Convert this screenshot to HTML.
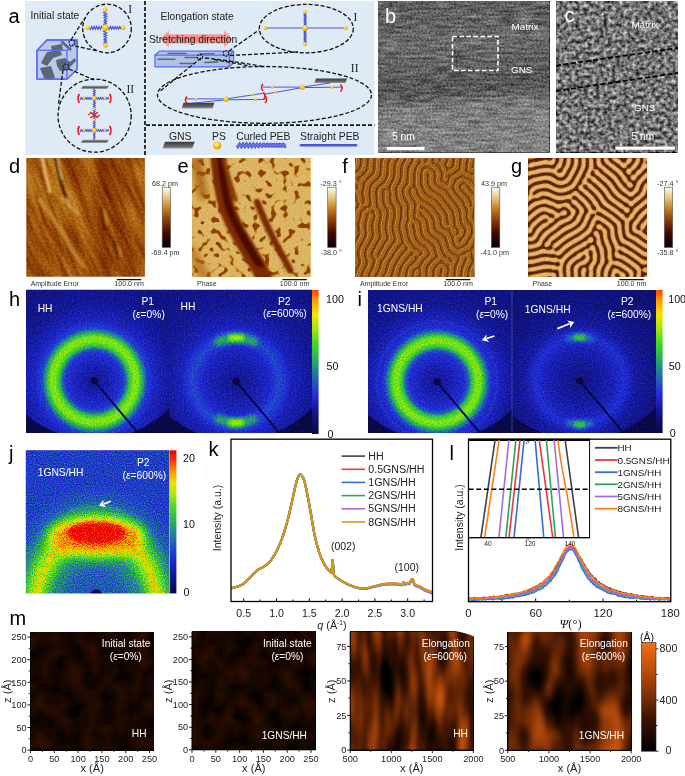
<!DOCTYPE html>
<html><head><meta charset="utf-8"><title>Figure</title>
<style>html,body{margin:0;padding:0;background:#fff;} svg{display:block;}</style></head>
<body><svg width="685" height="776" viewBox="0 0 685 776" font-family="'Liberation Sans', sans-serif">
<defs><radialGradient id="gball" cx="0.4" cy="0.35" r="0.7"><stop offset="0" stop-color="#fff3a0"/><stop offset="0.5" stop-color="#f7c520"/><stop offset="1" stop-color="#d99a00"/></radialGradient><linearGradient id="ggns" x1="0" y1="0" x2="0" y2="1"><stop offset="0" stop-color="#9a9a9a"/><stop offset="1" stop-color="#3a3a3a"/></linearGradient><linearGradient id="ggns2" x1="0" y1="0" x2="0" y2="1"><stop offset="0" stop-color="#3a3a3a"/><stop offset="0.6" stop-color="#606060"/><stop offset="1" stop-color="#9a9a9a"/></linearGradient><filter id="fb" filterUnits="userSpaceOnUse" x="378" y="1" width="172" height="152" color-interpolation-filters="sRGB"><feTurbulence type="fractalNoise" baseFrequency="0.55" numOctaves="1" seed="3" result="n1"/><feColorMatrix in="n1" type="matrix" values="1 0 0 0 0  1 0 0 0 0  1 0 0 0 0  0 0 0 0 1" result="g1"/><feTurbulence type="fractalNoise" baseFrequency="0.06 0.38" numOctaves="1" seed="8" result="n2"/><feColorMatrix in="n2" type="matrix" values="1 0 0 0 0  1 0 0 0 0  1 0 0 0 0  0 0 0 0 1" result="g2"/><feComposite in="SourceGraphic" in2="g1" operator="arithmetic" k1="0" k2="1" k3="0.5" k4="-0.25" result="m1"/><feComposite in="m1" in2="g2" operator="arithmetic" k1="0" k2="1" k3="0.45" k4="-0.225"/></filter><linearGradient id="gbbase" gradientUnits="userSpaceOnUse" x1="460" y1="1" x2="471" y2="153"><stop offset="0" stop-color="#606060"/><stop offset="0.18" stop-color="#646464"/><stop offset="0.27" stop-color="#6c6c6c"/><stop offset="0.34" stop-color="#656565"/><stop offset="0.48" stop-color="#5d5d5d"/><stop offset="0.56" stop-color="#565656"/><stop offset="0.61" stop-color="#5c5c5c"/><stop offset="0.655" stop-color="#707070"/><stop offset="0.7" stop-color="#7e7e7e"/><stop offset="1.0" stop-color="#838383"/></linearGradient><filter id="fc" filterUnits="userSpaceOnUse" x="556" y="1" width="122" height="152" color-interpolation-filters="sRGB"><feTurbulence type="fractalNoise" baseFrequency="0.25" numOctaves="2" seed="11" result="n"/><feColorMatrix in="n" type="matrix" values="1 0 0 0 0  1 0 0 0 0  1 0 0 0 0  0 0 0 0 1" result="ng"/><feComposite in="SourceGraphic" in2="ng" operator="arithmetic" k1="0" k2="1" k3="1.15" k4="-0.575" result="mix"/></filter><filter id="bl1" x="-20%" y="-20%" width="140%" height="140%"><feGaussianBlur stdDeviation="1.1"/></filter><filter id="bl05" x="-20%" y="-20%" width="140%" height="140%"><feGaussianBlur stdDeviation="0.6"/></filter><filter id="bl2" x="-100%" y="-50%" width="300%" height="200%"><feGaussianBlur stdDeviation="3"/></filter><clipPath id="cpd"><rect x="26.3" y="158" width="118.6" height="118.8"/></clipPath><filter id="fd2" filterUnits="userSpaceOnUse" x="-90" y="-90" width="180" height="180" color-interpolation-filters="sRGB"><feTurbulence type="fractalNoise" baseFrequency="0.012 0.05" numOctaves="2" seed="21" result="n0"/><feColorMatrix in="n0" type="matrix" values="1 0 0 0 0  1 0 0 0 0  1 0 0 0 0  0 0 0 0 1" result="g0"/><feComposite in="SourceGraphic" in2="g0" operator="arithmetic" k1="0" k2="1" k3="0.35" k4="-0.175" result="m0"/><feTurbulence type="fractalNoise" baseFrequency="0.03 0.25" numOctaves="1" seed="23" result="n1"/><feColorMatrix in="n1" type="matrix" values="1 0 0 0 0  1 0 0 0 0  1 0 0 0 0  0 0 0 0 1" result="g1"/><feComposite in="m0" in2="g1" operator="arithmetic" k1="0" k2="1" k3="0.3" k4="-0.15" result="m1"/><feTurbulence type="fractalNoise" baseFrequency="0.6" numOctaves="1" seed="22" result="n2"/><feColorMatrix in="n2" type="matrix" values="1 0 0 0 0  1 0 0 0 0  1 0 0 0 0  0 0 0 0 1" result="g2"/><feComposite in="m1" in2="g2" operator="arithmetic" k1="0" k2="1" k3="0.3" k4="-0.15" result="m2"/><feComponentTransfer in="m2"><feFuncR type="table" tableValues="0.000 0.055 0.110 0.165 0.220 0.275 0.343 0.412 0.480 0.549 0.601 0.653 0.705 0.752 0.795 0.839 0.882 0.912 0.941 0.971 1.000"/><feFuncG type="table" tableValues="0.000 0.008 0.016 0.024 0.031 0.039 0.088 0.137 0.186 0.235 0.304 0.374 0.443 0.516 0.593 0.669 0.745 0.806 0.867 0.927 0.988"/><feFuncB type="table" tableValues="0.000 0.000 0.000 0.000 0.000 0.000 0.005 0.010 0.015 0.020 0.043 0.066 0.089 0.154 0.246 0.339 0.431 0.559 0.686 0.814 0.941"/><feFuncA type="linear" slope="0" intercept="1"/></feComponentTransfer></filter><clipPath id="cpe"><rect x="192" y="158" width="118.8" height="119"/></clipPath><filter id="fe" filterUnits="userSpaceOnUse" x="192" y="158" width="118.8" height="119" color-interpolation-filters="sRGB"><feTurbulence type="fractalNoise" baseFrequency="0.17" numOctaves="1" seed="31" result="n"/><feColorMatrix in="n" type="matrix" values="9 0 0 0 -3.0100000000000002  9 0 0 0 -3.0100000000000002  9 0 0 0 -3.0100000000000002  0 0 0 0 1" result="g"/><feGaussianBlur in="g" stdDeviation="0.45" result="tb"/><feComponentTransfer in="tb" result="ts"><feFuncR type="linear" slope="0.32" intercept="0.46"/><feFuncG type="linear" slope="0.32" intercept="0.46"/><feFuncB type="linear" slope="0.32" intercept="0.46"/></feComponentTransfer><feTurbulence type="fractalNoise" baseFrequency="0.7" numOctaves="1" seed="81" result="fn"/><feColorMatrix in="fn" type="matrix" values="1 0 0 0 0  1 0 0 0 0  1 0 0 0 0  0 0 0 0 1" result="fg"/><feComposite in="ts" in2="fg" operator="arithmetic" k1="0" k2="1" k3="0.12" k4="-0.06" result="mx"/><feComponentTransfer in="mx"><feFuncR type="table" tableValues="0.000 0.055 0.110 0.165 0.220 0.275 0.343 0.412 0.480 0.549 0.601 0.653 0.705 0.752 0.795 0.839 0.882 0.912 0.941 0.971 1.000"/><feFuncG type="table" tableValues="0.000 0.008 0.016 0.024 0.031 0.039 0.088 0.137 0.186 0.235 0.304 0.374 0.443 0.516 0.593 0.669 0.745 0.806 0.867 0.927 0.988"/><feFuncB type="table" tableValues="0.000 0.000 0.000 0.000 0.000 0.000 0.005 0.010 0.015 0.020 0.043 0.066 0.089 0.154 0.246 0.339 0.431 0.559 0.686 0.814 0.941"/><feFuncA type="linear" slope="0" intercept="1"/></feComponentTransfer></filter><clipPath id="cpf"><rect x="355" y="158" width="119.6" height="119"/></clipPath><filter id="fnf" filterUnits="userSpaceOnUse" x="355" y="158" width="119.6" height="119" color-interpolation-filters="sRGB"><feTurbulence type="fractalNoise" baseFrequency="0.7" numOctaves="1" seed="44" result="n"/><feColorMatrix in="n" type="matrix" values="1 0 0 0 0  1 0 0 0 0  1 0 0 0 0  0 0 0 0 1" result="g"/><feComposite in="SourceGraphic" in2="g" operator="arithmetic" k1="0" k2="1" k3="0.22" k4="-0.11"/></filter><path id="pf" d="M355.2,171.4 355.2,167.8 355.9,166.2 356.9,160.2 357.0,158.2 360.4,158.2 359.8,164.8 359.3,166.8 356.8,170.5 355.2,171.4ZM355.2,239.7 355.2,221.2 355.2,220.2 355.8,219.8 356.1,218.8 355.8,214.2 356.5,211.8 357.6,209.8 360.0,206.8 360.8,204.2 359.1,201.8 358.9,198.2 358.4,196.2 356.8,192.2 356.2,191.5 355.2,191.2 355.2,186.5 356.6,189.8 357.2,190.4 358.2,190.2 358.9,189.8 359.5,188.8 359.6,187.8 359.5,186.2 358.8,184.9 356.2,182.9 355.2,181.8 355.2,175.6 356.2,174.8 357.8,172.7 360.8,171.1 361.9,169.2 362.9,166.8 363.3,164.8 363.7,158.2 367.1,158.2 366.4,167.2 365.5,170.2 362.5,173.2 361.1,175.2 360.2,175.9 358.2,176.6 357.2,177.8 357.1,179.2 358.2,180.8 359.8,181.3 361.1,180.8 362.6,177.2 365.8,175.1 368.5,171.8 369.3,170.2 369.9,167.8 370.1,162.2 370.6,158.2 374.1,158.2 373.6,161.2 373.0,170.2 372.3,172.2 370.8,174.5 367.2,177.6 365.5,180.2 362.9,182.2 362.4,183.2 362.9,187.8 361.4,191.2 361.1,193.8 361.5,195.8 362.5,198.2 362.5,200.8 362.1,203.2 363.0,204.2 364.2,204.6 364.8,204.4 365.4,203.8 365.9,202.8 366.1,201.2 366.0,199.2 365.1,196.2 364.9,193.2 365.1,191.2 366.6,183.8 367.6,182.2 374.2,175.7 375.8,173.2 376.4,170.8 377.1,160.8 377.7,158.2 381.4,158.2 380.6,160.8 380.2,163.2 379.9,170.2 379.4,173.8 378.9,175.2 377.5,177.2 371.2,183.2 370.2,184.8 369.1,187.8 368.6,190.8 368.5,194.2 369.4,201.2 369.4,203.8 368.2,205.9 367.2,206.4 365.2,206.3 364.2,206.9 360.5,211.2 359.6,213.2 359.3,217.2 359.0,218.8 357.6,221.8 357.2,224.2 357.9,230.8 357.8,233.8 356.9,236.8 355.2,239.7ZM366.8,277.8 363.8,277.8 364.1,275.8 365.1,272.8 369.0,264.8 369.4,263.2 369.3,260.8 367.5,255.8 367.6,252.2 368.5,249.8 374.5,238.8 375.5,235.8 375.4,233.2 374.6,229.2 374.5,224.2 375.1,221.8 376.4,218.2 376.6,216.2 375.3,210.8 374.2,209.6 373.2,209.3 372.2,209.6 370.8,212.2 370.2,212.5 368.8,212.5 367.8,212.8 366.8,213.8 366.1,215.2 364.2,224.8 364.2,226.8 364.9,231.8 364.9,234.2 364.0,237.2 360.1,244.8 357.1,251.2 356.9,253.8 358.4,258.8 358.5,262.8 357.9,264.8 355.2,269.5 355.2,247.1 360.9,235.8 361.4,233.8 361.4,231.8 360.7,224.8 361.1,222.2 362.4,217.8 363.1,213.8 363.5,212.8 364.2,211.7 366.2,210.4 368.2,208.5 369.2,208.1 371.2,208.1 371.8,207.8 372.4,206.8 372.7,204.2 372.0,196.2 372.0,191.8 372.1,189.8 372.6,187.8 373.6,185.8 374.8,184.3 380.3,179.2 382.3,176.2 382.9,173.8 383.3,170.2 383.6,163.2 384.2,160.8 385.1,158.2 388.8,158.2 389.0,158.2 387.6,161.2 387.1,163.2 386.5,173.8 384.9,178.8 382.2,182.3 377.2,186.5 376.1,188.2 375.6,189.8 375.3,192.8 376.0,201.8 376.1,206.8 376.7,208.2 379.0,210.8 379.4,211.8 379.8,214.2 379.4,219.2 378.1,223.8 378.0,225.2 378.1,229.8 378.9,233.8 379.0,236.8 378.4,238.8 376.2,242.2 371.1,252.2 370.8,254.2 371.0,256.2 372.9,260.2 373.0,263.2 371.3,267.8 368.6,273.2 367.2,277.8 366.8,277.8ZM374.2,277.8 370.7,277.8 372.1,273.8 375.3,267.2 376.7,261.8 376.6,259.2 374.5,256.8 374.1,255.8 374.1,254.2 375.1,251.2 379.7,242.8 382.0,239.2 382.5,238.2 382.7,236.2 381.6,230.8 381.4,226.2 381.6,224.2 382.9,218.2 383.4,213.8 382.9,211.2 380.5,207.8 379.5,205.2 378.6,194.2 378.7,191.8 379.2,189.8 380.2,187.9 381.8,186.7 384.2,185.3 385.8,183.8 386.9,182.2 389.4,176.8 389.9,174.2 390.2,165.8 390.6,163.2 392.1,159.8 393.0,158.2 396.8,158.2 396.9,158.2 394.7,162.2 393.6,165.8 393.4,174.2 392.4,178.8 387.8,187.6 386.8,188.3 384.8,188.3 383.9,188.8 382.7,190.2 382.1,191.8 382.0,194.8 382.7,203.2 383.7,206.2 386.4,210.8 386.8,213.2 386.4,217.8 385.1,223.8 384.9,226.8 385.1,230.8 386.4,236.2 386.4,237.8 385.8,239.8 383.6,242.8 378.0,252.8 377.5,255.2 377.6,256.8 377.9,257.2 379.2,257.6 379.8,257.5 380.5,256.8 382.2,251.8 383.9,249.2 386.6,244.2 389.4,240.8 390.0,239.2 390.0,236.8 389.1,233.8 388.2,227.2 388.6,223.2 389.9,217.2 390.1,212.2 389.5,209.2 387.1,205.2 386.1,202.8 385.4,194.8 385.6,192.2 386.7,190.2 387.2,189.8 388.2,190.0 389.3,191.2 389.4,192.8 388.8,196.8 389.6,202.2 390.2,203.8 392.4,207.2 393.4,210.2 393.4,216.8 392.0,223.2 391.6,227.2 392.6,233.8 393.9,238.2 393.9,239.8 393.3,241.2 390.6,244.2 386.0,251.8 383.9,256.8 381.0,259.8 380.2,261.8 379.4,265.8 378.4,268.8 375.2,275.2 374.2,277.8ZM381.2,277.8 377.9,277.8 381.9,269.2 383.1,264.2 384.1,261.8 387.5,256.8 389.6,252.2 392.4,248.2 394.1,245.2 396.8,242.7 397.5,241.2 397.5,238.8 396.6,235.8 395.1,227.8 395.1,225.2 396.4,219.8 396.9,216.2 396.9,209.8 396.3,207.2 393.6,202.8 392.5,199.8 392.3,197.8 392.5,193.2 391.6,188.8 392.2,186.2 395.5,180.2 396.4,177.8 397.0,166.8 397.6,164.2 400.8,158.2 404.2,158.2 404.5,158.2 404.0,159.8 401.6,163.8 400.6,166.2 400.1,169.8 399.9,178.2 398.8,181.2 395.7,186.8 395.1,189.8 396.1,199.8 397.0,201.8 399.8,206.2 400.3,208.8 400.0,218.8 398.6,224.8 398.5,227.8 399.1,231.2 401.4,240.8 401.4,242.2 400.8,243.7 398.8,244.9 397.5,246.2 395.9,249.2 393.2,252.8 391.5,256.2 387.7,262.2 386.6,264.8 384.9,271.2 381.9,277.2 381.2,277.8ZM396.8,277.8 393.3,277.8 394.8,274.2 396.1,268.2 397.1,265.8 402.0,257.8 406.2,252.2 408.7,250.8 409.4,249.2 409.0,247.2 406.2,244.6 405.1,241.8 404.6,240.2 403.8,235.8 402.1,229.2 402.0,224.8 403.5,218.8 403.5,212.2 403.9,207.8 403.0,204.8 400.7,201.2 399.5,198.8 399.1,196.2 398.5,190.2 399.1,187.2 401.9,182.8 403.0,180.2 403.5,177.8 403.6,169.2 404.6,165.2 407.3,160.8 408.1,158.2 411.2,158.2 411.6,158.2 411.5,159.2 411.0,161.2 408.2,165.8 407.2,168.8 406.4,181.2 405.4,183.8 402.6,187.8 402.0,189.8 402.1,193.8 403.1,198.2 404.1,200.2 406.5,203.8 407.3,207.2 406.6,213.8 407.0,217.2 407.0,219.2 405.6,224.2 405.3,226.8 405.6,229.2 406.9,233.8 408.1,239.8 409.1,242.2 413.4,248.2 414.2,250.0 414.8,250.5 418.2,251.1 419.0,251.8 419.4,252.8 419.5,254.8 418.8,255.5 415.2,255.7 414.3,252.2 413.8,251.5 411.8,251.6 410.8,252.1 409.4,254.8 406.6,257.2 401.1,265.2 399.1,269.8 398.0,275.8 397.4,277.2 397.1,277.8 396.8,277.8ZM425.2,277.8 421.5,277.8 422.5,275.8 422.6,274.8 422.0,270.2 422.1,267.2 423.2,264.8 427.2,259.4 428.3,258.2 430.8,256.2 431.5,254.8 431.5,252.8 428.5,247.2 421.8,242.0 420.0,240.2 419.0,238.8 417.6,235.2 416.5,230.2 415.9,225.2 414.8,223.3 413.8,222.9 412.8,223.2 412.2,223.9 412.0,224.8 412.0,226.2 413.3,230.2 413.6,233.2 414.2,235.8 415.6,239.8 417.2,242.2 419.8,244.9 423.8,247.6 426.9,250.8 427.8,252.2 427.9,253.2 427.5,254.8 426.8,255.8 424.2,257.7 420.7,262.2 418.2,266.7 417.2,267.6 414.8,268.1 413.1,269.8 412.1,273.2 411.6,277.8 408.2,277.8 408.6,273.2 409.1,271.2 411.0,267.2 412.0,266.2 413.8,265.4 415.2,264.1 418.9,259.2 420.2,256.4 423.2,255.2 423.9,253.8 423.9,252.8 423.1,251.2 420.2,249.5 415.1,245.2 412.6,241.2 411.1,237.8 408.6,225.8 409.1,223.8 410.0,222.2 410.5,220.8 410.5,219.2 410.0,215.8 410.8,205.8 409.9,202.8 407.6,199.2 406.1,196.2 405.5,194.2 405.3,192.2 405.5,189.8 406.0,188.2 408.9,184.8 409.9,182.2 410.2,172.2 410.6,169.2 412.1,165.8 414.0,163.2 414.4,162.2 414.7,159.8 415.0,158.2 415.2,158.2 418.5,158.2 418.9,159.2 418.9,160.2 417.2,163.2 416.3,165.8 414.1,169.2 413.6,173.2 413.3,182.8 413.0,185.2 412.2,186.8 409.7,188.2 409.1,189.2 408.6,191.8 409.1,194.2 410.7,197.8 413.5,202.2 414.3,205.2 413.7,210.8 413.3,218.2 414.2,220.0 417.2,221.6 418.4,222.8 419.0,223.8 419.4,224.8 419.8,226.8 420.2,231.2 421.0,234.8 422.1,237.2 424.3,239.8 430.7,244.8 432.5,246.8 433.3,248.2 434.0,251.2 435.4,254.8 435.4,255.8 434.8,257.1 431.7,259.2 429.9,261.8 427.7,264.2 426.1,266.8 425.5,268.8 425.6,277.2 425.6,277.8 425.2,277.8ZM460.8,246.4 458.2,246.4 457.3,245.8 456.6,244.8 455.0,239.8 455.1,237.8 455.6,235.8 453.0,233.8 452.5,232.8 451.8,229.2 451.2,228.7 449.8,228.1 447.2,228.2 446.2,227.9 444.8,226.6 443.7,225.2 443.1,223.8 442.9,219.8 442.4,217.2 440.4,213.2 436.4,207.8 434.2,205.2 429.8,201.6 428.2,200.7 424.8,199.3 423.0,197.8 421.0,195.2 420.1,193.2 418.9,189.8 417.1,187.2 416.6,184.8 417.0,172.2 418.0,169.8 418.6,166.8 419.4,165.8 421.4,164.2 422.6,162.8 422.5,161.8 421.0,159.8 421.3,158.2 425.5,158.2 424.0,161.2 423.8,162.2 424.8,163.0 426.2,163.5 427.2,163.4 428.3,162.2 428.7,160.8 428.6,158.2 432.3,158.2 431.5,161.2 431.6,162.2 432.0,163.2 433.2,164.4 435.2,164.9 436.2,165.5 438.4,168.2 440.4,171.8 440.9,173.2 441.1,175.2 440.4,179.8 440.6,180.8 441.1,181.8 442.2,182.6 444.8,183.3 447.2,185.8 448.2,185.9 449.2,185.3 449.6,184.8 449.9,183.8 450.0,180.8 452.8,176.1 456.2,174.8 458.2,173.1 460.8,171.6 461.5,170.8 461.9,169.8 462.1,166.2 463.3,158.2 466.8,158.2 465.6,164.2 465.8,167.2 464.7,170.8 465.0,172.2 465.8,172.9 469.8,173.2 472.2,175.4 473.8,175.8 474.8,175.7 474.8,181.0 473.2,179.1 471.8,178.0 467.2,176.9 466.2,176.3 464.2,174.4 462.2,174.5 459.2,176.8 456.2,178.1 454.8,179.5 453.8,181.3 452.9,184.2 451.8,185.9 451.5,186.8 451.5,188.2 452.2,189.8 456.2,195.8 461.5,201.8 463.5,206.2 465.0,208.8 465.9,212.2 466.1,219.8 467.2,222.2 470.0,225.2 470.9,227.8 470.9,233.2 470.4,235.2 469.9,236.2 468.2,238.3 466.8,241.8 465.8,243.1 461.8,246.0 460.8,246.4ZM446.2,181.4 445.2,181.4 444.8,180.9 444.0,179.2 444.0,176.8 445.0,174.2 444.4,172.2 442.7,169.8 441.4,166.2 439.8,163.5 436.8,163.1 435.6,161.8 435.1,159.8 435.4,158.2 438.8,158.2 439.2,160.8 439.8,161.9 440.2,162.3 441.2,162.0 442.2,161.2 442.8,158.2 446.4,158.2 446.0,160.2 444.4,162.8 444.1,164.2 444.6,165.8 445.9,167.8 446.7,170.8 447.2,171.4 448.2,171.8 449.2,171.5 451.2,169.6 453.8,168.5 455.0,167.2 455.8,164.8 455.8,161.8 456.5,158.2 459.9,158.2 459.1,163.2 458.9,167.2 458.4,168.8 457.2,170.0 454.2,171.6 452.2,173.9 451.2,174.1 449.2,174.0 448.2,174.4 447.5,175.8 448.2,179.8 447.5,180.8 446.2,181.4ZM450.2,167.4 449.2,167.3 448.3,166.8 447.8,165.8 448.0,163.8 449.5,160.8 449.6,158.2 453.0,158.2 452.0,165.2 451.2,166.7 450.2,167.4ZM474.8,171.4 471.2,171.6 470.2,171.4 469.2,170.2 468.6,168.8 468.5,167.2 470.3,158.2 473.5,158.2 473.4,162.2 471.6,165.8 471.6,166.8 472.1,167.8 472.8,168.4 473.8,168.5 474.8,168.1 474.8,171.4ZM461.8,242.8 462.9,241.2 463.8,238.9 466.5,236.2 467.4,232.2 467.6,229.8 467.4,228.2 466.9,227.2 464.1,223.8 463.1,221.2 462.7,218.8 462.4,212.2 461.9,210.2 460.8,207.8 457.9,202.8 453.6,197.8 450.7,193.8 447.8,188.9 446.8,188.1 443.8,187.4 438.8,184.0 437.6,182.8 437.1,181.2 437.0,180.2 437.5,176.8 437.4,173.8 436.9,171.8 435.9,170.2 431.8,166.6 429.8,165.7 427.8,165.6 423.2,167.0 422.2,167.8 421.1,169.8 420.1,175.2 420.1,183.8 421.0,187.2 423.0,190.8 424.2,193.8 425.0,194.8 427.8,196.9 432.8,199.6 435.2,201.6 437.9,204.2 443.4,211.8 444.9,214.2 445.9,217.2 446.6,223.2 447.2,224.5 448.2,225.5 449.2,225.7 450.0,225.2 450.5,224.2 450.6,223.2 450.4,222.2 449.6,220.2 448.9,214.8 446.9,210.8 440.9,202.8 438.2,199.7 435.8,197.6 429.2,193.9 428.0,192.8 426.6,190.8 424.1,185.8 423.6,183.2 423.6,173.8 424.1,171.8 425.8,169.5 426.8,168.9 428.2,169.0 430.8,170.1 432.9,171.8 433.9,173.8 434.0,176.2 433.6,180.8 434.1,183.2 434.6,184.2 435.8,185.8 439.2,188.4 443.8,190.6 445.8,192.3 449.1,197.2 455.4,205.2 457.8,209.2 458.9,212.8 459.4,216.2 459.6,220.8 460.1,223.2 461.2,225.7 463.4,228.2 464.1,230.2 463.9,232.8 462.8,236.2 461.9,237.2 459.2,238.5 458.4,240.2 458.6,241.8 459.2,242.4 460.2,242.9 461.8,242.8ZM459.1,235.2 460.0,234.2 460.5,233.2 460.4,230.8 457.1,225.2 456.6,223.8 456.5,219.2 455.4,212.8 454.3,209.8 451.9,206.2 443.2,194.9 441.2,193.1 436.2,190.5 434.2,188.9 432.1,186.8 431.2,185.2 430.6,183.2 430.1,179.2 430.6,175.8 430.4,173.8 429.2,172.5 427.8,172.6 427.0,173.2 426.5,174.2 426.5,175.8 427.3,178.8 426.9,181.8 427.2,183.8 428.7,187.8 430.1,189.8 431.8,191.4 438.8,195.6 441.2,197.8 450.9,210.8 451.9,212.8 453.4,220.8 453.6,227.2 454.4,228.2 455.8,229.2 456.5,230.2 456.5,233.2 455.9,235.2 456.8,235.7 457.8,235.7 459.1,235.2ZM452.8,277.8 449.6,277.8 450.3,272.8 450.8,267.2 450.2,264.5 449.8,263.9 446.4,263.2 445.7,262.8 443.8,259.9 442.2,259.4 440.7,259.8 439.2,262.2 436.0,264.2 433.6,267.8 432.5,270.2 432.4,277.8 428.6,277.8 429.1,274.8 429.0,269.8 430.1,266.8 431.2,265.0 434.2,262.0 435.9,259.8 436.8,259.1 438.8,258.4 439.2,258.0 439.5,257.2 439.5,255.8 438.0,252.8 436.9,248.2 435.4,244.8 433.6,242.8 427.2,237.9 425.0,235.2 424.1,233.2 423.6,231.2 422.9,224.8 422.3,222.8 420.8,220.3 417.8,218.4 416.6,216.8 416.4,214.8 417.6,212.2 417.1,208.2 417.9,205.2 417.9,203.8 417.0,201.2 415.6,199.2 412.5,193.8 412.1,191.2 412.6,189.2 413.2,188.4 414.2,188.4 415.0,188.8 415.9,190.2 416.0,192.8 416.5,194.2 418.3,196.8 420.6,200.8 422.2,202.0 425.2,202.6 426.2,203.2 431.2,207.1 433.4,209.2 437.9,215.8 438.9,217.8 439.4,219.8 440.0,225.2 441.1,227.8 443.2,229.8 446.8,230.6 448.5,232.2 449.9,234.2 450.9,236.2 451.9,239.2 452.5,243.8 453.7,246.2 457.2,250.0 458.2,250.4 459.8,250.4 460.8,250.0 463.3,248.2 466.2,247.4 468.2,245.7 473.5,236.2 474.5,232.8 473.8,224.2 472.8,222.5 470.8,221.5 470.1,220.8 469.1,218.2 469.1,215.8 469.4,211.8 468.9,208.8 466.7,205.8 465.9,202.8 464.8,200.4 459.2,194.2 456.6,190.8 455.6,188.8 455.3,186.2 455.6,184.8 458.6,180.8 460.8,179.0 462.2,178.6 464.2,178.6 469.2,180.7 470.8,181.6 474.2,185.0 474.8,185.6 474.8,186.2 474.8,191.1 473.2,190.4 472.7,189.8 470.9,186.2 470.2,185.5 465.2,182.1 463.2,182.1 461.8,182.6 459.8,184.4 459.0,186.2 459.0,188.2 460.1,190.2 462.7,193.2 466.0,196.2 469.0,200.8 469.4,201.8 470.0,206.2 471.2,207.3 472.2,207.4 472.8,207.1 473.3,205.8 473.4,204.2 472.9,201.8 471.3,197.8 470.2,195.9 467.7,193.8 466.0,191.2 462.8,188.7 462.4,187.8 462.6,186.2 463.8,185.5 464.8,185.4 465.8,185.7 466.3,186.2 468.1,189.2 473.8,194.8 474.8,196.2 474.8,207.8 474.8,208.0 473.6,208.8 473.2,209.8 472.4,216.8 472.5,218.2 473.1,219.8 473.8,220.4 474.8,220.5 474.8,220.8 474.8,240.2 471.5,247.2 470.2,248.9 468.8,250.0 464.8,251.2 460.8,253.9 459.2,254.2 457.8,253.9 452.9,250.8 451.5,249.2 450.2,246.8 447.8,237.8 446.8,235.8 444.2,233.5 439.2,230.8 437.6,228.8 436.6,225.8 435.9,219.8 434.9,217.2 433.9,215.8 429.2,209.5 425.8,207.5 423.2,205.1 422.2,204.6 421.2,204.6 420.0,205.8 420.2,207.2 421.2,209.0 422.2,209.7 424.8,210.0 425.8,210.7 431.0,217.2 432.4,220.2 432.9,222.2 433.6,228.2 434.1,229.8 435.0,231.2 436.2,232.5 442.7,236.8 444.4,238.8 447.2,248.2 448.6,251.2 453.2,255.4 456.2,256.1 457.4,257.2 457.6,258.2 457.4,259.8 455.5,263.2 454.1,266.8 453.4,276.2 453.1,277.8 452.8,277.8ZM355.2,207.9 355.2,199.0 355.6,200.8 356.9,203.2 357.0,204.2 356.5,206.8 355.2,207.9ZM451.9,262.8 452.9,262.2 453.6,261.2 453.5,259.2 453.0,258.2 452.2,257.6 449.8,257.0 448.8,256.5 445.1,252.2 441.4,240.8 439.2,238.5 432.8,233.8 431.1,231.8 430.2,228.8 429.4,222.2 428.0,218.8 425.2,215.8 422.2,212.0 421.2,211.7 420.2,212.0 419.4,212.8 419.3,213.2 420.0,215.2 421.3,216.8 423.9,218.8 424.9,220.2 425.9,222.8 426.4,224.8 427.1,231.2 428.2,233.8 430.8,236.5 436.2,240.5 438.3,242.8 439.5,245.2 440.6,249.8 442.6,254.8 444.1,257.2 445.2,258.0 447.8,258.6 448.9,259.8 450.2,262.5 450.8,262.9 451.9,262.8ZM360.2,277.8 357.0,277.8 357.1,275.8 358.1,271.8 359.1,269.2 361.4,265.2 362.0,263.2 362.0,259.8 360.6,255.2 360.6,251.8 361.5,249.2 367.9,236.8 368.4,233.2 367.6,227.8 367.7,224.2 369.6,216.2 370.5,213.8 370.8,213.3 371.2,213.3 372.9,214.2 373.5,215.8 373.5,216.8 371.6,221.2 371.1,225.2 371.1,228.2 371.9,232.8 371.9,235.2 371.0,238.2 365.1,249.2 364.2,251.8 364.0,255.2 365.5,259.8 365.7,262.8 365.2,264.7 361.6,272.2 360.6,275.8 360.5,277.8 360.2,277.8ZM389.2,277.8 385.4,277.8 388.0,272.8 389.5,266.8 390.7,263.8 397.1,252.8 400.3,249.2 401.8,246.1 402.8,245.4 404.2,245.5 404.8,245.8 405.3,246.8 405.0,249.2 404.2,250.2 401.6,252.2 394.7,263.2 393.1,266.8 390.9,274.8 389.2,277.8ZM474.8,259.2 474.5,255.8 472.9,252.8 473.1,251.8 474.8,248.1 474.8,259.2ZM466.8,277.8 463.4,277.8 464.0,270.8 464.7,268.2 466.0,264.8 468.5,259.8 468.5,258.2 467.8,257.5 466.2,256.9 465.8,257.0 465.2,257.6 464.1,260.2 463.4,262.8 461.7,266.2 460.6,270.2 460.0,277.8 456.5,277.8 457.1,271.2 458.1,265.8 460.4,261.8 460.7,258.2 461.2,256.7 461.8,256.0 462.8,255.6 465.2,255.7 465.8,255.5 467.8,253.1 468.8,252.5 469.8,252.5 470.8,253.0 471.2,253.8 470.5,257.2 471.9,260.8 471.3,262.8 469.0,266.2 468.1,268.8 467.2,273.2 466.8,277.8ZM404.2,277.8 401.0,277.8 403.1,268.2 406.6,262.8 409.2,260.2 411.2,256.9 412.8,256.1 414.8,255.8 415.1,256.2 415.2,257.8 414.8,259.6 414.2,260.3 411.4,262.2 409.8,264.6 407.6,266.8 406.7,268.2 405.6,271.8 404.8,277.2 404.6,277.8 404.2,277.8ZM473.2,277.8 470.3,277.8 470.6,273.8 471.7,268.8 474.8,263.5 474.8,270.2 474.1,273.2 473.5,277.8 473.2,277.8ZM446.2,277.8 442.7,277.8 442.5,274.2 443.9,271.2 444.1,269.8 444.0,268.8 443.6,268.2 442.2,267.6 440.8,268.2 440.1,269.2 439.6,274.2 438.8,277.8 435.5,277.8 436.0,275.8 436.1,270.2 437.1,268.2 438.8,266.6 439.9,264.8 440.8,264.1 442.8,264.1 444.8,265.0 446.2,266.5 447.4,268.2 447.5,270.8 446.1,275.2 446.2,277.8ZM418.2,277.8 415.1,277.8 415.4,276.2 415.2,274.2 415.6,272.2 416.8,270.5 417.8,269.7 418.2,269.7 419.2,270.2 419.8,271.8 419.5,273.2 418.1,276.2 418.2,277.8Z" fill-rule="evenodd"/><clipPath id="cpg"><rect x="528" y="158" width="119.2" height="119"/></clipPath><filter id="fng" filterUnits="userSpaceOnUse" x="528" y="158" width="119.2" height="119" color-interpolation-filters="sRGB"><feTurbulence type="fractalNoise" baseFrequency="0.7" numOctaves="1" seed="54" result="n"/><feColorMatrix in="n" type="matrix" values="1 0 0 0 0  1 0 0 0 0  1 0 0 0 0  0 0 0 0 1" result="g"/><feComposite in="SourceGraphic" in2="g" operator="arithmetic" k1="0" k2="1" k3="0.16" k4="-0.08"/></filter><linearGradient id="ggold" x1="0" y1="0" x2="0" y2="1"><stop offset="0.000" stop-color="rgb(255, 252, 240)"/><stop offset="0.200" stop-color="rgb(225, 190, 110)"/><stop offset="0.380" stop-color="rgb(185, 120, 25)"/><stop offset="0.550" stop-color="rgb(140, 60, 5)"/><stop offset="0.750" stop-color="rgb(70, 10, 0)"/><stop offset="1.000" stop-color="rgb(0, 0, 0)"/></linearGradient><filter id="bl3" x="-30%" y="-50%" width="160%" height="200%"><feGaussianBlur stdDeviation="2.2"/></filter><filter id="bl4" x="-30%" y="-50%" width="160%" height="200%"><feGaussianBlur stdDeviation="6"/></filter><filter id="fs1" filterUnits="userSpaceOnUse" x="26" y="289.8" width="143" height="143.2" color-interpolation-filters="sRGB"><feTurbulence type="fractalNoise" baseFrequency="0.65" numOctaves="1" seed="61" result="n0"/><feColorMatrix in="n0" type="matrix" values="1 0 0 0 0  1 0 0 0 0  1 0 0 0 0  0 0 0 0 1" result="g0"/><feComposite in="SourceGraphic" in2="g0" operator="arithmetic" k1="0" k2="1" k3="0.28" k4="-0.14" result="m0"/><feComponentTransfer in="m0"><feFuncR type="table" tableValues="0.031 0.044 0.058 0.071 0.096 0.122 0.137 0.137 0.137 0.147 0.157 0.190 0.222 0.344 0.525 0.706 0.853 0.954 0.987 1.000 1.000"/><feFuncG type="table" tableValues="0.031 0.050 0.068 0.086 0.121 0.156 0.219 0.325 0.431 0.539 0.647 0.729 0.810 0.859 0.884 0.910 0.905 0.841 0.688 0.495 0.275"/><feFuncB type="table" tableValues="0.235 0.340 0.444 0.549 0.677 0.805 0.846 0.757 0.667 0.529 0.392 0.294 0.196 0.130 0.084 0.039 0.015 0.000 0.000 0.000 0.000"/><feFuncA type="linear" slope="0" intercept="1"/></feComponentTransfer></filter><clipPath id="cp1"><rect x="26" y="289.8" width="143" height="143.2"/></clipPath><radialGradient id="rg1" gradientUnits="userSpaceOnUse" cx="94.3" cy="380.8" r="110"><stop offset="0.000" stop-color="rgb(41,41,41)"/><stop offset="0.120" stop-color="rgb(51,51,51)"/><stop offset="0.250" stop-color="rgb(69,69,69)"/><stop offset="0.285" stop-color="rgb(92,92,92)"/><stop offset="0.320" stop-color="rgb(148,148,148)"/><stop offset="0.360" stop-color="rgb(178,178,178)"/><stop offset="0.400" stop-color="rgb(176,176,176)"/><stop offset="0.440" stop-color="rgb(128,128,128)"/><stop offset="0.480" stop-color="rgb(79,79,79)"/><stop offset="0.550" stop-color="rgb(59,59,59)"/><stop offset="0.700" stop-color="rgb(43,43,43)"/><stop offset="0.850" stop-color="rgb(36,36,36)"/><stop offset="1.000" stop-color="rgb(33,33,33)"/></radialGradient><filter id="fs2" filterUnits="userSpaceOnUse" x="169" y="289.8" width="143" height="143.2" color-interpolation-filters="sRGB"><feTurbulence type="fractalNoise" baseFrequency="0.65" numOctaves="1" seed="62" result="n0"/><feColorMatrix in="n0" type="matrix" values="1 0 0 0 0  1 0 0 0 0  1 0 0 0 0  0 0 0 0 1" result="g0"/><feComposite in="SourceGraphic" in2="g0" operator="arithmetic" k1="0" k2="1" k3="0.28" k4="-0.14" result="m0"/><feComponentTransfer in="m0"><feFuncR type="table" tableValues="0.031 0.044 0.058 0.071 0.096 0.122 0.137 0.137 0.137 0.147 0.157 0.190 0.222 0.344 0.525 0.706 0.853 0.954 0.987 1.000 1.000"/><feFuncG type="table" tableValues="0.031 0.050 0.068 0.086 0.121 0.156 0.219 0.325 0.431 0.539 0.647 0.729 0.810 0.859 0.884 0.910 0.905 0.841 0.688 0.495 0.275"/><feFuncB type="table" tableValues="0.235 0.340 0.444 0.549 0.677 0.805 0.846 0.757 0.667 0.529 0.392 0.294 0.196 0.130 0.084 0.039 0.015 0.000 0.000 0.000 0.000"/><feFuncA type="linear" slope="0" intercept="1"/></feComponentTransfer></filter><clipPath id="cp2"><rect x="169" y="289.8" width="143" height="143.2"/></clipPath><radialGradient id="rg2" gradientUnits="userSpaceOnUse" cx="236.2" cy="381.3" r="110"><stop offset="0.000" stop-color="rgb(38,38,38)"/><stop offset="0.150" stop-color="rgb(48,48,48)"/><stop offset="0.300" stop-color="rgb(61,61,61)"/><stop offset="0.360" stop-color="rgb(76,76,76)"/><stop offset="0.390" stop-color="rgb(84,84,84)"/><stop offset="0.430" stop-color="rgb(76,76,76)"/><stop offset="0.500" stop-color="rgb(56,56,56)"/><stop offset="0.700" stop-color="rgb(41,41,41)"/><stop offset="1.000" stop-color="rgb(33,33,33)"/></radialGradient><filter id="fs3" filterUnits="userSpaceOnUse" x="368" y="289.9" width="144" height="143.20000000000005" color-interpolation-filters="sRGB"><feTurbulence type="fractalNoise" baseFrequency="0.65" numOctaves="1" seed="63" result="n0"/><feColorMatrix in="n0" type="matrix" values="1 0 0 0 0  1 0 0 0 0  1 0 0 0 0  0 0 0 0 1" result="g0"/><feComposite in="SourceGraphic" in2="g0" operator="arithmetic" k1="0" k2="1" k3="0.28" k4="-0.14" result="m0"/><feComponentTransfer in="m0"><feFuncR type="table" tableValues="0.031 0.044 0.058 0.071 0.096 0.122 0.137 0.137 0.137 0.147 0.157 0.190 0.222 0.344 0.525 0.706 0.853 0.954 0.987 1.000 1.000"/><feFuncG type="table" tableValues="0.031 0.050 0.068 0.086 0.121 0.156 0.219 0.325 0.431 0.539 0.647 0.729 0.810 0.859 0.884 0.910 0.905 0.841 0.688 0.495 0.275"/><feFuncB type="table" tableValues="0.235 0.340 0.444 0.549 0.677 0.805 0.846 0.757 0.667 0.529 0.392 0.294 0.196 0.130 0.084 0.039 0.015 0.000 0.000 0.000 0.000"/><feFuncA type="linear" slope="0" intercept="1"/></feComponentTransfer></filter><clipPath id="cp3"><rect x="368" y="289.9" width="144" height="143.20000000000005"/></clipPath><radialGradient id="rg3" gradientUnits="userSpaceOnUse" cx="437.1" cy="381.8" r="110"><stop offset="0.000" stop-color="rgb(41,41,41)"/><stop offset="0.120" stop-color="rgb(51,51,51)"/><stop offset="0.250" stop-color="rgb(69,69,69)"/><stop offset="0.285" stop-color="rgb(92,92,92)"/><stop offset="0.320" stop-color="rgb(148,148,148)"/><stop offset="0.360" stop-color="rgb(178,178,178)"/><stop offset="0.400" stop-color="rgb(173,173,173)"/><stop offset="0.440" stop-color="rgb(122,122,122)"/><stop offset="0.480" stop-color="rgb(76,76,76)"/><stop offset="0.520" stop-color="rgb(61,61,61)"/><stop offset="0.545" stop-color="rgb(69,69,69)"/><stop offset="0.570" stop-color="rgb(56,56,56)"/><stop offset="0.700" stop-color="rgb(41,41,41)"/><stop offset="0.850" stop-color="rgb(36,36,36)"/><stop offset="1.000" stop-color="rgb(33,33,33)"/></radialGradient><filter id="fs4" filterUnits="userSpaceOnUse" x="512" y="289.9" width="144" height="143.20000000000005" color-interpolation-filters="sRGB"><feTurbulence type="fractalNoise" baseFrequency="0.65" numOctaves="1" seed="64" result="n0"/><feColorMatrix in="n0" type="matrix" values="1 0 0 0 0  1 0 0 0 0  1 0 0 0 0  0 0 0 0 1" result="g0"/><feComposite in="SourceGraphic" in2="g0" operator="arithmetic" k1="0" k2="1" k3="0.28" k4="-0.14" result="m0"/><feComponentTransfer in="m0"><feFuncR type="table" tableValues="0.031 0.044 0.058 0.071 0.096 0.122 0.137 0.137 0.137 0.147 0.157 0.190 0.222 0.344 0.525 0.706 0.853 0.954 0.987 1.000 1.000"/><feFuncG type="table" tableValues="0.031 0.050 0.068 0.086 0.121 0.156 0.219 0.325 0.431 0.539 0.647 0.729 0.810 0.859 0.884 0.910 0.905 0.841 0.688 0.495 0.275"/><feFuncB type="table" tableValues="0.235 0.340 0.444 0.549 0.677 0.805 0.846 0.757 0.667 0.529 0.392 0.294 0.196 0.130 0.084 0.039 0.015 0.000 0.000 0.000 0.000"/><feFuncA type="linear" slope="0" intercept="1"/></feComponentTransfer></filter><clipPath id="cp4"><rect x="512" y="289.9" width="144" height="143.20000000000005"/></clipPath><radialGradient id="rg4" gradientUnits="userSpaceOnUse" cx="579.7" cy="380.7" r="110"><stop offset="0.000" stop-color="rgb(33,33,33)"/><stop offset="0.150" stop-color="rgb(43,43,43)"/><stop offset="0.300" stop-color="rgb(54,54,54)"/><stop offset="0.370" stop-color="rgb(64,64,64)"/><stop offset="0.400" stop-color="rgb(69,69,69)"/><stop offset="0.440" stop-color="rgb(61,61,61)"/><stop offset="0.500" stop-color="rgb(46,46,46)"/><stop offset="0.700" stop-color="rgb(33,33,33)"/><stop offset="1.000" stop-color="rgb(26,26,26)"/></radialGradient><filter id="fj" filterUnits="userSpaceOnUse" x="25.8" y="450.3" width="143.6" height="143.2" color-interpolation-filters="sRGB"><feTurbulence type="fractalNoise" baseFrequency="0.9" numOctaves="1" seed="71" result="n0"/><feColorMatrix in="n0" type="matrix" values="1 0 0 0 0  1 0 0 0 0  1 0 0 0 0  0 0 0 0 1" result="g0"/><feComposite in="SourceGraphic" in2="g0" operator="arithmetic" k1="0" k2="1" k3="0.55" k4="-0.275" result="m0"/><feComponentTransfer in="m0"><feFuncR type="table" tableValues="0.031 0.048 0.064 0.082 0.102 0.122 0.129 0.134 0.141 0.151 0.176 0.225 0.275 0.490 0.706 0.874 0.963 1.000 0.988 0.960 0.910"/><feFuncG type="table" tableValues="0.031 0.054 0.077 0.108 0.145 0.181 0.269 0.371 0.475 0.582 0.680 0.761 0.843 0.876 0.910 0.890 0.772 0.588 0.343 0.140 0.000"/><feFuncB type="table" tableValues="0.275 0.405 0.536 0.643 0.734 0.825 0.791 0.725 0.627 0.480 0.353 0.255 0.157 0.098 0.039 0.011 0.000 0.000 0.000 0.000 0.000"/><feFuncA type="linear" slope="0" intercept="1"/></feComponentTransfer></filter><clipPath id="cpj"><rect x="25.8" y="450.3" width="143.6" height="143.2"/></clipPath><radialGradient id="rgj" gradientUnits="userSpaceOnUse" cx="96.2" cy="610" r="100" gradientTransform="translate(96.2,610) scale(1,1.26) translate(-96.2,-610)"><stop offset="0.000" stop-color="rgb(82,82,82)"/><stop offset="0.300" stop-color="rgb(89,89,89)"/><stop offset="0.450" stop-color="rgb(112,112,112)"/><stop offset="0.530" stop-color="rgb(153,153,153)"/><stop offset="0.610" stop-color="rgb(194,194,194)"/><stop offset="0.680" stop-color="rgb(163,163,163)"/><stop offset="0.760" stop-color="rgb(120,120,120)"/><stop offset="0.860" stop-color="rgb(87,87,87)"/><stop offset="1.000" stop-color="rgb(71,71,71)"/></radialGradient><linearGradient id="gjet2" x1="0" y1="0" x2="0" y2="1"><stop offset="0.000" stop-color="rgb(232, 0, 0)"/><stop offset="0.070" stop-color="rgb(250, 50, 0)"/><stop offset="0.150" stop-color="rgb(255, 150, 0)"/><stop offset="0.230" stop-color="rgb(240, 225, 0)"/><stop offset="0.300" stop-color="rgb(180, 232, 10)"/><stop offset="0.400" stop-color="rgb(70, 215, 40)"/><stop offset="0.520" stop-color="rgb(40, 165, 100)"/><stop offset="0.620" stop-color="rgb(35, 110, 175)"/><stop offset="0.740" stop-color="rgb(32, 48, 215)"/><stop offset="0.880" stop-color="rgb(18, 22, 150)"/><stop offset="1.000" stop-color="rgb(8, 8, 70)"/></linearGradient><linearGradient id="gjet" x1="0" y1="0" x2="0" y2="1"><stop offset="0.000" stop-color="rgb(255, 70, 0)"/><stop offset="0.080" stop-color="rgb(255, 160, 0)"/><stop offset="0.170" stop-color="rgb(240, 230, 0)"/><stop offset="0.250" stop-color="rgb(180, 232, 10)"/><stop offset="0.380" stop-color="rgb(60, 215, 40)"/><stop offset="0.500" stop-color="rgb(40, 165, 100)"/><stop offset="0.600" stop-color="rgb(35, 110, 170)"/><stop offset="0.720" stop-color="rgb(35, 45, 225)"/><stop offset="0.850" stop-color="rgb(18, 22, 140)"/><stop offset="1.000" stop-color="rgb(8, 8, 60)"/></linearGradient><filter id="fm0" filterUnits="userSpaceOnUse" x="30.5" y="632" width="123.5" height="118.10000000000002" color-interpolation-filters="sRGB"><feTurbulence type="fractalNoise" baseFrequency="0.06" numOctaves="2" seed="81" result="n0"/><feColorMatrix in="n0" type="matrix" values="1 0 0 0 0  1 0 0 0 0  1 0 0 0 0  0 0 0 0 1" result="g0"/><feComposite in="SourceGraphic" in2="g0" operator="arithmetic" k1="0" k2="1" k3="0.32" k4="-0.16" result="m0"/><feComponentTransfer in="m0"><feFuncR type="table" tableValues="0.000 0.039 0.078 0.118 0.157 0.196 0.235 0.294 0.353 0.412 0.471 0.529 0.588 0.635 0.681 0.728 0.775 0.821 0.868 0.914 0.961"/><feFuncG type="table" tableValues="0.000 0.013 0.026 0.039 0.052 0.065 0.078 0.105 0.131 0.157 0.183 0.209 0.235 0.260 0.284 0.309 0.333 0.358 0.382 0.407 0.431"/><feFuncB type="table" tableValues="0.000 0.001 0.003 0.004 0.005 0.007 0.008 0.012 0.016 0.020 0.024 0.027 0.031 0.037 0.043 0.049 0.055 0.061 0.067 0.073 0.078"/><feFuncA type="linear" slope="0" intercept="1"/></feComponentTransfer></filter><filter id="fm1" filterUnits="userSpaceOnUse" x="192" y="631.6" width="123.5" height="118.19999999999993" color-interpolation-filters="sRGB"><feTurbulence type="fractalNoise" baseFrequency="0.06" numOctaves="2" seed="82" result="n0"/><feColorMatrix in="n0" type="matrix" values="1 0 0 0 0  1 0 0 0 0  1 0 0 0 0  0 0 0 0 1" result="g0"/><feComposite in="SourceGraphic" in2="g0" operator="arithmetic" k1="0" k2="1" k3="0.32" k4="-0.16" result="m0"/><feComponentTransfer in="m0"><feFuncR type="table" tableValues="0.000 0.039 0.078 0.118 0.157 0.196 0.235 0.294 0.353 0.412 0.471 0.529 0.588 0.635 0.681 0.728 0.775 0.821 0.868 0.914 0.961"/><feFuncG type="table" tableValues="0.000 0.013 0.026 0.039 0.052 0.065 0.078 0.105 0.131 0.157 0.183 0.209 0.235 0.260 0.284 0.309 0.333 0.358 0.382 0.407 0.431"/><feFuncB type="table" tableValues="0.000 0.001 0.003 0.004 0.005 0.007 0.008 0.012 0.016 0.020 0.024 0.027 0.031 0.037 0.043 0.049 0.055 0.061 0.067 0.073 0.078"/><feFuncA type="linear" slope="0" intercept="1"/></feComponentTransfer></filter><filter id="fm2" filterUnits="userSpaceOnUse" x="350.2" y="631.8" width="123.19999999999999" height="118.30000000000007" color-interpolation-filters="sRGB"><feTurbulence type="fractalNoise" baseFrequency="0.06 0.014" numOctaves="2" seed="83" result="n0"/><feColorMatrix in="n0" type="matrix" values="1 0 0 0 0  1 0 0 0 0  1 0 0 0 0  0 0 0 0 1" result="g0"/><feComposite in="SourceGraphic" in2="g0" operator="arithmetic" k1="0" k2="1" k3="1.2" k4="-0.6" result="m0"/><feTurbulence type="fractalNoise" baseFrequency="0.03 0.02" numOctaves="1" seed="90" result="n1"/><feColorMatrix in="n1" type="matrix" values="1 0 0 0 0  1 0 0 0 0  1 0 0 0 0  0 0 0 0 1" result="g1"/><feComposite in="m0" in2="g1" operator="arithmetic" k1="0" k2="1" k3="0.6" k4="-0.3" result="m1"/><feComponentTransfer in="m1"><feFuncR type="table" tableValues="0.000 0.039 0.078 0.118 0.157 0.196 0.235 0.294 0.353 0.412 0.471 0.529 0.588 0.635 0.681 0.728 0.775 0.821 0.868 0.914 0.961"/><feFuncG type="table" tableValues="0.000 0.013 0.026 0.039 0.052 0.065 0.078 0.105 0.131 0.157 0.183 0.209 0.235 0.260 0.284 0.309 0.333 0.358 0.382 0.407 0.431"/><feFuncB type="table" tableValues="0.000 0.001 0.003 0.004 0.005 0.007 0.008 0.012 0.016 0.020 0.024 0.027 0.031 0.037 0.043 0.049 0.055 0.061 0.067 0.073 0.078"/><feFuncA type="linear" slope="0" intercept="1"/></feComponentTransfer></filter><filter id="fm3" filterUnits="userSpaceOnUse" x="507.8" y="632" width="123.40000000000003" height="118.29999999999995" color-interpolation-filters="sRGB"><feTurbulence type="fractalNoise" baseFrequency="0.04 0.018" numOctaves="2" seed="84" result="n0"/><feColorMatrix in="n0" type="matrix" values="1 0 0 0 0  1 0 0 0 0  1 0 0 0 0  0 0 0 0 1" result="g0"/><feComposite in="SourceGraphic" in2="g0" operator="arithmetic" k1="0" k2="1" k3="1.15" k4="-0.575" result="m0"/><feTurbulence type="fractalNoise" baseFrequency="0.02 0.012" numOctaves="1" seed="91" result="n1"/><feColorMatrix in="n1" type="matrix" values="1 0 0 0 0  1 0 0 0 0  1 0 0 0 0  0 0 0 0 1" result="g1"/><feComposite in="m0" in2="g1" operator="arithmetic" k1="0" k2="1" k3="0.6" k4="-0.3" result="m1"/><feComponentTransfer in="m1"><feFuncR type="table" tableValues="0.000 0.039 0.078 0.118 0.157 0.196 0.235 0.294 0.353 0.412 0.471 0.529 0.588 0.635 0.681 0.728 0.775 0.821 0.868 0.914 0.961"/><feFuncG type="table" tableValues="0.000 0.013 0.026 0.039 0.052 0.065 0.078 0.105 0.131 0.157 0.183 0.209 0.235 0.260 0.284 0.309 0.333 0.358 0.382 0.407 0.431"/><feFuncB type="table" tableValues="0.000 0.001 0.003 0.004 0.005 0.007 0.008 0.012 0.016 0.020 0.024 0.027 0.031 0.037 0.043 0.049 0.055 0.061 0.067 0.073 0.078"/><feFuncA type="linear" slope="0" intercept="1"/></feComponentTransfer></filter><linearGradient id="gorng" x1="0" y1="0" x2="0" y2="1"><stop offset="0.000" stop-color="rgb(245, 110, 20)"/><stop offset="0.400" stop-color="rgb(150, 60, 8)"/><stop offset="0.700" stop-color="rgb(60, 20, 2)"/><stop offset="1.000" stop-color="rgb(0, 0, 0)"/></linearGradient></defs>
<rect width="685" height="776" fill="#fff"/>
<g id="panelA"><rect x="25" y="1" width="349.5" height="154" fill="#DEEAF6"/><line x1="145" y1="1" x2="145" y2="155" fill="none" stroke="#111" stroke-width="1.7" stroke-dasharray="4 2"/><line x1="146" y1="125.2" x2="374.5" y2="125.2" fill="none" stroke="#111" stroke-width="1.7" stroke-dasharray="4 2"/><g font-family="'Liberation Sans', sans-serif" fill="#222"><text x="30.5" y="19.2" font-size="10.2" fill="#222" text-anchor="start" >Initial state</text><text x="160.5" y="19.5" font-size="10.2" fill="#222" text-anchor="start" >Elongation state</text></g><circle cx="107" cy="28.5" r="24.3" fill="none" stroke="#111" stroke-width="1.3" stroke-dasharray="4 2"/><text x="128.2" y="12.8" font-family="'Liberation Serif', serif" font-size="11.5" fill="#222">I</text><polyline points="105.30,12.00 103.80,12.62 105.45,13.24 106.78,13.86 105.00,14.48 103.85,15.10 105.74,15.71 106.71,16.33 104.72,16.95 103.95,17.57 106.02,18.19 106.58,18.81 104.46,19.43 104.10,20.05 106.26,20.67 106.40,21.29 104.23,21.90 104.31,22.52 106.47,23.14 106.18,23.76 104.04,24.38 104.55,25.00" fill="none" stroke="#4a55d8" stroke-width="1.2"/><polyline points="105.30,31.00 103.80,31.62 105.45,32.24 106.78,32.86 105.00,33.48 103.85,34.10 105.74,34.71 106.71,35.33 104.72,35.95 103.95,36.57 106.02,37.19 106.58,37.81 104.46,38.43 104.10,39.05 106.26,39.67 106.40,40.29 104.23,40.90 104.31,41.52 106.47,42.14 106.18,42.76 104.04,43.38 104.55,44.00" fill="none" stroke="#4a55d8" stroke-width="1.2"/><polyline points="90.00,27.90 90.60,29.30 91.20,27.90 91.80,26.50 92.40,27.90 93.00,29.30 93.60,27.90 94.20,26.50 94.80,27.90 95.40,29.30 96.00,27.90 96.60,26.50 97.20,27.90 97.80,29.30 98.40,27.90 99.00,26.50 99.60,27.90 100.20,29.30 100.80,27.90 101.40,26.50 102.00,27.90" fill="none" stroke="#4a55d8" stroke-width="1.2"/><polyline points="108.50,27.90 109.12,29.30 109.75,27.72 110.38,26.53 111.00,28.26 111.62,29.23 112.25,27.36 112.88,26.64 113.50,28.60 114.12,29.06 114.75,27.05 115.38,26.85 116.00,28.89 116.62,28.82 117.25,26.79 117.88,27.12 118.50,29.11 119.12,28.52 119.75,26.61 120.38,27.45 121.00,29.25" fill="none" stroke="#4a55d8" stroke-width="1.2"/><circle cx="105.1" cy="9.9" r="2.3" fill="url(#gball)"/><circle cx="105.6" cy="45.5" r="2.3" fill="url(#gball)"/><circle cx="87.9" cy="27.8" r="2.3" fill="url(#gball)"/><circle cx="123.2" cy="27.8" r="2.3" fill="url(#gball)"/><circle cx="105.3" cy="27.8" r="3.3" fill="url(#gball)"/><g stroke="#5b6cf5" stroke-width="1.3" stroke-linejoin="round"><polygon points="36.9,50.4 46.9,40 77.2,40 77.2,69.2 67,79.1 36.9,79.1" fill="#b9c9e6"/></g><g fill="#5d6678"><polygon points="41,63 47,52 60,50 62,55 53,58 47,66"/><polygon points="51,46 62,44 63,50 52,52"/><polygon points="40,68 51,66 55,78 50,80 44,78"/><polygon points="56,60 65,58 70,62 69,70 60,71 57,66"/><polygon points="60,42 63,41 72,49 70,51"/><polygon points="67,64 75,58 76,61 70,67"/></g><g fill="none" stroke="#5b6cf5" stroke-width="1.3" stroke-linejoin="round"><polygon points="36.9,50.4 67,50.4 67,79.1 36.9,79.1"/><polyline points="36.9,50.4 46.9,40 77.2,40 67,50.4"/><polyline points="77.2,40 77.2,69.2 67,79.1"/></g><circle cx="72" cy="43" r="3" fill="none" stroke="#111" stroke-width="1.1" stroke-dasharray="2 1"/><circle cx="66" cy="67" r="3" fill="none" stroke="#111" stroke-width="1.1" stroke-dasharray="2 1"/><line x1="71" y1="40" x2="84" y2="19" fill="none" stroke="#111" stroke-width="1.3" stroke-dasharray="4 2"/><line x1="75" y1="46" x2="96" y2="50.5" fill="none" stroke="#111" stroke-width="1.3" stroke-dasharray="4 2"/><line x1="63" y1="70" x2="58.5" y2="104" fill="none" stroke="#111" stroke-width="1.3" stroke-dasharray="4 2"/><line x1="69" y1="69" x2="94" y2="80" fill="none" stroke="#111" stroke-width="1.3" stroke-dasharray="4 2"/><circle cx="94.6" cy="115.6" r="36.6" fill="none" stroke="#111" stroke-width="1.3" stroke-dasharray="4 2"/><text x="126.4" y="92.6" font-family="'Liberation Serif', serif" font-size="11.5" fill="#222">II</text><polygon points="81,88.5 83,85.8 109,85.8 107,88.5" fill="url(#ggns)"/><polygon points="81,142.5 83,139.8 109,139.8 107,142.5" fill="url(#ggns)"/><polyline points="94.30,89.00 93.50,89.48 94.31,89.95 95.10,90.43 94.29,90.91 93.50,91.38 94.32,91.86 95.10,92.33 94.27,92.81 93.50,93.29 94.34,93.76 95.10,94.24 94.26,94.72 93.50,95.19 94.35,95.67 95.10,96.15 94.24,96.62 93.50,97.10 94.37,97.58 95.10,98.05 94.23,98.53 93.50,99.00 94.38,99.48 95.10,99.96 94.21,100.43 93.51,100.91 94.40,101.39 95.09,101.86 94.20,102.34 93.51,102.82 94.41,103.29 95.09,103.77 94.18,104.25 93.51,104.72 94.43,105.20 95.09,105.67 94.17,106.15 93.51,106.63 94.44,107.10 95.09,107.58 94.15,108.06 93.51,108.53 94.46,109.01 95.08,109.49 94.14,109.96 93.52,110.44 94.47,110.92 95.08,111.39 94.12,111.87 93.52,112.34 94.49,112.82 95.08,113.30 94.11,113.77 93.52,114.25 94.50,114.73 95.07,115.20 94.09,115.68 93.53,116.16 94.51,116.63 95.07,117.11 94.08,117.58 93.53,118.06 94.53,118.54 95.07,119.01 94.06,119.49 93.54,119.97 94.54,120.44 95.06,120.92 94.05,121.40 93.54,121.87 94.56,122.35 95.06,122.83 94.04,123.30 93.55,123.78 94.57,124.25 95.05,124.73 94.02,125.21 93.55,125.68 94.59,126.16 95.05,126.64 94.01,127.11 93.56,127.59 94.60,128.07 95.04,128.54 93.99,129.02 93.56,129.50 94.61,129.97 95.03,130.45 93.98,130.92 93.57,131.40 94.63,131.88 95.03,132.35 93.97,132.83 93.57,133.31 94.64,133.78 95.02,134.26 93.95,134.74 93.58,135.21 94.65,135.69 95.02,136.17 93.94,136.64 93.59,137.12 94.67,137.59 95.01,138.07 93.93,138.55 93.59,139.02 94.68,139.50" fill="none" stroke="#4a55d8" stroke-width="1.1"/><polyline points="80.00,98.40 80.48,99.20 80.95,98.40 81.43,97.60 81.90,98.40 82.38,99.20 82.85,98.39 83.33,97.60 83.80,98.41 84.28,99.20 84.75,98.39 85.23,97.60 85.70,98.41 86.18,99.20 86.66,98.38 87.13,97.60 87.61,98.42 88.08,99.20 88.56,98.38 89.03,97.60 89.51,98.42 89.98,99.20 90.46,98.38 90.93,97.60 91.41,98.43 91.89,99.20 92.36,98.37 92.84,97.60 93.31,98.43 93.79,99.20 94.26,98.37 94.74,97.60 95.21,98.43 95.69,99.20 96.16,98.36 96.64,97.60 97.11,98.44 97.59,99.20 98.07,98.36 98.54,97.60 99.02,98.44 99.49,99.20 99.97,98.35 100.44,97.60 100.92,98.45 101.39,99.20 101.87,98.35 102.34,97.60 102.82,98.45 103.30,99.20 103.77,98.35 104.25,97.60 104.72,98.46 105.20,99.20 105.67,98.34 106.15,97.60 106.62,98.46 107.10,99.20 107.57,98.34 108.05,97.60 108.52,98.46 109.00,99.20" fill="none" stroke="#4a55d8" stroke-width="1.1"/><polyline points="80.00,130.50 80.48,131.30 80.95,130.50 81.43,129.70 81.90,130.50 82.38,131.30 82.85,130.49 83.33,129.70 83.80,130.51 84.28,131.30 84.75,130.49 85.23,129.70 85.70,130.51 86.18,131.30 86.66,130.48 87.13,129.70 87.61,130.52 88.08,131.30 88.56,130.48 89.03,129.70 89.51,130.52 89.98,131.30 90.46,130.48 90.93,129.70 91.41,130.53 91.89,131.30 92.36,130.47 92.84,129.70 93.31,130.53 93.79,131.30 94.26,130.47 94.74,129.70 95.21,130.53 95.69,131.30 96.16,130.46 96.64,129.70 97.11,130.54 97.59,131.30 98.07,130.46 98.54,129.70 99.02,130.54 99.49,131.30 99.97,130.45 100.44,129.70 100.92,130.55 101.39,131.30 101.87,130.45 102.34,129.70 102.82,130.55 103.30,131.30 103.77,130.45 104.25,129.70 104.72,130.56 105.20,131.30 105.67,130.44 106.15,129.70 106.62,130.56 107.10,131.30 107.57,130.44 108.05,129.70 108.52,130.56 109.00,131.30" fill="none" stroke="#4a55d8" stroke-width="1.1"/><circle cx="94.3" cy="98.4" r="2.4" fill="url(#gball)"/><circle cx="94.3" cy="130.5" r="2.4" fill="url(#gball)"/><circle cx="84" cy="98.4" r="1.4" fill="url(#gball)"/><circle cx="105" cy="98.4" r="1.4" fill="url(#gball)"/><circle cx="84" cy="130.5" r="1.4" fill="url(#gball)"/><circle cx="105" cy="130.5" r="1.4" fill="url(#gball)"/><circle cx="94.3" cy="109" r="1.4" fill="url(#gball)"/><circle cx="94.3" cy="120" r="1.4" fill="url(#gball)"/><path d="M79.1,94.5 Q76.9,98.5 79.1,102.5" fill="none" stroke="#f01010" stroke-width="1.6" stroke-dasharray="4 1.3" stroke-linecap="round"/><path d="M109.9,94.5 Q112.1,98.5 109.9,102.5" fill="none" stroke="#f01010" stroke-width="1.6" stroke-dasharray="4 1.3" stroke-linecap="round"/><path d="M79.1,126.5 Q76.9,130.5 79.1,134.5" fill="none" stroke="#f01010" stroke-width="1.6" stroke-dasharray="4 1.3" stroke-linecap="round"/><path d="M109.9,126.5 Q112.1,130.5 109.9,134.5" fill="none" stroke="#f01010" stroke-width="1.6" stroke-dasharray="4 1.3" stroke-linecap="round"/><path d="M88,115 q3,-3 6,0 q3,3 6,0 M90,112 q4,2 8,6 M90,118 q4,-2 8,-6" fill="none" stroke="#e8151b" stroke-width="1.1"/><defs><linearGradient id="garrow" x1="0" y1="0" x2="0" y2="1"><stop offset="0" stop-color="#f9c0bb"/><stop offset="0.5" stop-color="#f27e78"/><stop offset="1" stop-color="#f9c0bb"/></linearGradient></defs><polygon points="160.7,38.9 169,29.8 169,34.2 224,34.2 224,29.8 232.3,38.9 224,48 224,43.6 169,43.6 169,48" fill="url(#garrow)"/><text x="149" y="42.8" font-family="'Liberation Sans', sans-serif" font-size="10.3" fill="#222">Stretching direction</text><polygon points="154.9,55.2 159.4,51.2 233.7,51.2 233.7,63 229.3,66.9 154.9,66.9" fill="#aec3e6"/><g stroke="#5d6674" stroke-width="1.4" stroke-linecap="round"><line x1="168" y1="53.5" x2="186" y2="53.5"/><line x1="158" y1="59.3" x2="175" y2="59.3"/><line x1="185" y1="57.5" x2="197" y2="57.5"/><line x1="180" y1="63.5" x2="195" y2="63.5"/><line x1="205" y1="62.5" x2="218" y2="62"/><line x1="200" y1="54" x2="214" y2="53.8"/></g><g fill="none" stroke="#5b6cf5" stroke-width="1.2" stroke-linejoin="round"><rect x="154.9" y="55.2" width="74.4" height="11.7"/><polyline points="154.9,55.2 159.4,51.2 233.7,51.2 229.3,55.2"/><polyline points="233.7,51.2 233.7,63 229.3,66.9"/></g><circle cx="226" cy="53.5" r="2.8" fill="none" stroke="#111" stroke-width="1.1" stroke-dasharray="2 1"/><circle cx="200" cy="57" r="2.6" fill="none" stroke="#111" stroke-width="1.1" stroke-dasharray="2 1"/><ellipse cx="306.3" cy="28.6" rx="47" ry="24.2" fill="none" stroke="#111" stroke-width="1.3" stroke-dasharray="4 2"/><text x="353.6" y="20.8" font-family="'Liberation Serif', serif" font-size="11.5" fill="#222">I</text><line x1="266" y1="28" x2="346" y2="28" stroke="#4a55d8" stroke-width="1.2"/><polyline points="305.10,13.00 304.60,13.30 305.10,13.60 305.60,13.90 305.10,14.20 304.60,14.50 305.10,14.80 305.60,15.10 305.10,15.40 304.60,15.70 305.10,16.00 305.60,16.30 305.10,16.60 304.60,16.90 305.10,17.20 305.60,17.50 305.10,17.80 304.60,18.10 305.10,18.40 305.60,18.70 305.10,19.00 304.60,19.30 305.10,19.60 305.60,19.90 305.10,20.20 304.60,20.50 305.10,20.80 305.60,21.10 305.10,21.40 304.60,21.70 305.10,22.00 305.60,22.30 305.10,22.60 304.60,22.90 305.10,23.20 305.60,23.50 305.10,23.80 304.60,24.10 305.10,24.40 305.60,24.70 305.10,25.00 304.60,25.30 305.10,25.60 305.60,25.90 305.10,26.20 304.60,26.50 305.10,26.80 305.60,27.10 305.10,27.40 304.60,27.70 305.10,28.00 305.60,28.30 305.10,28.60 304.60,28.90 305.10,29.20 305.60,29.50 305.10,29.80 304.60,30.10 305.10,30.40 305.60,30.70 305.10,31.00 304.60,31.30 305.10,31.60 305.60,31.90 305.10,32.20 304.60,32.50 305.10,32.80 305.60,33.10 305.10,33.40 304.60,33.70 305.10,34.00 305.60,34.30 305.10,34.60 304.60,34.90 305.10,35.20 305.60,35.50 305.10,35.80 304.60,36.10 305.10,36.40 305.60,36.70 305.10,37.00 304.60,37.30 305.10,37.60 305.60,37.90 305.10,38.20 304.60,38.50 305.10,38.80 305.60,39.10 305.10,39.40 304.60,39.70 305.10,40.00 305.60,40.30 305.10,40.60 304.60,40.90 305.10,41.20 305.60,41.50 305.10,41.80 304.60,42.10 305.10,42.40 305.60,42.70 305.10,43.00" fill="none" stroke="#4a55d8" stroke-width="1.4"/><circle cx="265.6" cy="28" r="2" fill="url(#gball)"/><circle cx="346" cy="28" r="2" fill="url(#gball)"/><circle cx="305.1" cy="12" r="2" fill="url(#gball)"/><circle cx="305.1" cy="44" r="2" fill="url(#gball)"/><circle cx="305.1" cy="28" r="3" fill="url(#gball)"/><line x1="229" y1="51" x2="259" y2="30" fill="none" stroke="#111" stroke-width="1.3" stroke-dasharray="4 2"/><line x1="230" y1="55.5" x2="298" y2="52" fill="none" stroke="#111" stroke-width="1.3" stroke-dasharray="4 2"/><ellipse cx="264.5" cy="94.9" rx="107" ry="28.4" fill="none" stroke="#111" stroke-width="1.3" stroke-dasharray="4 2"/><text x="350.8" y="72.3" font-family="'Liberation Serif', serif" font-size="11.5" fill="#222">II</text><line x1="201" y1="58" x2="159" y2="92" fill="none" stroke="#111" stroke-width="1.3" stroke-dasharray="4 2"/><path d="M205,58 Q240,62 262,66.5" fill="none" stroke="#111" stroke-width="1.3" stroke-dasharray="4 2"/><line x1="214" y1="59.5" x2="250" y2="66" fill="none" stroke="#111" stroke-width="1.3" stroke-dasharray="4 2"/><polygon points="181.6,108.6 183.5,102.8 214.4,102.8 212.5,108.6" fill="url(#ggns2)"/><polygon points="314.3,83.1 316,78.4 347.1,78.4 345.4,83.1" fill="url(#ggns2)"/><g fill="none" stroke="#4a55d8" stroke-width="1"><polyline points="186.8,98.9 226.2,98.9 264.3,93.1"/><polyline points="192,103.2 226.2,99.8 264.3,99.4"/><polyline points="263,87.1 302.4,87.1 330,83"/><polyline points="265,94.2 302.4,87.6 341.8,87.1"/></g><circle cx="196" cy="99" r="1.5" fill="url(#gball)"/><circle cx="226.2" cy="99.2" r="2.6" fill="url(#gball)"/><circle cx="253" cy="94.5" r="1.5" fill="url(#gball)"/><circle cx="255.7" cy="99.4" r="1.5" fill="url(#gball)"/><circle cx="272.5" cy="87.1" r="1.5" fill="url(#gball)"/><circle cx="275.5" cy="92" r="1.5" fill="url(#gball)"/><circle cx="302.4" cy="87.2" r="2.6" fill="url(#gball)"/><circle cx="332" cy="87.2" r="1.5" fill="url(#gball)"/><path d="M186.6,97 Q184.4,100 186.6,103" fill="none" stroke="#f01010" stroke-width="1.6" stroke-dasharray="4 1.3" stroke-linecap="round"/><path d="M263.9,93 Q266.1,96 263.9,99" fill="none" stroke="#f01010" stroke-width="1.6" stroke-dasharray="4 1.3" stroke-linecap="round"/><path d="M262.6,84.5 Q260.4,87.5 262.6,90.5" fill="none" stroke="#f01010" stroke-width="1.6" stroke-dasharray="4 1.3" stroke-linecap="round"/><path d="M340.9,85 Q343.1,88 340.9,91" fill="none" stroke="#f01010" stroke-width="1.6" stroke-dasharray="4 1.3" stroke-linecap="round"/><path d="M265.4,96.5 Q267.6,99.5 265.4,102.5" fill="none" stroke="#f01010" stroke-width="1.6" stroke-dasharray="4 1.3" stroke-linecap="round"/><g font-family="'Liberation Sans', sans-serif" fill="#222"><text x="169" y="139.6" font-size="10.4" fill="#222" text-anchor="start" >GNS</text><text x="212" y="139.6" font-size="10.4" fill="#222" text-anchor="start" >PS</text><text x="236.2" y="139.6" font-size="10.4" fill="#222" text-anchor="start" >Curled PEB</text><text x="300" y="139.6" font-size="10.4" fill="#222" text-anchor="start" >Straight PEB</text></g><polygon points="162.5,148.5 165,141.8 194.7,141.8 192.2,148.5" fill="url(#ggns2)"/><circle cx="217.2" cy="145.6" r="4" fill="url(#gball)"/><polyline points="237.00,145.30 237.86,146.80 238.72,145.25 239.58,143.80 240.44,145.41 241.30,146.79 242.16,145.14 243.02,143.81 243.88,145.51 244.74,146.78 245.60,145.03 246.46,143.83 247.32,145.62 248.18,146.76 249.04,144.93 249.89,143.85 250.75,145.72 251.61,146.73 252.47,144.83 253.33,143.89 254.19,145.82 255.05,146.70 255.91,144.73 256.77,143.92 257.63,145.92 258.49,146.65 259.35,144.63 260.21,143.97 261.07,146.02 261.93,146.60 262.79,144.54 263.65,144.02 264.51,146.11 265.37,146.55 266.23,144.45 267.09,144.08 267.95,146.20 268.81,146.49 269.67,144.36 270.53,144.15 271.39,146.28 272.25,146.42 273.11,144.28 273.96,144.22 274.82,146.36 275.68,146.34 276.54,144.20 277.40,144.30 278.26,146.43 279.12,146.26 279.98,144.13 280.84,144.38 281.70,146.50 282.56,146.18 283.42,144.07 284.28,144.47 285.14,146.56 286.00,146.09" fill="none" stroke="#4a55d8" stroke-width="2.6"/><polyline points="237.00,145.30 237.86,146.80 238.72,145.25 239.58,143.80 240.44,145.41 241.30,146.79 242.16,145.14 243.02,143.81 243.88,145.51 244.74,146.78 245.60,145.03 246.46,143.83 247.32,145.62 248.18,146.76 249.04,144.93 249.89,143.85 250.75,145.72 251.61,146.73 252.47,144.83 253.33,143.89 254.19,145.82 255.05,146.70 255.91,144.73 256.77,143.92 257.63,145.92 258.49,146.65 259.35,144.63 260.21,143.97 261.07,146.02 261.93,146.60 262.79,144.54 263.65,144.02 264.51,146.11 265.37,146.55 266.23,144.45 267.09,144.08 267.95,146.20 268.81,146.49 269.67,144.36 270.53,144.15 271.39,146.28 272.25,146.42 273.11,144.28 273.96,144.22 274.82,146.36 275.68,146.34 276.54,144.20 277.40,144.30 278.26,146.43 279.12,146.26 279.98,144.13 280.84,144.38 281.70,146.50 282.56,146.18 283.42,144.07 284.28,144.47 285.14,146.56 286.00,146.09" fill="none" stroke="#8890f0" stroke-width="0.8"/><line x1="301" y1="145.3" x2="356" y2="145.3" stroke="#4a55d8" stroke-width="2.6" stroke-linecap="round"/></g><g id="panelBC"><g filter="url(#fb)"><rect x="378" y="1" width="171.5" height="151.5" fill="url(#gbbase)"/></g><rect x="452.5" y="36.5" width="45.5" height="34" fill="none" stroke="#fff" stroke-width="1.6" stroke-dasharray="4.5 2.5"/><g font-family="'Liberation Sans', sans-serif" fill="#fff"><text x="385" y="23" font-size="20" fill="#fff" text-anchor="start" >b</text><text x="511.5" y="29.5" font-size="9.9" fill="#fff" text-anchor="start" >Matrix</text><text x="511" y="72.5" font-size="9.9" fill="#fff" text-anchor="start" >GNS</text><text x="392" y="139.5" font-size="10.3" fill="#fff" text-anchor="start" >5 nm</text></g><rect x="386.8" y="147" width="37.6" height="3.2" fill="#fff"/><g filter="url(#fc)"><rect x="556" y="1" width="122" height="151.5" fill="#747474"/></g><line x1="556" y1="65.6" x2="678" y2="48" stroke="#000" stroke-width="1.8" stroke-dasharray="5 2.5"/><line x1="556" y1="91" x2="678" y2="73" stroke="#000" stroke-width="1.8" stroke-dasharray="5 2.5"/><g font-family="'Liberation Sans', sans-serif" fill="#fff"><text x="564.5" y="22.3" font-size="20" fill="#fff" text-anchor="start" >c</text><text x="631.4" y="28.3" font-size="9.9" fill="#fff" text-anchor="start" >Matrix</text><text x="634" y="110.6" font-size="9.9" fill="#fff" text-anchor="start" >GNS</text><text x="631.6" y="140" font-size="10.1" fill="#fff" text-anchor="start" >5 nm</text></g><rect x="615.4" y="146.6" width="59.6" height="3.1" fill="#fff"/></g><g id="panelDG"><g clip-path="url(#cpd)"><g transform="translate(85.6,217.4) rotate(66)"><rect x="-90" y="-90" width="180" height="180" fill="rgb(128,128,128)" filter="url(#fd2)"/></g><g filter="url(#bl1)" stroke-linecap="round" fill="none"><polyline points="42,157 45,172 50,192" stroke="#ecc878" stroke-width="3.2" opacity="0.9"/><polyline points="58,157 60,170 62,178" stroke="#e0b868" stroke-width="2.0" opacity="0.8"/><polyline points="55,157 59,175 64,192 67,204" stroke="#2a0800" stroke-width="2.4" opacity="0.9"/><polyline points="67,199 70,207" stroke="#e8c070" stroke-width="2.0" opacity="0.8"/><polyline points="100.5,207 103,218 105,230" stroke="#3a1000" stroke-width="1.8" opacity="0.85"/><polyline points="105,210 107,224" stroke="#d8a850" stroke-width="1.5" opacity="0.7"/><polyline points="113.7,242 116,250 118,260" stroke="#3a1000" stroke-width="1.8" opacity="0.85"/><polyline points="119,246 121,256" stroke="#d8a850" stroke-width="1.5" opacity="0.7"/><polyline points="40,200 50,214 62,232 72,250 83,266" stroke="#d8a850" stroke-width="4.5" opacity="0.55"/><polyline points="62,198 70,206 78,214" stroke="#e0b060" stroke-width="3.5" opacity="0.6"/><polyline points="28,175 34,200 40,220" stroke="#c89038" stroke-width="3.0" opacity="0.5"/></g></g><g clip-path="url(#cpe)"><rect x="192" y="158" width="118.8" height="119" fill="rgb(196,196,196)" filter="url(#fe)"/><g filter="url(#bl2)" fill="none" stroke-linecap="round" opacity="0.8"><path d="M196,160 L203,195" stroke="#a05a10" stroke-width="10"/><path d="M192,252 L205,277" stroke="#b07020" stroke-width="10"/></g><g filter="url(#bl1)" fill="none" stroke-linecap="round"><path d="M218,154 C221,185 224,200 228,211 C233,223 238,233 243,241 C248,250 253,258 257,264 L265,280" stroke="#7e2c02" stroke-width="16"/><path d="M220,154 C223,185 226,200 230,211 C235,223 240,233 245,241 C250,250 254,257 258,263" stroke="#4a0c00" stroke-width="7"/><path d="M236,222 C244,236 252,250 262,266" stroke="#4a0c00" stroke-width="4"/><path d="M257,202 C262,215 268,228 274,240 C280,252 286,262 290,270" stroke="#7a2a00" stroke-width="6.5"/><path d="M224,160 C228,175 232,190 236,200" stroke="#8a3a05" stroke-width="4"/></g></g><g clip-path="url(#cpf)"><g filter="url(#fnf)"><rect x="355" y="158" width="119.6" height="119" fill="#8a4c10"/><g filter="url(#bl05)"><use href="#pf" x="0.9" y="0.3" fill="#5e2e04"/><use href="#pf" x="-0.7" y="-0.2" fill="#d09844"/><use href="#pf" x="0" y="0" fill="#a6641a"/></g></g></g><g clip-path="url(#cpg)"><g filter="url(#fng)"><rect x="528" y="158" width="119.2" height="119" fill="#5c1600"/><path d="M528.8,159.3 528.2,159.5 528.2,158.1 536.2,158.2 533.2,159.1 528.8,159.3ZM531.8,167.4 530.2,167.6 528.2,167.3 528.2,164.4 531.8,162.5 535.7,162.2 545.2,160.0 546.8,160.1 548.8,160.9 550.2,160.9 552.1,159.8 552.5,159.2 552.6,158.2 555.6,158.2 554.9,162.8 553.8,164.2 552.2,164.9 550.2,165.0 546.2,164.3 543.2,164.6 539.8,165.5 534.8,166.1 531.8,167.4ZM561.2,177.3 560.2,177.4 558.2,176.9 554.8,174.2 552.0,172.8 546.8,172.2 544.2,172.2 541.2,172.6 536.2,173.9 531.8,174.6 528.2,176.2 528.2,171.8 528.2,171.3 529.2,171.0 534.2,170.4 538.8,169.0 545.2,168.1 548.8,168.0 552.2,168.9 554.2,168.8 555.2,168.1 556.6,165.2 558.9,162.2 559.3,160.2 559.3,158.2 562.8,158.2 563.3,158.2 563.3,159.8 561.4,166.8 560.2,168.0 557.4,169.8 557.0,170.8 557.1,171.8 557.8,172.8 559.2,173.2 560.8,172.9 562.4,171.8 563.7,168.2 565.8,165.1 566.4,162.8 566.9,158.2 570.6,158.2 570.5,162.8 570.0,164.8 568.9,167.2 564.5,175.2 563.2,176.5 561.2,177.3ZM528.2,186.3 528.2,181.2 529.2,180.1 530.8,179.2 533.2,178.1 542.8,176.0 546.8,175.8 549.8,176.0 553.2,177.5 556.8,179.9 559.2,180.8 562.2,180.9 564.2,180.2 566.2,178.8 567.8,176.8 572.9,167.2 573.9,164.2 574.3,161.2 574.2,158.2 578.1,158.2 578.0,164.2 576.5,168.8 570.9,179.2 569.0,181.8 566.8,183.4 563.8,184.5 561.8,185.0 559.8,185.0 556.2,183.9 549.2,180.2 545.8,179.8 540.2,180.6 534.2,182.1 530.3,184.2 528.2,186.3ZM640.2,277.8 636.4,277.8 636.5,275.2 637.3,272.8 637.3,271.2 636.4,269.8 634.2,267.7 628.2,263.1 621.8,259.1 620.8,258.6 617.2,258.0 616.2,257.5 615.1,256.2 614.5,254.2 615.3,251.2 615.3,249.8 614.3,245.8 612.0,240.8 611.1,237.8 610.5,234.8 610.4,230.2 609.9,228.8 608.2,226.7 604.8,223.7 601.8,221.9 599.6,220.2 598.2,219.9 596.8,220.1 595.8,220.9 595.1,222.2 594.7,224.8 592.6,227.8 591.6,231.2 589.2,233.9 585.8,236.2 581.8,239.4 572.2,244.7 569.2,246.7 564.8,250.1 561.5,253.8 559.8,255.0 558.2,255.5 557.2,255.5 554.2,253.9 549.2,254.0 544.8,253.3 541.2,253.7 535.8,255.5 528.2,256.6 528.2,252.6 530.8,252.4 535.8,251.4 540.8,249.6 543.2,249.0 544.8,248.9 546.8,249.9 548.2,250.3 550.2,249.9 551.8,249.2 552.5,248.8 552.6,248.2 552.6,245.8 553.8,244.1 557.2,241.8 561.8,238.0 565.2,235.5 568.2,233.7 574.8,230.3 577.8,228.4 580.3,226.2 581.8,224.2 583.8,220.8 584.8,218.7 585.6,215.8 586.5,214.2 588.0,212.8 588.4,211.2 588.3,210.2 587.9,209.2 584.8,204.6 582.7,202.2 579.2,199.2 577.2,196.8 576.2,196.1 574.8,195.7 573.8,195.6 572.8,196.0 572.1,196.8 571.8,198.8 572.5,199.2 575.2,200.2 576.8,201.1 582.8,207.8 583.9,209.8 584.0,212.2 581.7,216.2 580.4,219.8 578.5,222.8 575.8,225.5 572.8,227.4 565.2,231.2 562.2,233.2 556.2,237.9 552.0,240.8 551.1,241.8 550.1,244.8 548.8,246.1 546.8,247.1 545.2,247.0 544.4,245.8 544.4,244.2 545.0,243.2 547.8,240.7 550.2,237.2 555.2,233.8 561.8,228.7 565.2,226.6 571.2,223.8 574.8,221.1 575.9,219.8 577.7,215.8 579.4,213.2 579.6,211.8 579.4,210.2 578.8,209.1 575.8,205.7 571.4,202.8 570.8,199.8 569.2,199.1 566.2,199.1 563.2,200.0 561.2,200.2 557.2,200.0 555.2,199.5 549.2,196.7 545.8,195.7 543.2,195.4 541.8,195.7 537.8,197.9 533.2,198.2 530.8,199.7 528.2,202.2 528.2,196.6 529.4,194.2 529.6,190.8 531.1,188.2 533.2,186.6 535.8,185.5 539.2,184.5 544.8,183.5 546.8,183.5 548.8,184.0 555.3,187.2 559.2,188.4 561.8,188.5 563.8,188.3 569.8,185.8 571.8,184.2 573.3,182.2 577.2,175.2 580.4,168.8 581.4,165.8 581.8,162.9 581.5,158.2 582.2,158.1 585.6,158.2 585.6,164.8 585.0,167.8 581.4,175.8 576.4,184.8 575.4,186.2 573.2,188.4 566.8,191.5 563.2,192.4 560.2,192.6 558.8,192.5 555.2,191.5 548.2,188.2 545.8,187.6 543.2,187.7 537.8,189.1 535.2,190.1 533.7,191.2 532.6,192.8 532.4,193.8 532.8,194.7 533.6,195.2 534.2,195.3 539.8,192.1 542.2,191.6 545.2,191.4 548.2,192.1 556.8,195.8 561.2,196.1 564.2,195.8 570.1,194.2 571.3,193.8 573.8,191.4 574.8,191.0 576.2,191.1 577.5,191.8 579.3,194.2 583.2,197.3 589.6,204.2 590.4,205.2 591.2,208.1 592.0,209.2 593.8,210.4 595.7,210.2 596.3,209.2 596.3,207.8 595.8,206.8 593.1,203.8 591.2,200.4 587.8,196.7 584.8,194.2 582.2,191.6 578.9,189.8 578.5,189.2 578.2,187.8 578.6,186.2 581.4,184.2 581.7,183.8 582.5,180.2 584.9,177.2 586.1,173.8 588.8,168.0 589.3,165.2 589.3,161.8 588.9,158.2 589.2,158.2 592.7,158.2 593.4,163.2 593.3,166.8 593.8,169.0 594.2,169.3 596.8,169.4 597.8,169.9 600.3,173.2 603.8,175.7 610.5,181.8 616.2,189.8 618.3,192.2 623.2,196.3 627.2,198.5 629.8,200.9 631.2,201.1 632.6,200.8 635.2,197.9 639.3,195.2 641.8,191.7 644.0,185.8 645.0,184.2 647.8,181.4 647.8,187.1 646.7,189.2 645.4,193.8 644.5,195.2 638.2,201.1 634.9,203.2 632.8,205.9 631.8,206.4 630.8,206.6 629.8,206.1 628.2,203.8 627.6,203.2 623.8,201.5 621.8,199.6 618.2,197.4 616.2,195.6 613.0,192.2 609.8,187.2 605.9,182.8 601.8,179.4 599.2,176.7 595.8,174.7 595.0,173.8 593.8,170.8 593.2,170.2 591.8,170.7 590.7,171.8 590.3,173.8 591.0,175.8 591.8,176.3 593.2,176.6 594.8,177.4 597.2,180.3 600.2,182.4 604.6,186.8 606.5,188.8 611.2,195.8 613.1,197.8 619.0,202.2 622.2,204.1 624.8,206.8 626.2,207.4 628.2,207.6 629.2,208.2 629.6,209.8 629.3,211.8 628.2,212.6 626.8,213.0 625.2,212.5 623.8,210.1 622.8,209.1 620.2,208.0 616.2,204.7 612.8,202.5 609.4,199.8 607.6,197.8 604.4,192.8 601.8,189.4 595.8,183.6 592.7,181.8 590.2,178.2 589.2,177.9 587.8,178.2 587.1,178.8 586.7,179.8 587.1,181.8 587.8,182.6 591.2,184.2 593.8,187.1 596.2,188.9 598.1,190.8 601.4,194.8 604.2,199.2 606.8,202.4 608.3,203.8 617.8,210.1 620.8,212.9 623.8,214.5 625.7,217.8 626.3,218.2 627.4,218.2 628.8,217.3 630.4,214.2 632.8,211.6 634.8,208.1 637.4,206.2 642.8,201.8 647.8,197.2 647.8,202.6 639.8,209.2 638.2,210.8 635.2,214.3 633.0,218.2 629.6,221.2 629.0,222.2 628.7,224.2 628.9,230.8 629.2,232.2 630.2,233.8 632.0,235.2 635.2,236.6 637.8,238.1 644.8,243.3 647.8,244.6 647.8,248.8 646.2,248.5 644.2,247.6 635.2,241.2 632.8,239.7 628.8,237.9 627.3,236.8 626.1,235.2 625.5,233.8 624.7,226.2 624.9,221.8 624.2,220.3 621.8,219.0 618.6,215.8 613.2,211.7 603.8,205.3 602.0,203.2 599.4,198.8 596.3,194.8 592.0,190.2 588.8,188.1 586.8,185.1 585.8,184.6 584.2,184.5 583.2,184.9 582.9,185.8 583.1,187.2 583.9,188.8 587.8,191.1 589.8,193.4 593.4,196.8 595.8,200.2 597.5,202.2 599.8,206.7 600.6,207.8 605.2,210.5 613.2,216.0 620.4,222.2 621.4,224.8 621.4,229.2 622.6,236.2 623.1,237.8 624.2,239.1 625.8,240.3 629.8,242.0 632.2,243.5 643.8,251.4 645.8,252.2 647.8,252.5 647.8,256.6 645.2,256.5 643.8,255.9 628.2,245.6 622.2,243.0 620.5,241.2 619.5,239.2 618.0,233.8 617.4,226.2 616.8,224.8 615.8,223.2 608.2,217.1 603.8,214.5 600.7,212.2 599.2,211.7 598.2,211.6 597.4,211.8 596.7,212.2 595.9,214.2 596.4,214.8 603.2,218.0 610.8,223.6 612.9,225.8 614.0,228.2 614.6,235.2 615.2,237.8 617.8,244.1 618.8,245.5 620.2,246.4 623.8,247.1 627.8,249.9 631.8,252.0 642.9,259.8 645.2,260.4 647.8,260.2 647.8,264.0 644.8,264.6 642.8,264.5 640.8,263.4 638.2,261.1 628.8,254.6 624.2,252.6 620.7,249.8 619.8,249.5 618.8,249.7 617.7,250.8 617.6,251.8 618.2,252.8 619.8,254.4 621.8,255.3 623.2,255.5 625.2,256.5 632.8,261.6 638.2,265.6 639.4,266.8 641.7,270.2 641.0,271.8 640.9,275.8 640.2,277.8ZM632.2,196.4 630.8,196.6 629.2,196.3 626.2,193.6 622.8,191.5 618.5,186.8 614.8,181.3 612.6,178.8 608.7,175.2 604.2,171.9 601.8,169.1 598.2,167.0 597.2,165.2 596.7,163.2 596.4,158.2 600.5,158.2 600.6,162.2 601.8,164.5 609.1,170.8 612.2,173.1 615.7,176.2 617.5,178.2 619.7,181.8 623.2,186.4 626.8,189.4 628.6,191.2 629.8,191.9 632.2,191.8 633.2,191.1 635.8,186.2 637.3,181.8 642.2,176.5 646.2,172.6 647.8,171.5 647.8,176.6 641.7,182.8 639.8,186.3 639.0,189.2 638.0,191.2 635.2,193.8 633.4,195.8 632.2,196.4ZM630.2,187.8 628.8,187.5 628.2,187.1 626.5,183.8 623.4,181.2 621.2,177.0 616.9,172.2 605.5,163.2 604.1,160.8 603.8,158.2 607.6,158.2 608.8,160.7 610.2,162.4 614.8,165.5 617.9,168.2 621.4,170.8 623.8,174.5 626.5,177.8 628.2,181.5 628.8,181.8 631.2,182.5 632.5,183.8 633.0,185.2 632.8,186.2 631.8,187.4 630.2,187.8ZM624.8,168.3 623.2,168.1 622.2,167.5 619.8,164.7 612.8,159.9 611.4,158.2 616.8,158.2 619.8,159.4 621.7,162.2 622.4,162.8 624.2,163.0 625.2,162.9 626.0,162.2 627.1,159.2 627.9,158.2 632.4,158.2 631.5,161.2 630.9,162.2 629.8,163.4 627.5,164.8 625.8,167.8 624.8,168.3ZM624.2,158.3 622.8,158.5 621.4,158.2 624.2,158.3ZM629.8,174.9 628.2,174.5 626.7,173.2 626.1,171.8 626.3,169.8 627.2,169.0 629.8,168.4 630.8,167.7 634.8,162.6 635.9,160.2 636.3,158.2 640.1,158.2 639.5,162.2 638.8,163.8 635.2,168.6 632.8,170.1 631.8,171.1 630.5,174.2 630.2,174.7 629.8,174.9ZM634.2,180.5 632.8,180.6 631.6,179.8 631.0,178.8 630.5,177.2 630.8,175.4 633.8,174.9 635.0,174.2 637.1,170.8 639.8,168.9 640.9,167.8 643.4,161.8 643.3,158.2 647.8,158.1 647.8,159.7 646.0,161.2 645.5,162.2 646.2,163.8 646.8,164.2 647.8,164.5 647.8,167.2 646.8,167.5 645.5,168.2 640.2,174.0 637.2,176.1 635.4,179.8 634.2,180.5ZM530.8,248.8 528.2,248.9 528.2,244.8 530.8,244.8 533.2,244.3 535.2,243.8 537.2,242.8 538.8,241.0 540.5,237.2 544.2,232.6 548.8,229.0 552.9,226.2 559.8,220.4 565.1,218.8 569.7,215.8 570.8,214.7 571.0,213.2 570.8,211.9 569.2,209.4 567.1,207.8 565.1,206.8 563.2,206.6 559.8,208.5 557.2,208.5 553.2,206.1 550.8,205.5 546.2,203.6 542.2,203.7 538.8,204.7 536.2,205.7 533.8,207.2 528.2,211.9 528.2,206.9 531.2,204.1 534.2,202.1 535.8,201.5 539.2,200.8 542.8,199.5 544.2,199.3 546.8,199.6 553.2,202.1 556.8,203.9 561.2,203.9 564.2,202.9 565.8,202.8 567.8,203.0 569.3,203.8 570.1,204.8 571.1,207.2 574.2,209.0 575.0,209.8 575.5,210.8 575.4,213.2 572.1,218.8 570.8,220.1 569.2,221.0 560.2,225.1 555.2,229.4 548.9,233.8 543.8,239.3 542.8,240.8 541.8,244.2 540.2,245.9 538.2,246.9 530.8,248.8ZM530.8,241.3 528.2,240.9 528.2,236.8 529.2,237.3 530.8,237.3 532.6,236.2 533.8,234.8 536.6,229.8 537.8,228.3 542.8,223.7 547.2,222.2 547.9,221.2 548.0,219.8 547.8,219.2 547.2,218.8 545.2,218.6 543.2,219.2 541.8,220.2 537.9,223.2 533.2,227.8 532.6,228.8 532.0,231.2 531.2,232.5 529.2,233.4 528.2,233.4 528.2,228.3 530.3,226.2 532.0,223.2 538.8,217.5 540.8,216.0 542.8,215.0 545.2,214.6 546.8,214.9 547.8,215.5 549.2,217.3 550.8,217.9 553.8,217.9 554.2,217.6 554.5,216.8 554.3,215.2 553.2,214.1 549.2,213.1 545.8,211.2 542.8,211.2 540.2,212.2 537.2,214.1 531.5,218.8 528.2,222.6 528.2,216.6 532.2,213.0 534.8,211.0 538.8,208.5 540.8,207.6 543.2,207.1 546.8,207.6 552.2,209.6 554.2,210.5 557.2,212.8 558.8,213.2 560.1,212.8 561.8,211.2 562.8,210.6 565.2,210.4 565.8,210.5 566.6,211.2 567.0,212.2 566.9,213.2 566.5,214.2 565.8,215.0 564.2,215.5 560.8,215.5 557.8,218.1 555.2,218.9 554.1,220.8 552.8,222.1 549.8,223.6 546.8,226.6 543.8,228.1 542.3,229.2 538.6,233.8 536.9,237.2 535.2,239.2 532.8,241.0 530.8,241.3ZM647.8,240.7 645.2,239.5 639.2,234.6 634.2,232.6 632.5,230.2 632.0,227.8 632.5,224.8 633.0,223.2 634.0,221.8 636.8,218.9 639.0,215.2 639.9,214.2 644.2,210.1 647.8,207.3 647.8,212.3 644.8,215.0 640.2,220.3 636.6,225.2 636.1,226.2 636.0,227.2 636.1,228.2 636.6,229.2 637.8,230.3 639.2,230.5 640.2,230.0 640.6,229.2 640.5,225.8 640.9,224.8 643.8,222.1 646.1,218.8 647.8,217.1 647.8,223.1 646.1,224.8 644.5,228.2 642.3,230.2 642.1,230.8 642.6,232.2 643.2,233.1 646.2,235.1 647.8,236.5 647.8,240.7ZM557.5,251.2 559.2,250.3 562.8,246.6 568.2,242.6 573.2,239.5 579.2,236.3 586.2,231.1 588.3,228.2 590.3,224.2 591.6,220.8 594.4,216.8 595.2,214.8 594.8,214.2 593.3,213.8 592.2,213.7 591.2,214.0 590.4,214.8 589.4,218.2 587.2,221.9 586.0,225.2 585.1,226.8 582.2,229.8 576.2,233.9 567.8,238.6 561.3,243.2 557.8,246.5 554.3,248.8 554.1,249.8 555.1,251.2 556.2,251.5 557.5,251.2ZM632.2,277.8 628.4,277.8 629.5,276.2 629.4,274.2 628.3,272.2 627.1,271.2 620.2,266.7 613.2,264.2 612.2,264.5 611.2,265.6 608.7,270.2 608.1,271.8 607.7,274.2 607.6,277.8 603.7,277.8 603.9,272.8 604.5,270.2 606.1,266.2 608.4,263.2 608.8,262.2 608.8,260.8 607.5,257.2 607.8,252.4 606.9,247.8 604.6,242.2 603.6,238.8 602.9,232.8 602.4,231.2 601.9,230.2 601.2,229.7 598.2,229.4 597.2,228.7 596.6,227.8 596.2,226.2 596.2,225.8 596.8,225.0 597.8,224.5 599.2,224.2 600.8,224.6 603.0,227.2 605.2,228.7 606.5,230.2 607.0,231.8 607.2,237.2 609.2,243.2 611.5,248.8 611.4,253.2 612.2,260.3 612.8,260.8 613.8,261.2 616.2,260.9 617.8,261.1 624.2,264.6 631.8,270.0 633.1,271.8 633.6,273.8 633.4,275.8 632.5,277.8 632.2,277.8ZM647.8,233.2 646.9,232.2 646.7,231.2 646.9,229.8 647.8,228.6 647.8,233.2ZM600.2,277.8 596.4,277.8 596.6,269.8 597.6,266.8 599.9,262.8 600.3,261.2 600.6,257.8 600.4,254.8 599.3,248.8 598.8,247.2 597.0,244.8 596.4,243.2 596.8,238.2 596.3,237.2 594.2,235.2 593.5,233.8 593.5,232.8 594.1,231.8 595.2,231.0 596.2,230.8 597.2,231.0 597.8,231.5 599.4,234.8 601.2,243.8 602.9,247.2 603.9,250.8 604.1,255.8 604.6,258.8 604.5,262.2 603.9,263.8 601.7,267.2 600.7,270.2 600.1,273.2 600.5,277.8 600.2,277.8ZM562.8,277.8 559.3,277.8 558.8,271.2 558.2,270.3 557.2,269.6 553.8,269.7 550.2,268.7 548.2,268.7 542.8,269.1 532.8,271.4 529.8,271.5 528.2,271.9 528.2,267.9 530.2,267.8 532.8,267.1 535.7,266.8 543.2,265.0 546.2,264.6 550.2,265.1 553.8,265.0 557.2,266.7 558.2,266.6 559.8,265.5 560.2,264.2 559.8,262.8 558.8,261.9 557.8,261.7 554.2,262.2 550.2,261.2 543.8,261.1 531.8,263.9 528.2,264.0 528.2,260.1 534.8,259.3 541.2,257.5 546.2,257.0 548.2,257.1 551.8,257.9 556.2,257.7 559.2,259.3 560.2,259.3 562.0,258.2 564.8,254.9 571.2,249.6 576.8,246.1 580.2,244.4 583.2,242.2 586.8,240.8 588.5,238.2 589.8,237.1 590.8,236.9 591.8,237.1 592.9,238.2 593.2,239.8 593.0,241.2 592.2,242.4 591.2,242.9 588.2,243.1 587.2,243.9 585.8,245.9 584.8,246.6 581.8,247.7 578.2,250.0 575.2,251.6 569.2,256.2 564.7,260.8 563.2,264.8 562.4,269.2 563.2,277.8 562.8,277.8ZM592.8,277.8 589.2,277.8 588.8,277.8 588.8,277.2 589.4,271.8 589.4,270.8 588.5,268.2 588.6,267.2 589.5,265.2 592.3,261.8 592.9,259.8 592.7,256.2 592.9,252.2 592.2,251.1 590.8,250.2 589.8,250.1 589.2,250.3 588.6,251.8 588.6,254.2 589.9,257.2 589.4,259.2 588.0,261.8 586.2,263.5 584.8,264.5 580.8,265.6 579.8,266.2 578.2,268.2 577.7,269.8 577.6,271.2 578.1,277.8 574.1,277.8 573.6,270.2 574.0,267.8 574.9,265.8 576.8,264.0 580.8,261.5 583.6,260.2 584.9,259.2 585.8,257.8 586.0,256.8 585.9,255.8 585.2,254.9 584.2,254.5 583.2,254.7 579.8,258.4 576.8,259.7 575.2,260.7 571.2,264.9 570.6,266.2 570.1,268.2 570.6,277.8 566.9,277.8 566.2,272.2 566.1,267.8 566.4,265.8 567.0,264.2 569.1,261.2 571.2,259.0 575.2,256.4 579.2,253.1 582.8,251.8 586.2,249.1 588.8,248.3 591.2,245.6 592.8,245.0 594.2,245.7 594.9,246.8 595.7,250.8 596.9,253.8 597.1,255.2 596.5,261.8 595.9,263.2 593.8,266.4 593.0,268.2 592.8,269.8 593.1,273.8 592.8,277.8ZM585.2,277.8 581.5,277.8 581.2,272.2 581.5,270.2 582.8,268.1 584.2,267.3 585.8,267.9 586.5,269.2 585.1,273.8 585.1,275.8 585.6,277.8 585.2,277.8ZM646.8,272.4 645.2,272.5 644.2,272.1 641.8,270.2 641.9,269.8 643.4,268.2 644.8,267.5 646.2,267.5 647.8,267.8 647.8,271.8 647.8,272.0 646.8,272.4ZM625.2,277.8 620.9,277.8 619.2,273.9 618.2,273.1 617.2,273.0 616.2,273.1 615.2,273.6 614.6,274.8 615.2,276.7 616.1,277.8 611.2,277.8 610.9,276.8 611.0,275.2 611.8,273.2 612.7,269.8 614.2,268.5 616.2,268.5 617.2,268.9 620.3,271.2 623.2,272.6 624.6,273.8 625.5,275.2 625.7,276.8 625.2,277.8ZM555.8,277.8 552.4,277.8 551.8,276.8 551.1,276.2 549.8,276.0 548.8,276.1 546.8,277.0 542.8,276.8 538.9,277.8 528.2,277.9 528.1,276.2 528.2,275.5 530.8,275.4 533.8,274.6 536.2,274.3 539.2,273.5 545.2,272.5 547.2,272.4 550.2,272.7 553.2,272.5 554.8,273.2 556.0,274.8 556.2,276.2 555.8,277.8ZM647.8,277.9 643.3,277.8 643.8,276.8 644.8,275.9 645.8,275.4 646.8,275.3 647.8,275.5 647.8,277.9Z" fill-rule="evenodd" fill="#c88a30" filter="url(#bl05)"/><path d="M532.8,158.8 529.8,158.7 528.2,159.0 528.2,158.2 534.8,158.2 532.8,158.8ZM532.2,166.8 530.2,167.1 528.5,166.8 528.2,166.6 528.2,165.1 531.0,163.2 532.5,162.8 536.2,162.6 538.7,161.8 543.2,161.1 543.9,160.8 545.8,160.5 548.2,161.2 550.8,161.1 552.7,159.8 553.1,159.2 553.2,158.2 555.1,158.2 554.2,163.0 552.9,164.2 551.2,164.5 547.8,163.9 543.8,163.9 538.2,165.2 535.8,165.4 532.2,166.8ZM561.8,176.8 559.1,176.8 557.4,175.8 555.2,173.8 553.8,172.9 551.2,172.0 549.8,171.8 542.2,171.9 537.4,173.2 530.8,174.5 528.2,175.8 528.2,171.8 530.1,171.2 533.2,171.1 537.5,169.8 542.9,168.8 548.2,168.6 549.9,168.8 552.8,169.6 555.2,169.0 555.9,168.2 556.8,166.0 559.1,162.8 559.6,161.2 559.7,158.2 562.8,158.2 562.8,160.8 561.9,162.8 561.2,165.8 560.8,166.9 559.1,168.2 557.1,169.2 556.4,170.2 556.4,171.8 557.2,173.1 558.2,173.6 560.2,173.6 562.5,172.2 563.1,171.2 564.2,168.2 566.2,165.2 567.1,161.2 567.2,158.2 570.3,158.2 570.2,161.6 569.8,164.2 568.8,166.6 564.2,174.8 562.9,176.2 561.8,176.8ZM528.2,185.7 528.2,181.6 530.5,179.8 534.2,178.2 544.4,176.2 548.3,176.2 550.6,176.8 552.8,177.8 556.8,180.5 558.2,181.1 561.2,181.4 563.2,181.1 564.8,180.5 568.0,177.2 573.1,167.8 574.1,165.2 574.6,162.8 574.7,158.2 577.7,158.2 577.8,162.8 577.2,165.6 576.2,168.3 573.8,173.3 569.8,180.2 567.8,182.2 566.1,183.2 563.2,184.3 560.8,184.5 558.3,184.2 549.8,179.9 547.8,179.4 544.8,179.4 534.8,181.4 530.8,183.4 528.2,185.7ZM554.8,247.8 553.8,248.0 553.4,247.8 553.1,246.2 553.2,245.2 554.7,243.8 558.2,241.6 560.8,239.2 566.4,235.2 576.8,229.6 580.8,226.2 582.0,224.8 584.6,220.2 586.2,215.5 588.7,212.8 589.1,210.8 588.5,209.2 584.7,203.8 581.8,200.8 579.2,198.8 577.2,196.3 575.8,195.4 573.8,195.1 572.2,195.4 570.8,198.2 570.2,198.5 567.2,198.5 562.1,199.8 559.8,199.8 558.0,199.8 555.9,199.2 551.2,197.0 546.8,195.5 544.2,194.9 542.8,194.9 541.2,195.4 538.2,197.3 536.2,197.6 534.2,197.3 533.2,197.4 530.2,199.6 528.2,201.6 528.2,197.3 529.1,196.2 530.1,194.2 530.2,190.2 531.7,188.2 533.8,186.8 537.9,185.2 542.8,184.2 545.8,184.0 548.2,184.2 555.8,188.0 560.2,189.1 562.2,189.1 564.2,188.6 568.2,187.1 570.2,186.1 573.5,182.8 575.2,179.3 578.0,174.8 581.1,168.2 582.1,164.2 582.1,158.2 585.2,158.2 585.2,164.6 584.2,168.6 579.2,178.8 577.0,182.2 575.2,185.6 573.2,187.8 566.3,191.2 564.4,191.8 560.8,192.2 557.3,191.8 555.8,191.2 550.2,188.5 547.2,187.4 542.2,187.4 536.8,189.0 534.8,189.9 532.3,192.2 531.8,193.2 531.8,194.2 532.4,195.2 533.2,196.0 534.2,196.1 539.2,192.8 540.8,192.2 545.2,191.9 548.8,192.8 556.2,196.1 558.8,196.6 561.8,196.6 565.2,196.1 567.7,195.2 571.2,194.6 574.2,191.8 576.6,191.8 579.2,194.8 583.2,197.8 588.8,203.8 590.2,206.0 590.9,208.8 591.8,209.7 592.8,210.6 595.5,211.8 595.2,212.6 594.8,213.0 591.2,213.4 590.0,214.2 588.8,218.6 587.1,221.2 585.3,225.8 583.8,227.8 581.8,229.8 575.8,233.8 567.2,238.4 561.8,242.4 558.2,245.8 554.8,247.8ZM647.8,248.3 646.8,248.2 644.5,247.2 634.8,240.4 632.2,238.9 629.4,237.8 627.3,236.2 626.2,234.6 625.8,232.5 625.2,226.2 625.6,221.8 624.9,219.8 622.2,218.8 618.2,214.9 609.2,208.4 604.2,205.3 602.2,202.8 600.6,199.8 598.1,196.2 592.8,190.4 589.0,187.8 586.8,184.4 585.8,184.0 582.8,183.9 582.5,182.8 582.8,180.8 583.7,179.2 585.7,177.2 586.2,174.7 588.5,170.2 589.5,167.2 589.7,160.8 589.3,158.2 592.3,158.2 592.8,161.8 592.8,168.8 592.2,169.5 590.3,171.2 589.9,172.2 589.9,174.8 590.5,176.2 591.2,176.7 593.8,177.2 594.5,177.8 597.2,180.8 601.1,183.8 605.8,188.6 609.9,194.8 613.2,198.5 618.8,202.6 621.8,204.2 624.2,206.9 625.2,207.6 628.4,208.2 629.2,209.8 628.8,211.7 627.8,212.3 625.7,212.2 623.2,208.9 619.8,207.2 617.2,204.9 613.7,202.8 610.0,199.8 607.8,197.3 605.6,193.8 602.6,189.8 596.2,183.4 592.7,181.2 590.2,177.4 588.2,177.4 586.6,178.2 586.3,178.8 586.3,180.2 586.8,182.2 588.2,183.5 590.7,184.2 593.8,187.7 596.8,189.9 601.2,195.2 604.0,199.8 606.8,203.0 615.2,209.1 617.3,210.2 620.2,213.0 623.3,214.8 624.2,216.0 624.9,217.8 625.8,219.0 627.2,219.1 628.2,218.6 629.1,217.8 630.8,214.6 633.0,212.2 634.2,209.6 635.2,208.2 637.8,206.6 647.8,197.8 647.8,202.0 639.2,209.1 635.4,213.2 632.8,217.8 631.2,219.2 629.8,220.2 628.8,221.2 628.4,222.2 628.3,223.8 628.4,231.2 629.0,232.8 630.1,234.2 631.8,235.7 637.3,238.2 644.2,243.5 647.8,245.1 647.8,248.3ZM630.8,196.3 629.1,195.8 626.8,193.4 623.1,191.2 619.7,187.8 615.6,181.8 612.8,178.3 607.8,173.9 605.2,172.2 601.8,168.6 598.2,166.3 597.2,164.1 596.9,158.2 599.9,158.2 600.0,161.8 600.5,163.2 601.4,164.8 602.8,166.1 605.8,168.2 608.8,171.1 611.2,172.8 615.8,176.8 622.9,186.8 626.5,189.8 628.2,191.6 629.2,192.2 630.8,192.5 631.8,192.4 632.8,192.1 633.7,191.2 636.6,185.8 637.2,183.0 637.8,182.0 642.2,177.1 646.7,172.8 647.8,172.1 647.8,176.1 642.4,181.2 640.8,183.2 639.4,185.8 638.2,189.9 637.8,190.9 634.8,193.5 632.7,195.8 630.8,196.3ZM630.8,187.3 629.1,187.2 628.2,186.5 626.8,183.2 623.8,180.9 621.7,176.8 617.2,171.9 612.8,168.8 605.8,162.8 604.7,161.2 604.2,159.5 604.2,158.2 607.2,158.2 607.9,160.2 609.8,162.5 613.8,165.2 618.2,169.1 621.2,171.2 623.7,175.2 626.2,178.1 627.8,181.8 628.8,182.4 630.5,182.8 631.5,183.2 632.2,184.1 632.3,186.2 631.9,186.8 630.8,187.3ZM625.2,167.4 624.2,167.7 622.7,167.2 620.2,164.5 613.8,160.2 611.9,158.2 616.3,158.2 617.2,159.0 619.3,159.8 621.8,162.9 623.2,163.6 624.2,163.6 625.2,163.5 626.2,162.8 627.2,160.0 628.6,158.2 631.8,158.2 631.3,160.8 630.8,161.8 629.2,163.2 627.2,164.2 625.2,167.4ZM629.8,174.0 628.8,174.1 627.8,173.8 627.2,173.2 626.7,172.2 626.8,170.2 628.2,169.2 630.2,168.7 631.7,167.2 635.5,162.2 636.5,159.8 636.7,158.2 639.5,158.2 638.8,162.8 638.2,163.8 635.2,168.0 634.4,168.8 632.2,169.9 631.4,170.8 630.2,173.4 629.8,174.0ZM644.8,161.5 644.2,161.2 643.8,159.8 643.7,158.2 647.8,158.2 647.8,159.3 644.8,161.5ZM634.2,179.9 633.2,180.1 632.2,179.8 631.8,179.3 631.2,178.2 631.2,176.1 631.7,175.8 634.8,175.1 635.2,174.7 636.1,173.8 637.2,171.2 638.3,170.2 640.2,169.1 641.5,167.8 642.8,164.6 643.8,163.0 644.2,162.6 644.8,162.9 646.8,165.1 647.8,165.2 647.8,166.4 647.2,166.4 645.8,167.4 642.8,170.2 639.8,173.8 636.9,175.8 636.5,176.2 635.2,179.2 634.2,179.9ZM631.8,205.8 630.2,205.7 628.2,203.1 624.2,201.2 622.2,199.5 618.7,197.2 615.9,194.8 612.8,191.2 609.6,186.2 606.0,182.2 602.2,179.2 598.8,175.8 595.8,174.1 594.8,172.4 594.6,170.2 595.8,169.8 597.4,170.2 600.8,174.2 603.3,175.8 609.8,181.6 611.3,183.2 616.4,190.8 618.2,192.7 622.8,196.5 626.9,198.8 629.2,201.2 630.2,201.6 631.8,201.6 633.2,201.0 635.6,198.2 638.2,196.7 639.8,195.2 642.5,191.2 643.8,187.2 644.7,185.2 647.8,182.1 647.8,186.4 646.4,188.8 645.2,192.9 644.2,194.9 643.1,196.2 638.6,200.2 634.8,202.7 632.8,205.2 631.8,205.8ZM647.8,256.3 646.2,256.2 643.2,255.2 635.8,250.0 628.8,245.5 625.8,243.9 623.6,243.2 621.5,241.8 620.2,240.0 618.8,235.2 618.2,232.8 618.1,227.2 617.1,224.2 615.8,222.6 607.2,215.9 604.1,214.2 600.2,211.4 597.2,210.7 596.7,207.2 593.8,203.9 592.1,200.8 587.8,196.1 584.8,193.7 582.8,191.4 579.2,189.2 578.7,187.8 579.2,186.2 580.8,185.2 582.0,185.2 583.0,188.2 583.8,189.2 584.8,190.0 587.3,191.2 589.5,193.8 593.2,197.2 594.5,199.2 597.2,202.7 598.9,206.2 600.2,208.1 601.8,209.2 604.8,210.8 612.2,215.8 619.8,222.1 620.8,223.9 620.9,229.8 621.8,233.5 622.0,235.8 622.4,237.2 623.8,239.2 626.2,241.1 629.2,242.2 631.8,243.8 643.2,251.6 645.2,252.6 647.8,253.1 647.8,256.3ZM531.8,248.3 528.2,248.4 528.2,245.2 531.8,245.1 534.2,244.6 536.8,243.6 539.2,241.2 541.2,236.9 543.2,234.2 545.2,232.2 549.9,228.8 553.2,226.6 560.2,220.8 565.8,219.0 569.2,216.6 570.9,215.2 571.5,214.2 571.6,213.2 571.0,211.2 569.5,208.8 565.8,206.5 564.2,206.1 563.2,206.1 559.3,208.2 557.8,208.2 556.5,207.8 553.8,205.8 550.0,204.8 547.2,203.4 545.2,203.1 541.2,203.4 536.8,205.0 532.8,207.4 528.2,211.3 528.2,207.4 531.7,204.2 533.9,202.8 536.4,201.8 539.8,201.1 543.8,199.7 545.9,199.8 548.8,201.0 552.7,202.2 555.8,204.1 557.8,204.5 561.2,204.4 565.8,203.2 566.9,203.2 568.4,203.8 569.0,204.2 569.8,205.3 570.4,207.2 571.2,208.1 574.2,209.6 574.8,210.2 575.1,211.8 574.8,213.8 571.2,219.1 569.8,220.3 562.2,223.5 559.8,224.9 554.8,229.2 549.2,232.9 542.5,240.2 542.0,241.2 541.2,244.1 539.7,245.8 538.8,246.3 531.8,248.3ZM547.8,246.3 545.8,246.4 545.2,246.1 544.9,244.8 545.2,243.7 548.6,240.2 550.7,237.2 556.2,233.6 562.3,228.8 565.9,226.8 571.8,224.1 573.8,222.6 576.1,220.2 577.8,216.5 579.7,213.8 580.2,211.8 580.1,210.8 579.1,208.8 575.8,205.2 572.7,203.2 571.8,202.2 571.7,200.2 572.2,200.0 574.5,200.2 575.6,200.8 576.8,201.7 578.3,203.8 582.2,207.8 583.2,209.2 583.6,210.8 583.2,212.8 581.4,215.8 579.8,220.1 577.2,223.5 574.8,225.8 564.8,231.0 561.2,233.4 557.2,236.8 551.8,240.4 550.6,241.8 549.8,244.4 549.1,245.2 547.8,246.3ZM528.2,222.0 528.2,217.2 535.8,210.8 539.2,208.8 541.7,207.8 545.8,207.7 547.4,208.2 552.8,210.2 556.8,213.1 559.2,213.8 560.2,213.5 562.2,211.2 563.4,210.8 565.3,210.8 566.1,211.2 566.4,211.8 566.3,213.8 565.3,214.8 563.8,215.0 560.2,215.0 558.1,217.2 557.1,217.8 556.2,217.8 555.7,217.8 555.2,217.3 554.6,214.8 553.2,213.5 549.7,212.8 546.2,210.9 544.2,210.6 542.2,210.9 539.8,211.9 536.8,213.9 531.2,218.4 528.2,222.0ZM647.8,240.3 644.2,238.3 639.2,234.1 638.2,233.5 635.4,232.8 634.6,232.2 633.2,230.8 632.8,229.6 632.6,227.8 632.8,225.5 633.2,223.9 634.2,222.2 637.1,219.2 638.8,216.3 640.2,214.5 645.2,209.8 647.8,207.7 647.8,211.8 643.9,215.2 639.3,220.8 637.8,223.2 636.4,224.8 635.8,225.8 635.4,227.2 635.8,228.8 637.2,230.6 638.2,231.1 640.8,230.9 641.2,231.1 643.2,233.7 647.8,237.1 647.8,240.3ZM531.8,240.8 529.4,240.8 528.2,240.4 528.2,237.2 528.8,237.6 530.2,237.7 531.2,237.6 532.2,237.1 534.0,235.2 536.8,230.2 538.4,228.2 543.4,223.8 546.8,223.0 548.1,222.2 548.6,220.8 548.5,219.2 547.8,218.3 546.8,218.1 544.2,218.4 542.2,219.3 538.2,222.3 533.1,227.2 532.3,228.2 531.8,231.0 530.9,232.2 530.2,232.8 528.2,232.9 528.2,228.7 530.6,226.8 531.7,224.2 532.6,223.2 539.7,217.2 543.3,215.2 546.5,215.2 547.7,216.2 548.8,217.9 553.8,218.9 553.8,220.2 553.1,221.2 551.8,222.2 549.2,223.3 547.2,225.8 542.8,228.3 538.4,233.2 536.2,237.4 535.3,238.8 533.3,240.2 531.8,240.8ZM646.2,263.8 643.8,264.0 642.2,263.8 638.8,261.0 629.2,254.4 627.8,253.4 623.8,251.8 620.2,248.9 618.8,249.0 616.8,250.4 616.2,250.1 615.1,246.2 612.8,241.4 611.2,236.8 611.1,231.2 610.1,228.2 608.2,226.1 605.2,223.5 602.2,221.8 599.8,219.8 598.2,219.3 597.2,219.4 596.2,219.8 594.9,221.2 594.2,224.3 592.1,227.8 590.8,231.5 589.2,233.3 582.0,238.8 578.8,240.4 570.2,245.5 564.2,250.0 560.8,253.8 559.2,254.8 556.9,254.8 554.8,253.3 550.2,253.6 546.8,252.9 544.2,252.8 540.2,253.5 534.8,255.2 528.2,256.3 528.2,253.2 536.8,251.6 541.7,249.8 543.2,249.6 545.1,249.8 546.8,250.6 547.8,250.7 549.8,250.6 552.8,249.7 553.2,249.9 555.2,252.1 556.8,252.0 558.8,251.1 560.2,250.0 563.2,246.8 568.7,242.8 572.8,240.2 578.8,237.1 586.2,231.7 587.6,230.2 588.6,228.8 592.7,219.8 595.2,216.3 595.9,215.8 596.8,215.7 602.9,218.2 610.3,223.8 612.8,226.2 613.8,228.8 614.0,233.8 614.9,238.2 616.2,241.2 617.0,243.8 617.9,245.2 618.8,246.2 620.2,247.1 622.8,247.2 624.2,247.8 627.2,250.0 632.3,252.8 642.2,259.9 644.2,260.7 645.8,260.9 647.8,260.7 647.8,263.4 646.2,263.8ZM642.2,229.4 641.8,229.5 641.2,229.1 640.8,227.2 640.8,226.2 641.2,224.8 644.2,222.2 645.8,219.7 647.8,217.7 647.8,222.5 645.9,224.2 644.2,227.9 642.2,229.4ZM631.8,277.8 629.1,277.8 630.1,276.2 630.1,274.8 629.2,272.8 627.2,270.8 620.8,266.4 619.8,265.9 615.9,264.8 613.2,263.4 612.2,263.6 611.1,264.8 609.8,267.7 607.9,270.8 607.0,275.8 607.0,277.8 604.2,277.8 604.2,272.8 604.8,270.7 606.8,266.1 609.1,263.2 609.5,261.2 608.2,258.2 608.2,252.2 607.6,248.8 607.1,246.8 605.2,242.9 604.2,239.7 603.0,231.8 602.4,230.2 601.8,229.4 600.8,229.0 598.2,228.8 597.5,228.2 596.7,226.8 596.8,225.9 597.2,225.2 598.2,224.7 600.2,224.8 601.2,225.6 602.8,227.7 605.2,229.2 606.2,230.6 606.6,232.8 606.5,235.8 607.0,238.2 608.9,243.8 610.8,247.8 611.0,249.8 610.8,253.2 611.3,255.8 611.4,259.8 612.1,261.2 613.2,262.0 616.2,261.4 618.0,261.8 620.2,263.1 623.7,264.8 630.8,269.8 632.3,271.2 633.2,273.8 632.8,275.9 631.8,277.8ZM647.8,232.7 647.2,231.9 647.2,230.8 647.2,230.0 647.8,229.2 647.8,232.7ZM599.8,277.8 596.9,277.8 596.8,271.5 597.2,268.8 597.8,267.4 600.0,263.8 600.6,262.2 601.1,259.2 601.1,256.2 599.6,247.8 598.5,245.8 597.2,244.2 596.8,242.8 597.5,239.2 597.5,238.2 596.8,237.2 594.7,235.2 594.2,234.2 594.2,232.4 594.9,231.8 596.2,231.3 597.2,231.7 597.8,232.2 598.8,234.1 599.2,236.0 599.4,238.8 600.4,242.8 603.2,249.5 603.9,257.2 604.3,258.8 604.2,261.3 603.8,263.0 601.4,266.8 599.9,271.8 599.8,277.8ZM562.8,277.8 559.7,277.8 559.6,271.8 558.5,269.8 557.2,268.8 553.8,269.3 550.2,268.3 544.2,268.5 536.8,269.9 534.2,270.8 529.8,270.9 528.2,271.3 528.2,268.2 529.2,268.4 534.4,267.2 536.2,267.1 539.1,266.2 544.2,265.2 547.2,265.2 549.8,265.6 553.8,265.6 554.5,265.8 556.8,267.2 557.8,267.4 558.8,267.1 559.8,266.3 560.7,265.2 560.8,264.8 560.6,263.2 559.8,261.9 558.8,261.0 554.8,261.8 553.7,261.8 550.8,260.8 542.8,260.8 533.1,263.2 530.2,263.5 528.2,263.4 528.2,260.6 529.9,260.2 533.8,260.0 542.2,257.8 546.2,257.5 549.2,257.7 550.2,258.1 552.2,258.3 556.2,258.2 557.3,258.8 558.8,260.0 559.2,260.2 560.2,260.0 561.8,259.1 565.1,255.2 571.7,249.8 577.3,246.2 580.2,245.0 584.0,242.2 586.8,241.6 587.6,240.8 588.8,238.7 589.8,237.7 590.8,237.4 591.9,237.8 592.8,239.2 592.8,240.8 592.2,241.8 591.2,242.3 588.8,242.4 587.8,242.7 585.2,245.8 581.2,247.4 578.8,249.2 574.8,251.4 568.8,256.1 564.4,260.2 562.4,264.8 561.9,268.2 561.9,271.2 562.8,275.5 562.8,277.8ZM592.2,277.8 589.2,277.8 589.2,274.9 589.9,271.2 589.2,267.8 589.8,265.7 592.6,262.2 593.5,259.2 593.2,255.8 593.5,252.8 593.1,251.2 592.2,250.4 589.8,249.2 589.6,248.8 590.2,247.3 591.2,246.2 591.9,245.8 592.8,245.6 593.4,245.8 594.0,246.2 594.8,247.8 595.0,250.2 596.2,253.0 596.5,255.8 596.3,260.8 595.8,262.5 593.3,266.2 592.4,268.8 592.6,274.2 592.2,277.8ZM577.2,277.8 574.7,277.8 574.1,270.2 574.2,268.2 574.8,266.8 575.8,265.4 577.1,264.2 581.2,261.8 583.8,260.7 584.9,259.8 586.1,258.2 586.5,256.8 586.5,255.8 585.9,254.8 584.2,253.9 582.8,254.4 580.8,256.9 579.3,258.2 576.2,259.4 574.2,261.0 571.9,263.2 570.5,265.2 569.9,266.8 569.5,269.2 570.2,277.8 567.2,277.8 567.1,275.2 566.7,273.8 566.6,268.2 566.8,266.1 567.2,264.8 569.2,261.7 571.1,259.8 572.2,258.7 575.8,256.6 578.2,254.2 579.8,253.2 582.8,252.5 586.1,249.8 587.2,249.5 588.2,249.7 587.9,253.8 588.4,255.2 589.2,256.5 589.2,258.5 587.8,261.4 585.8,263.2 583.9,264.2 580.8,265.0 579.2,266.0 578.0,267.8 577.4,269.2 577.2,271.2 577.7,277.8 577.2,277.8ZM639.8,277.8 636.8,277.8 637.2,274.3 638.0,272.2 638.0,271.2 637.1,269.8 635.2,267.9 628.8,262.9 622.2,258.9 620.2,257.9 617.8,257.7 616.7,257.2 615.8,256.4 615.2,255.8 615.1,253.8 615.2,252.9 616.2,251.3 616.8,251.4 619.2,254.5 620.8,255.5 623.9,256.2 624.8,256.8 631.6,261.2 638.8,266.7 639.8,268.3 640.2,270.2 640.3,275.8 639.8,277.8ZM584.8,277.8 582.1,277.8 581.7,273.2 581.7,270.8 582.2,269.3 583.2,268.2 584.2,267.9 585.3,268.2 585.8,269.2 585.8,270.6 584.9,272.8 584.7,274.2 585.0,277.8 584.8,277.8ZM647.2,271.8 644.7,271.8 643.2,270.5 643.3,269.2 644.2,268.2 644.8,268.1 647.8,268.2 647.8,271.5 647.2,271.8ZM624.2,277.8 621.5,277.8 620.8,276.8 619.7,273.8 618.8,272.8 617.2,272.4 615.2,273.1 614.5,273.8 614.3,274.2 614.4,275.8 615.7,277.8 611.7,277.8 611.3,276.2 612.5,272.8 612.8,270.6 613.2,269.8 613.8,269.2 615.2,268.8 616.8,269.2 617.8,269.8 619.8,271.6 623.5,273.2 624.8,274.6 625.3,275.8 625.2,276.9 624.6,277.8 624.2,277.8ZM555.2,277.8 553.0,277.8 551.2,275.8 550.2,275.4 545.8,276.6 543.8,276.3 541.8,276.4 539.4,277.2 537.0,277.8 528.2,277.8 528.2,276.2 530.2,276.0 532.6,275.2 537.2,274.6 539.9,273.8 542.8,273.6 546.1,272.8 547.8,272.8 549.8,273.2 552.8,273.0 554.1,273.2 555.2,274.3 555.8,275.8 555.2,277.8ZM647.8,277.8 643.8,277.8 645.0,276.2 646.8,275.7 647.8,276.0 647.8,277.8Z" fill-rule="evenodd" fill="#e6c47c" filter="url(#bl1)"/></g></g><rect x="162.2" y="187.2" width="8.4" height="60.2" fill="url(#ggold)" stroke="#555" stroke-width="0.6"/><text x="152" y="186.2" font-family="'Liberation Sans', sans-serif" font-size="7.2" fill="#333">68.2 pm</text><text x="151" y="254.5" font-family="'Liberation Sans', sans-serif" font-size="7.2" fill="#333">-69.4 pm</text><rect x="327.7" y="187.2" width="8.4" height="60.2" fill="url(#ggold)" stroke="#555" stroke-width="0.6"/><text x="320.4" y="186.2" font-family="'Liberation Sans', sans-serif" font-size="7.2" fill="#333">-29.3 °</text><text x="320.5" y="254.5" font-family="'Liberation Sans', sans-serif" font-size="7.2" fill="#333">-38.0 °</text><rect x="491.4" y="187.2" width="8.4" height="60.2" fill="url(#ggold)" stroke="#555" stroke-width="0.6"/><text x="481" y="186.2" font-family="'Liberation Sans', sans-serif" font-size="7.2" fill="#333">43.9 pm</text><text x="480.5" y="254.5" font-family="'Liberation Sans', sans-serif" font-size="7.2" fill="#333">-41.0 pm</text><rect x="664.3" y="187.2" width="8.4" height="60.2" fill="url(#ggold)" stroke="#555" stroke-width="0.6"/><text x="657" y="186.2" font-family="'Liberation Sans', sans-serif" font-size="7.2" fill="#333">-27.4 °</text><text x="657" y="254.5" font-family="'Liberation Sans', sans-serif" font-size="7.2" fill="#333">-35.8 °</text><text x="30.7" y="285.6" font-family="'Liberation Sans', sans-serif" font-size="6.95" fill="#333">Amplitude Error</text><text x="114.3" y="285.6" font-family="'Liberation Sans', sans-serif" font-size="7.1" fill="#333">100.0 nm</text><line x1="116.8" y1="279.6" x2="141.3" y2="279.6" stroke="#111" stroke-width="1.3"/><text x="197" y="285.6" font-family="'Liberation Sans', sans-serif" font-size="6.95" fill="#333">Phase</text><text x="279.8" y="285.6" font-family="'Liberation Sans', sans-serif" font-size="7.1" fill="#333">100.0 nm</text><line x1="282.3" y1="279.6" x2="306.8" y2="279.6" stroke="#111" stroke-width="1.3"/><text x="360" y="285.6" font-family="'Liberation Sans', sans-serif" font-size="6.95" fill="#333">Amplitude Error</text><text x="443.3" y="285.6" font-family="'Liberation Sans', sans-serif" font-size="7.1" fill="#333">100.0 nm</text><line x1="445.8" y1="279.6" x2="470.3" y2="279.6" stroke="#111" stroke-width="1.3"/><text x="532.5" y="285.6" font-family="'Liberation Sans', sans-serif" font-size="6.95" fill="#333">Phase</text><text x="616.8" y="285.6" font-family="'Liberation Sans', sans-serif" font-size="7.1" fill="#333">100.0 nm</text><line x1="619.3" y1="279.6" x2="643.8" y2="279.6" stroke="#111" stroke-width="1.3"/><g font-family="'Liberation Sans', sans-serif" font-size="20" fill="#000"><text x="9" y="172.6" font-size="20" fill="#000" text-anchor="start" >d</text><text x="177.5" y="172.6" font-size="20" fill="#000" text-anchor="start" >e</text><text x="342.2" y="172.6" font-size="20" fill="#000" text-anchor="start" >f</text><text x="511" y="172.6" font-size="20" fill="#000" text-anchor="start" >g</text></g></g><g id="panelHJ"><g clip-path="url(#cp1)"><g filter="url(#fs1)"><rect x="26" y="289.8" width="143" height="143.2" fill="rgb(5,5,5)"/><circle cx="94.3" cy="334.8" r="105" fill="url(#rg1)"/><line x1="94.3" y1="380.8" x2="145.7" y2="442.1" stroke="#000" stroke-width="1.8"/><circle cx="94.3" cy="380.8" r="3.6" fill="#000"/></g></g><g clip-path="url(#cp2)"><g filter="url(#fs2)"><rect x="169" y="289.8" width="143" height="143.2" fill="rgb(5,5,5)"/><circle cx="236.2" cy="335.3" r="105" fill="url(#rg2)"/><g filter="url(#bl3)" fill="none" stroke="rgb(128,128,128)" stroke-width="9" stroke-linecap="round"><path d="M218.5,341.6 A43.5,43.5 0 0 1 253.9,341.6"/><path d="M253.1,419.2 A41.5,41.5 0 0 1 219.3,419.2"/></g><g filter="url(#bl3)" fill="none" stroke="rgb(199,199,199)" stroke-width="6" stroke-linecap="round"><path d="M230.9,338.1 A43.5,43.5 0 0 1 241.5,338.1"/><path d="M241.3,422.5 A41.5,41.5 0 0 1 231.1,422.5"/></g><line x1="236.2" y1="381.3" x2="287.6" y2="442.6" stroke="#000" stroke-width="1.8"/><circle cx="236.2" cy="381.3" r="3.6" fill="#000"/></g></g><g clip-path="url(#cp3)"><g filter="url(#fs3)"><rect x="368" y="289.9" width="144" height="143.20000000000005" fill="rgb(5,5,5)"/><circle cx="437.1" cy="335.8" r="105" fill="url(#rg3)"/><line x1="437.1" y1="381.8" x2="488.5" y2="443.1" stroke="#000" stroke-width="1.8"/><circle cx="437.1" cy="381.8" r="3.6" fill="#000"/></g></g><g clip-path="url(#cp4)"><g filter="url(#fs4)"><rect x="512" y="289.9" width="144" height="143.20000000000005" fill="rgb(5,5,5)"/><circle cx="579.7" cy="334.7" r="105" fill="url(#rg4)"/><g filter="url(#bl3)" fill="none" stroke="rgb(107,107,107)" stroke-width="7" stroke-linecap="round"><path d="M569.2,338.5 A43.5,43.5 0 0 1 590.2,338.5"/><path d="M590.3,423.2 A43.8,43.8 0 0 1 569.1,423.2"/></g><g filter="url(#bl3)" fill="none" stroke="rgb(163,163,163)" stroke-width="5" stroke-linecap="round"><path d="M575.9,337.4 A43.5,43.5 0 0 1 583.5,337.4"/><path d="M583.5,424.3 A43.8,43.8 0 0 1 575.9,424.3"/></g><line x1="579.7" y1="380.7" x2="631.1" y2="442.0" stroke="#000" stroke-width="1.8"/><circle cx="579.7" cy="380.7" r="3.6" fill="#000"/></g></g><line x1="512" y1="290" x2="512" y2="433" stroke="#6a70c8" stroke-width="0.7" opacity="0.7"/><g clip-path="url(#cpj)"><g filter="url(#fj)"><rect x="25.8" y="450.3" width="143.6" height="143.2" fill="rgb(71,71,71)"/><ellipse cx="96.2" cy="610" rx="100" ry="126" fill="url(#rgj)"/><g filter="url(#bl4)"><ellipse cx="96.5" cy="537" rx="48" ry="20" fill="rgb(219,219,219)"/></g><g filter="url(#bl3)"><ellipse cx="96.5" cy="533" rx="29" ry="11" fill="rgb(255,255,255)"/></g><path d="M70,511 Q96,502 122,511" fill="none" stroke="rgb(128,128,128)" stroke-width="1.6" filter="url(#bl1)"/><ellipse cx="96.2" cy="594.5" rx="5.5" ry="5" fill="#000"/></g></g><rect x="312" y="290" width="6.6" height="144" fill="url(#gjet)"/><rect x="656" y="290" width="6.6" height="143" fill="url(#gjet)"/><rect x="169.8" y="450.3" width="6.6" height="143.09999999999997" fill="url(#gjet2)"/><text x="326" y="303" font-family="'Liberation Sans', sans-serif" font-size="10.7" fill="#111">100</text><text x="326.5" y="370" font-family="'Liberation Sans', sans-serif" font-size="10.7" fill="#111">50</text><text x="327.5" y="437.5" font-family="'Liberation Sans', sans-serif" font-size="10.7" fill="#111">0</text><text x="668.2" y="303" font-family="'Liberation Sans', sans-serif" font-size="10.7" fill="#111">100</text><text x="668.8" y="370" font-family="'Liberation Sans', sans-serif" font-size="10.7" fill="#111">50</text><text x="669.8" y="436.5" font-family="'Liberation Sans', sans-serif" font-size="10.7" fill="#111">0</text><text x="183" y="462" font-family="'Liberation Sans', sans-serif" font-size="10.7" fill="#111">20</text><text x="183" y="528" font-family="'Liberation Sans', sans-serif" font-size="10.7" fill="#111">10</text><text x="183.5" y="596" font-family="'Liberation Sans', sans-serif" font-size="10.7" fill="#111">0</text><text x="37.7" y="312" font-family="'Liberation Sans', sans-serif" font-size="10.3" fill="#fff">HH</text><text x="141.5" y="305" font-family="'Liberation Sans', sans-serif" font-size="10.3" fill="#fff">P1</text><text x="132.6" y="317.5" font-family="'Liberation Sans', sans-serif" font-size="10.3" fill="#fff">(<tspan font-style="italic">ε</tspan>=0%)</text><text x="180.6" y="309.8" font-family="'Liberation Sans', sans-serif" font-size="10.3" fill="#fff">HH</text><text x="278" y="305" font-family="'Liberation Sans', sans-serif" font-size="10.3" fill="#fff">P2</text><text x="263" y="317" font-family="'Liberation Sans', sans-serif" font-size="10.3" fill="#fff">(<tspan font-style="italic">ε</tspan>=600%)</text><text x="377" y="312.3" font-family="'Liberation Sans', sans-serif" font-size="10.3" fill="#fff">1GNS/HH</text><text x="484.5" y="305" font-family="'Liberation Sans', sans-serif" font-size="10.3" fill="#fff">P1</text><text x="476" y="318" font-family="'Liberation Sans', sans-serif" font-size="10.3" fill="#fff">(<tspan font-style="italic">ε</tspan>=0%)</text><text x="524.8" y="313" font-family="'Liberation Sans', sans-serif" font-size="10.3" fill="#fff">1GNS/HH</text><text x="621" y="305" font-family="'Liberation Sans', sans-serif" font-size="10.3" fill="#fff">P2</text><text x="607.5" y="317.5" font-family="'Liberation Sans', sans-serif" font-size="10.3" fill="#fff">(<tspan font-style="italic">ε</tspan>=600%)</text><text x="37.7" y="476" font-family="'Liberation Sans', sans-serif" font-size="10.3" fill="#fff">1GNS/HH</text><text x="136.9" y="466" font-family="'Liberation Sans', sans-serif" font-size="10.3" fill="#fff">P2</text><text x="122.5" y="478.5" font-family="'Liberation Sans', sans-serif" font-size="10.3" fill="#fff">(<tspan font-style="italic">ε</tspan>=600%)</text><line x1="494.4" y1="336" x2="486.8" y2="338.5" stroke="#fff" stroke-width="1.7"/><polygon points="481.9,340.2 486.5,334.4 486.4,338.7 489.1,342.0" fill="#fff"/><line x1="557.3" y1="328.6" x2="569.5" y2="323.8" stroke="#fff" stroke-width="1.7"/><polygon points="574.3,321.9 570.0,327.9 569.9,323.6 567.1,320.5" fill="#fff"/><line x1="110.7" y1="501.3" x2="103.9" y2="503.9" stroke="#fff" stroke-width="1.7"/><polygon points="99,505.7 103.4,499.8 103.4,504.0 106.2,507.3" fill="#fff"/><g font-family="'Liberation Sans', sans-serif" font-size="20" fill="#000"><text x="9" y="305.5" font-size="20" fill="#000" text-anchor="start" >h</text><text x="357.5" y="305.5" font-size="20" fill="#000" text-anchor="start" >i</text><text x="9.1" y="459.6" font-size="20" fill="#000" text-anchor="start" >j</text></g></g><g id="panelK" font-family="'Liberation Sans', sans-serif"><polyline points="231.5,588.2 232.0,588.1 232.6,587.9 233.3,587.8 234.2,587.5 235.1,587.3 236.0,587.0 237.0,586.7 238.1,586.4 239.2,586.0 240.4,585.6 241.5,585.1 242.6,584.5 243.6,583.8 244.5,583.0 245.4,582.2 246.2,581.3 247.1,580.4 248.0,579.5 248.9,578.5 249.9,577.5 250.9,576.5 251.8,575.5 252.7,574.5 253.5,573.7 254.2,573.0 254.8,572.4 255.4,571.9 255.9,571.4 256.4,570.9 257.0,570.5 257.6,570.1 258.2,569.7 258.8,569.3 259.5,569.0 260.1,568.6 260.7,568.3 261.3,567.9 262.0,567.6 262.6,567.3 263.3,566.9 263.9,566.6 264.5,566.2 265.1,565.8 265.7,565.5 266.2,565.1 266.8,564.8 267.3,564.3 267.9,563.8 268.5,563.2 269.1,562.6 269.7,561.9 270.3,561.1 270.9,560.3 271.5,559.5 272.1,558.7 272.7,557.8 273.3,556.9 273.9,555.9 274.5,555.0 275.1,553.9 275.7,552.8 276.3,551.6 277.0,550.4 277.6,549.1 278.2,547.8 278.8,546.5 279.4,545.1 280.0,543.6 280.6,542.1 281.2,540.6 281.8,539.1 282.3,537.6 282.8,536.2 283.3,534.9 283.7,533.6 284.1,532.3 284.6,530.9 285.0,529.5 285.5,528.0 285.9,526.4 286.4,524.8 286.9,523.1 287.3,521.4 287.8,519.6 288.3,517.8 288.7,515.9 289.2,513.9 289.6,512.0 290.1,510.0 290.5,508.0 291.0,506.0 291.4,504.0 291.9,502.0 292.3,500.0 292.8,498.0 293.2,496.1 293.6,494.2 294.0,492.4 294.4,490.5 294.8,488.8 295.1,487.1 295.5,485.5 295.9,484.0 296.3,482.6 296.6,481.3 297.0,480.1 297.4,479.0 297.7,478.0 298.0,477.2 298.4,476.5 298.7,475.9 299.0,475.4 299.3,475.1 299.6,474.8 299.9,474.6 300.1,474.5 300.4,474.5 300.7,474.6 301.0,474.8 301.3,475.2 301.7,475.7 302.1,476.2 302.6,476.9 303.1,477.7 303.5,478.7 304.0,479.9 304.4,481.3 304.9,483.0 305.4,484.9 305.8,486.8 306.3,488.9 306.7,491.0 307.1,493.2 307.6,495.4 308.0,497.8 308.5,500.2 308.9,502.6 309.4,505.1 309.8,507.7 310.3,510.3 310.8,513.0 311.2,515.7 311.6,518.4 312.1,521.0 312.5,523.6 313.0,526.1 313.4,528.7 313.9,531.2 314.3,533.6 314.8,535.8 315.3,537.9 315.7,539.9 316.2,541.8 316.7,543.6 317.1,545.3 317.6,547.0 318.1,548.6 318.5,550.2 319.0,551.7 319.4,553.1 319.9,554.4 320.3,555.7 320.8,556.8 321.2,557.9 321.6,558.8 322.1,559.7 322.6,560.6 323.0,561.5 323.4,562.4 323.9,563.3 324.3,564.1 324.8,565.0 325.2,565.8 325.7,566.5 326.2,567.2 326.6,567.8 327.1,568.4 327.6,569.0 328.0,569.5 328.5,570.0 329.0,570.5 329.5,571.0 330.0,571.5 330.5,572.0 330.9,572.3 331.2,572.6 332.2,566.0 332.6,560.0 333.2,566.0 334.0,575.2 334.0,575.2 334.6,575.8 335.5,576.6 336.5,577.5 337.5,578.2 338.3,578.8 339.2,579.4 340.0,579.9 341.0,580.5 342.1,581.1 343.4,581.9 344.7,582.6 346.0,583.3 347.3,584.0 348.7,584.6 350.1,585.3 351.5,585.8 353.0,586.4 354.4,586.9 356.0,587.3 357.5,587.7 359.1,588.0 360.8,588.2 362.4,588.4 363.8,588.5 365.0,588.5 366.0,588.4 367.0,588.2 368.0,588.0 369.1,587.8 370.2,587.5 371.4,587.2 372.6,586.9 373.9,586.5 375.3,586.2 376.7,585.8 378.0,585.5 379.3,585.2 380.5,584.8 381.8,584.6 383.0,584.3 384.2,584.1 385.5,584.0 386.7,583.9 388.0,583.8 389.4,583.8 390.8,583.8 392.3,583.8 393.6,583.8 394.8,583.8 395.9,583.9 396.9,583.9 398.0,584.0 399.2,584.2 400.4,584.4 401.4,584.5 402.3,584.4 402.8,584.0 403.1,583.3 403.3,582.6 403.5,582.2 403.8,582.4 404.2,583.0 404.5,583.5 405.0,583.9 405.6,583.8 406.3,583.6 407.0,583.3 407.6,583.2 408.1,583.2 408.6,583.3 409.1,583.3 409.5,583.2 409.9,582.7 410.3,581.9 410.6,581.1 411.0,580.5 411.4,580.0 411.8,579.5 412.2,579.2 412.5,579.2 412.8,579.5 413.1,580.1 413.3,580.8 413.6,581.5 413.8,582.2 414.0,583.1 414.3,583.9 414.6,584.5 415.1,584.9 415.7,585.2 416.3,585.5 417.0,585.7 417.7,586.0 418.4,586.2 419.2,586.4 419.9,586.7 420.6,587.1 421.2,587.5 421.9,588.0 422.5,588.4 423.1,588.7 423.8,589.1 424.4,589.4 425.1,589.8 425.9,590.1 426.7,590.4 427.6,590.8 428.5,591.1 429.5,591.5 430.5,591.8 431.4,592.2 432.1,592.4" fill="none" stroke="#404040" stroke-width="2.1" stroke-linejoin="round"/><polyline points="231.5,588.2 232.0,588.1 232.6,587.9 233.3,587.8 234.2,587.5 235.1,587.3 236.0,587.0 237.0,586.7 238.1,586.4 239.2,586.0 240.4,585.6 241.5,585.1 242.6,584.5 243.6,583.8 244.5,583.0 245.4,582.2 246.2,581.3 247.1,580.4 248.0,579.5 248.9,578.5 249.9,577.5 250.9,576.5 251.8,575.5 252.7,574.5 253.5,573.7 254.2,573.0 254.8,572.4 255.4,571.9 255.9,571.4 256.4,570.9 257.0,570.5 257.6,570.1 258.2,569.7 258.8,569.3 259.5,569.0 260.1,568.6 260.7,568.3 261.3,567.9 262.0,567.6 262.6,567.3 263.3,566.9 263.9,566.6 264.5,566.2 265.1,565.8 265.7,565.5 266.2,565.1 266.8,564.8 267.3,564.3 267.9,563.8 268.5,563.2 269.1,562.6 269.7,561.9 270.3,561.1 270.9,560.3 271.5,559.5 272.1,558.7 272.7,557.8 273.3,556.9 273.9,555.9 274.5,555.0 275.1,553.9 275.7,552.8 276.3,551.6 277.0,550.4 277.6,549.1 278.2,547.8 278.8,546.5 279.4,545.1 280.0,543.6 280.6,542.1 281.2,540.6 281.8,539.1 282.3,537.6 282.8,536.2 283.3,534.9 283.7,533.6 284.1,532.3 284.6,530.9 285.0,529.5 285.5,528.0 285.9,526.4 286.4,524.8 286.9,523.1 287.3,521.4 287.8,519.6 288.3,517.8 288.7,515.9 289.2,513.9 289.6,512.0 290.1,510.0 290.5,508.0 291.0,506.0 291.4,504.0 291.9,502.0 292.3,500.0 292.8,498.0 293.2,496.1 293.6,494.2 294.0,492.4 294.4,490.5 294.8,488.8 295.1,487.1 295.5,485.5 295.9,484.0 296.3,482.6 296.6,481.3 297.0,480.1 297.4,479.0 297.7,478.0 298.0,477.2 298.4,476.5 298.7,475.9 299.0,475.4 299.3,475.1 299.6,474.8 299.9,474.6 300.1,474.5 300.4,474.5 300.7,474.6 301.0,474.8 301.3,475.2 301.7,475.7 302.1,476.2 302.6,476.9 303.1,477.7 303.5,478.7 304.0,479.9 304.4,481.3 304.9,483.0 305.4,484.9 305.8,486.8 306.3,488.9 306.7,491.0 307.1,493.2 307.6,495.4 308.0,497.8 308.5,500.2 308.9,502.6 309.4,505.1 309.8,507.7 310.3,510.3 310.8,513.0 311.2,515.7 311.6,518.4 312.1,521.0 312.5,523.6 313.0,526.1 313.4,528.7 313.9,531.2 314.3,533.6 314.8,535.8 315.3,537.9 315.7,539.9 316.2,541.8 316.7,543.6 317.1,545.3 317.6,547.0 318.1,548.6 318.5,550.2 319.0,551.7 319.4,553.1 319.9,554.4 320.3,555.7 320.8,556.8 321.2,557.9 321.6,558.8 322.1,559.7 322.6,560.6 323.0,561.5 323.4,562.4 323.9,563.3 324.3,564.1 324.8,565.0 325.2,565.8 325.7,566.5 326.2,567.2 326.6,567.8 327.1,568.4 327.6,569.0 328.0,569.5 328.5,570.0 329.0,570.5 329.5,571.0 330.0,571.5 330.5,572.0 330.9,572.3 331.2,572.6 332.2,566.0 332.6,560.0 333.2,566.0 334.0,575.2 334.0,575.2 334.6,575.8 335.5,576.6 336.5,577.5 337.5,578.2 338.3,578.8 339.2,579.3 340.0,579.9 341.0,580.4 342.1,581.1 343.4,581.8 344.7,582.6 346.0,583.2 347.3,583.9 348.7,584.6 350.1,585.2 351.5,585.8 353.0,586.3 354.4,586.8 356.0,587.2 357.5,587.6 359.1,587.9 360.8,588.1 362.4,588.3 363.8,588.4 365.0,588.4 366.0,588.3 367.0,588.1 368.0,587.9 369.1,587.7 370.2,587.4 371.4,587.1 372.6,586.7 373.9,586.4 375.3,586.0 376.7,585.7 378.0,585.3 379.3,585.0 380.5,584.7 381.8,584.4 383.0,584.2 384.2,584.0 385.5,583.8 386.7,583.8 388.0,583.7 389.4,583.6 390.8,583.6 392.3,583.6 393.6,583.6 394.8,583.6 395.9,583.7 396.9,583.7 398.0,583.8 399.2,584.0 400.4,584.2 401.4,584.3 402.3,584.2 402.8,583.8 403.1,583.0 403.3,582.4 403.5,582.0 403.8,582.2 404.2,582.7 404.5,583.3 405.0,583.6 405.6,583.6 406.3,583.4 407.0,583.1 407.6,582.9 408.1,582.9 408.6,583.1 409.1,583.1 409.5,582.9 409.9,582.4 410.3,581.7 410.6,580.9 411.0,580.2 411.4,579.7 411.8,579.3 412.2,579.0 412.5,578.9 412.8,579.3 413.1,579.8 413.3,580.5 413.6,581.3 413.8,582.0 414.0,582.8 414.3,583.6 414.6,584.3 415.1,584.7 415.7,585.0 416.3,585.2 417.0,585.5 417.7,585.7 418.4,585.9 419.2,586.2 419.9,586.5 420.6,586.8 421.2,587.2 421.9,587.7 422.5,588.1 423.1,588.4 423.8,588.8 424.4,589.1 425.1,589.5 425.9,589.8 426.7,590.1 427.6,590.5 428.5,590.8 429.5,591.2 430.5,591.5 431.4,591.9 432.1,592.1" fill="none" stroke="#e8383d" stroke-width="2.1" stroke-linejoin="round"/><polyline points="231.5,588.2 232.0,588.1 232.6,587.9 233.3,587.8 234.2,587.5 235.1,587.3 236.0,587.0 237.0,586.7 238.1,586.4 239.2,586.0 240.4,585.6 241.5,585.1 242.6,584.5 243.6,583.8 244.5,583.0 245.4,582.2 246.2,581.3 247.1,580.4 248.0,579.5 248.9,578.5 249.9,577.5 250.9,576.5 251.8,575.5 252.7,574.5 253.5,573.7 254.2,573.0 254.8,572.4 255.4,571.9 255.9,571.4 256.4,570.9 257.0,570.5 257.6,570.1 258.2,569.7 258.8,569.3 259.5,569.0 260.1,568.6 260.7,568.3 261.3,567.9 262.0,567.6 262.6,567.3 263.3,566.9 263.9,566.6 264.5,566.2 265.1,565.8 265.7,565.5 266.2,565.1 266.8,564.8 267.3,564.3 267.9,563.8 268.5,563.2 269.1,562.6 269.7,561.9 270.3,561.1 270.9,560.3 271.5,559.5 272.1,558.7 272.7,557.8 273.3,556.9 273.9,555.9 274.5,555.0 275.1,553.9 275.7,552.8 276.3,551.6 277.0,550.4 277.6,549.1 278.2,547.8 278.8,546.5 279.4,545.1 280.0,543.6 280.6,542.1 281.2,540.6 281.8,539.1 282.3,537.6 282.8,536.2 283.3,534.9 283.7,533.6 284.1,532.3 284.6,530.9 285.0,529.5 285.5,528.0 285.9,526.4 286.4,524.8 286.9,523.1 287.3,521.4 287.8,519.6 288.3,517.8 288.7,515.9 289.2,513.9 289.6,512.0 290.1,510.0 290.5,508.0 291.0,506.0 291.4,504.0 291.9,502.0 292.3,500.0 292.8,498.0 293.2,496.1 293.6,494.2 294.0,492.4 294.4,490.5 294.8,488.8 295.1,487.1 295.5,485.5 295.9,484.0 296.3,482.6 296.6,481.3 297.0,480.1 297.4,479.0 297.7,478.0 298.0,477.2 298.4,476.5 298.7,475.9 299.0,475.4 299.3,475.1 299.6,474.8 299.9,474.6 300.1,474.5 300.4,474.5 300.7,474.6 301.0,474.8 301.3,475.2 301.7,475.7 302.1,476.2 302.6,476.9 303.1,477.7 303.5,478.7 304.0,479.9 304.4,481.3 304.9,483.0 305.4,484.9 305.8,486.8 306.3,488.9 306.7,491.0 307.1,493.2 307.6,495.4 308.0,497.8 308.5,500.2 308.9,502.6 309.4,505.1 309.8,507.7 310.3,510.3 310.8,513.0 311.2,515.7 311.6,518.4 312.1,521.0 312.5,523.6 313.0,526.1 313.4,528.7 313.9,531.2 314.3,533.6 314.8,535.8 315.3,537.9 315.7,539.9 316.2,541.8 316.7,543.6 317.1,545.3 317.6,547.0 318.1,548.6 318.5,550.2 319.0,551.7 319.4,553.1 319.9,554.4 320.3,555.7 320.8,556.8 321.2,557.9 321.6,558.8 322.1,559.7 322.6,560.6 323.0,561.5 323.4,562.4 323.9,563.3 324.3,564.1 324.8,565.0 325.2,565.8 325.7,566.5 326.2,567.2 326.6,567.8 327.1,568.4 327.6,569.0 328.0,569.5 328.5,570.0 329.0,570.5 329.5,571.0 330.0,571.5 330.5,572.0 330.9,572.3 331.2,572.6 332.2,566.0 332.6,560.0 333.2,566.1 334.0,575.3 334.0,575.3 334.6,575.8 335.5,576.7 336.5,577.5 337.5,578.3 338.3,578.9 339.2,579.5 340.0,580.0 341.0,580.6 342.1,581.3 343.4,582.0 344.7,582.7 346.0,583.5 347.3,584.1 348.7,584.8 350.1,585.5 351.5,586.0 353.0,586.6 354.4,587.1 356.0,587.6 357.5,587.9 359.1,588.3 360.8,588.5 362.4,588.7 363.8,588.8 365.0,588.8 366.0,588.8 367.0,588.6 368.0,588.4 369.1,588.2 370.2,587.9 371.4,587.6 372.6,587.3 373.9,587.0 375.3,586.6 376.7,586.3 378.0,586.0 379.3,585.7 380.5,585.4 381.8,585.1 383.0,584.8 384.2,584.7 385.5,584.6 386.7,584.5 388.0,584.4 389.4,584.4 390.8,584.4 392.3,584.4 393.6,584.4 394.8,584.5 395.9,584.5 396.9,584.6 398.0,584.7 399.2,584.9 400.4,585.1 401.4,585.2 402.3,585.2 402.8,584.7 403.1,584.0 403.3,583.3 403.5,583.0 403.8,583.2 404.2,583.7 404.5,584.3 405.0,584.6 405.6,584.6 406.3,584.4 407.0,584.1 407.6,583.9 408.1,584.0 408.6,584.1 409.1,584.1 409.5,584.0 409.9,583.5 410.3,582.7 410.6,581.9 411.0,581.3 411.4,580.8 411.8,580.3 412.2,580.1 412.5,580.0 412.8,580.3 413.1,580.9 413.3,581.6 413.6,582.3 413.8,583.1 414.0,583.9 414.3,584.7 414.6,585.4 415.1,585.8 415.7,586.1 416.3,586.3 417.0,586.6 417.7,586.9 418.4,587.1 419.2,587.3 419.9,587.6 420.6,588.0 421.2,588.4 421.9,588.9 422.5,589.3 423.1,589.7 423.8,590.0 424.4,590.4 425.1,590.7 425.9,591.1 426.7,591.4 427.6,591.7 428.5,592.1 429.5,592.4 430.5,592.8 431.4,593.2 432.1,593.4" fill="none" stroke="#2e6fd8" stroke-width="2.1" stroke-linejoin="round"/><polyline points="231.5,588.2 232.0,588.1 232.6,587.9 233.3,587.8 234.2,587.5 235.1,587.3 236.0,587.0 237.0,586.7 238.1,586.4 239.2,586.0 240.4,585.6 241.5,585.1 242.6,584.5 243.6,583.8 244.5,583.0 245.4,582.2 246.2,581.3 247.1,580.4 248.0,579.5 248.9,578.5 249.9,577.5 250.9,576.5 251.8,575.5 252.7,574.5 253.5,573.7 254.2,573.0 254.8,572.4 255.4,571.9 255.9,571.4 256.4,570.9 257.0,570.5 257.6,570.1 258.2,569.7 258.8,569.3 259.5,569.0 260.1,568.6 260.7,568.3 261.3,567.9 262.0,567.6 262.6,567.3 263.3,566.9 263.9,566.6 264.5,566.2 265.1,565.8 265.7,565.5 266.2,565.1 266.8,564.8 267.3,564.3 267.9,563.8 268.5,563.2 269.1,562.6 269.7,561.9 270.3,561.1 270.9,560.3 271.5,559.5 272.1,558.7 272.7,557.8 273.3,556.9 273.9,555.9 274.5,555.0 275.1,553.9 275.7,552.8 276.3,551.6 277.0,550.4 277.6,549.1 278.2,547.8 278.8,546.5 279.4,545.1 280.0,543.6 280.6,542.1 281.2,540.6 281.8,539.1 282.3,537.6 282.8,536.2 283.3,534.9 283.7,533.6 284.1,532.3 284.6,530.9 285.0,529.5 285.5,528.0 285.9,526.4 286.4,524.8 286.9,523.1 287.3,521.4 287.8,519.6 288.3,517.8 288.7,515.9 289.2,513.9 289.6,512.0 290.1,510.0 290.5,508.0 291.0,506.0 291.4,504.0 291.9,502.0 292.3,500.0 292.8,498.0 293.2,496.1 293.6,494.2 294.0,492.4 294.4,490.5 294.8,488.8 295.1,487.1 295.5,485.5 295.9,484.0 296.3,482.6 296.6,481.3 297.0,480.1 297.4,479.0 297.7,478.0 298.0,477.2 298.4,476.5 298.7,475.9 299.0,475.4 299.3,475.1 299.6,474.8 299.9,474.6 300.1,474.5 300.4,474.5 300.7,474.6 301.0,474.8 301.3,475.2 301.7,475.7 302.1,476.2 302.6,476.9 303.1,477.7 303.5,478.7 304.0,479.9 304.4,481.3 304.9,483.0 305.4,484.9 305.8,486.8 306.3,488.9 306.7,491.0 307.1,493.2 307.6,495.4 308.0,497.8 308.5,500.2 308.9,502.6 309.4,505.1 309.8,507.7 310.3,510.3 310.8,513.0 311.2,515.7 311.6,518.4 312.1,521.0 312.5,523.6 313.0,526.1 313.4,528.7 313.9,531.2 314.3,533.6 314.8,535.8 315.3,537.9 315.7,539.9 316.2,541.8 316.7,543.6 317.1,545.3 317.6,547.0 318.1,548.6 318.5,550.2 319.0,551.7 319.4,553.1 319.9,554.4 320.3,555.7 320.8,556.8 321.2,557.9 321.6,558.8 322.1,559.7 322.6,560.6 323.0,561.5 323.4,562.4 323.9,563.3 324.3,564.1 324.8,565.0 325.2,565.8 325.7,566.5 326.2,567.2 326.6,567.8 327.1,568.4 327.6,569.0 328.0,569.5 328.5,570.0 329.0,570.5 329.5,571.0 330.0,571.5 330.5,572.0 330.9,572.3 331.2,572.6 332.2,566.0 332.6,560.0 333.2,566.0 334.0,575.2 334.0,575.2 334.6,575.8 335.5,576.6 336.5,577.5 337.5,578.3 338.3,578.9 339.2,579.4 340.0,579.9 341.0,580.5 342.1,581.2 343.4,581.9 344.7,582.7 346.0,583.4 347.3,584.0 348.7,584.7 350.1,585.3 351.5,585.9 353.0,586.5 354.4,587.0 356.0,587.4 357.5,587.8 359.1,588.1 360.8,588.4 362.4,588.5 363.8,588.6 365.0,588.6 366.0,588.5 367.0,588.4 368.0,588.2 369.1,587.9 370.2,587.7 371.4,587.3 372.6,587.0 373.9,586.7 375.3,586.4 376.7,586.0 378.0,585.7 379.3,585.4 380.5,585.0 381.8,584.8 383.0,584.5 384.2,584.4 385.5,584.2 386.7,584.1 388.0,584.1 389.4,584.0 390.8,584.0 392.3,584.0 393.6,584.0 394.8,584.1 395.9,584.1 396.9,584.2 398.0,584.3 399.2,584.4 400.4,584.7 401.4,584.8 402.3,584.7 402.8,584.3 403.1,583.6 403.3,582.9 403.5,582.5 403.8,582.7 404.2,583.2 404.5,583.8 405.0,584.1 405.6,584.1 406.3,583.9 407.0,583.6 407.6,583.5 408.1,583.5 408.6,583.6 409.1,583.7 409.5,583.5 409.9,583.0 410.3,582.2 410.6,581.4 411.0,580.8 411.4,580.3 411.8,579.9 412.2,579.6 412.5,579.5 412.8,579.8 413.1,580.4 413.3,581.1 413.6,581.8 413.8,582.6 414.0,583.4 414.3,584.2 414.6,584.8 415.1,585.3 415.7,585.6 416.3,585.8 417.0,586.1 417.7,586.3 418.4,586.6 419.2,586.8 419.9,587.1 420.6,587.5 421.2,587.9 421.9,588.3 422.5,588.7 423.1,589.1 423.8,589.5 424.4,589.8 425.1,590.2 425.9,590.5 426.7,590.8 427.6,591.2 428.5,591.5 429.5,591.9 430.5,592.2 431.4,592.6 432.1,592.8" fill="none" stroke="#2aa55a" stroke-width="2.1" stroke-linejoin="round"/><polyline points="231.5,588.2 232.0,588.1 232.6,587.9 233.3,587.8 234.2,587.5 235.1,587.3 236.0,587.0 237.0,586.7 238.1,586.4 239.2,586.0 240.4,585.6 241.5,585.1 242.6,584.5 243.6,583.8 244.5,583.0 245.4,582.2 246.2,581.3 247.1,580.4 248.0,579.5 248.9,578.5 249.9,577.5 250.9,576.5 251.8,575.5 252.7,574.5 253.5,573.7 254.2,573.0 254.8,572.4 255.4,571.9 255.9,571.4 256.4,570.9 257.0,570.5 257.6,570.1 258.2,569.7 258.8,569.3 259.5,569.0 260.1,568.6 260.7,568.3 261.3,567.9 262.0,567.6 262.6,567.3 263.3,566.9 263.9,566.6 264.5,566.2 265.1,565.8 265.7,565.5 266.2,565.1 266.8,564.8 267.3,564.3 267.9,563.8 268.5,563.2 269.1,562.6 269.7,561.9 270.3,561.1 270.9,560.3 271.5,559.5 272.1,558.7 272.7,557.8 273.3,556.9 273.9,555.9 274.5,555.0 275.1,553.9 275.7,552.8 276.3,551.6 277.0,550.4 277.6,549.1 278.2,547.8 278.8,546.5 279.4,545.1 280.0,543.6 280.6,542.1 281.2,540.6 281.8,539.1 282.3,537.6 282.8,536.2 283.3,534.9 283.7,533.6 284.1,532.3 284.6,530.9 285.0,529.5 285.5,528.0 285.9,526.4 286.4,524.8 286.9,523.1 287.3,521.4 287.8,519.6 288.3,517.8 288.7,515.9 289.2,513.9 289.6,512.0 290.1,510.0 290.5,508.0 291.0,506.0 291.4,504.0 291.9,502.0 292.3,500.0 292.8,498.0 293.2,496.1 293.6,494.2 294.0,492.4 294.4,490.5 294.8,488.8 295.1,487.1 295.5,485.5 295.9,484.0 296.3,482.6 296.6,481.3 297.0,480.1 297.4,479.0 297.7,478.0 298.0,477.2 298.4,476.5 298.7,475.9 299.0,475.4 299.3,475.1 299.6,474.8 299.9,474.6 300.1,474.5 300.4,474.5 300.7,474.6 301.0,474.8 301.3,475.2 301.7,475.7 302.1,476.2 302.6,476.9 303.1,477.7 303.5,478.7 304.0,479.9 304.4,481.3 304.9,483.0 305.4,484.9 305.8,486.8 306.3,488.9 306.7,491.0 307.1,493.2 307.6,495.4 308.0,497.8 308.5,500.2 308.9,502.6 309.4,505.1 309.8,507.7 310.3,510.3 310.8,513.0 311.2,515.7 311.6,518.4 312.1,521.0 312.5,523.6 313.0,526.1 313.4,528.7 313.9,531.2 314.3,533.6 314.8,535.8 315.3,537.9 315.7,539.9 316.2,541.8 316.7,543.6 317.1,545.3 317.6,547.0 318.1,548.6 318.5,550.2 319.0,551.7 319.4,553.1 319.9,554.4 320.3,555.7 320.8,556.8 321.2,557.9 321.6,558.8 322.1,559.7 322.6,560.6 323.0,561.5 323.4,562.4 323.9,563.3 324.3,564.1 324.8,565.0 325.2,565.8 325.7,566.5 326.2,567.2 326.6,567.8 327.1,568.4 327.6,569.0 328.0,569.5 328.5,570.0 329.0,570.5 329.5,571.0 330.0,571.5 330.5,572.0 330.9,572.3 331.2,572.6 332.2,566.0 332.6,560.0 333.2,566.0 334.0,575.2 334.0,575.2 334.6,575.8 335.5,576.6 336.5,577.5 337.5,578.3 338.3,578.9 339.2,579.4 340.0,579.9 341.0,580.5 342.1,581.2 343.4,581.9 344.7,582.7 346.0,583.4 347.3,584.1 348.7,584.7 350.1,585.4 351.5,586.0 353.0,586.5 354.4,587.0 356.0,587.4 357.5,587.8 359.1,588.2 360.8,588.4 362.4,588.6 363.8,588.7 365.0,588.7 366.0,588.6 367.0,588.4 368.0,588.3 369.1,588.0 370.2,587.7 371.4,587.4 372.6,587.1 373.9,586.8 375.3,586.4 376.7,586.1 378.0,585.8 379.3,585.5 380.5,585.2 381.8,584.9 383.0,584.6 384.2,584.5 385.5,584.3 386.7,584.3 388.0,584.2 389.4,584.2 390.8,584.1 392.3,584.1 393.6,584.2 394.8,584.2 395.9,584.3 396.9,584.3 398.0,584.4 399.2,584.6 400.4,584.8 401.4,584.9 402.3,584.9 402.8,584.4 403.1,583.7 403.3,583.0 403.5,582.7 403.8,582.9 404.2,583.4 404.5,584.0 405.0,584.3 405.6,584.3 406.3,584.1 407.0,583.8 407.6,583.6 408.1,583.7 408.6,583.8 409.1,583.8 409.5,583.7 409.9,583.1 410.3,582.4 410.6,581.6 411.0,581.0 411.4,580.5 411.8,580.0 412.2,579.7 412.5,579.7 412.8,580.0 413.1,580.6 413.3,581.3 413.6,582.0 413.8,582.7 414.0,583.6 414.3,584.4 414.6,585.0 415.1,585.5 415.7,585.8 416.3,586.0 417.0,586.2 417.7,586.5 418.4,586.7 419.2,587.0 419.9,587.3 420.6,587.6 421.2,588.1 421.9,588.5 422.5,588.9 423.1,589.3 423.8,589.6 424.4,590.0 425.1,590.3 425.9,590.7 426.7,591.0 427.6,591.3 428.5,591.7 429.5,592.0 430.5,592.4 431.4,592.8 432.1,593.0" fill="none" stroke="#a070e0" stroke-width="2.1" stroke-linejoin="round"/><polyline points="231.5,588.2 232.0,588.1 232.6,587.9 233.3,587.8 234.2,587.5 235.1,587.3 236.0,587.0 237.0,586.7 238.1,586.4 239.2,586.0 240.4,585.6 241.5,585.1 242.6,584.5 243.6,583.8 244.5,583.0 245.4,582.2 246.2,581.3 247.1,580.4 248.0,579.5 248.9,578.5 249.9,577.5 250.9,576.5 251.8,575.5 252.7,574.5 253.5,573.7 254.2,573.0 254.8,572.4 255.4,571.9 255.9,571.4 256.4,570.9 257.0,570.5 257.6,570.1 258.2,569.7 258.8,569.3 259.5,569.0 260.1,568.6 260.7,568.3 261.3,567.9 262.0,567.6 262.6,567.3 263.3,566.9 263.9,566.6 264.5,566.2 265.1,565.8 265.7,565.5 266.2,565.1 266.8,564.8 267.3,564.3 267.9,563.8 268.5,563.2 269.1,562.6 269.7,561.9 270.3,561.1 270.9,560.3 271.5,559.5 272.1,558.7 272.7,557.8 273.3,556.9 273.9,555.9 274.5,555.0 275.1,553.9 275.7,552.8 276.3,551.6 277.0,550.4 277.6,549.1 278.2,547.8 278.8,546.5 279.4,545.1 280.0,543.6 280.6,542.1 281.2,540.6 281.8,539.1 282.3,537.6 282.8,536.2 283.3,534.9 283.7,533.6 284.1,532.3 284.6,530.9 285.0,529.5 285.5,528.0 285.9,526.4 286.4,524.8 286.9,523.1 287.3,521.4 287.8,519.6 288.3,517.8 288.7,515.9 289.2,513.9 289.6,512.0 290.1,510.0 290.5,508.0 291.0,506.0 291.4,504.0 291.9,502.0 292.3,500.0 292.8,498.0 293.2,496.1 293.6,494.2 294.0,492.4 294.4,490.5 294.8,488.8 295.1,487.1 295.5,485.5 295.9,484.0 296.3,482.6 296.6,481.3 297.0,480.1 297.4,479.0 297.7,478.0 298.0,477.2 298.4,476.5 298.7,475.9 299.0,475.4 299.3,475.1 299.6,474.8 299.9,474.6 300.1,474.5 300.4,474.5 300.7,474.6 301.0,474.8 301.3,475.2 301.7,475.7 302.1,476.2 302.6,476.9 303.1,477.7 303.5,478.7 304.0,479.9 304.4,481.3 304.9,483.0 305.4,484.9 305.8,486.8 306.3,488.9 306.7,491.0 307.1,493.2 307.6,495.4 308.0,497.8 308.5,500.2 308.9,502.6 309.4,505.1 309.8,507.7 310.3,510.3 310.8,513.0 311.2,515.7 311.6,518.4 312.1,521.0 312.5,523.6 313.0,526.1 313.4,528.7 313.9,531.2 314.3,533.6 314.8,535.8 315.3,537.9 315.7,539.9 316.2,541.8 316.7,543.6 317.1,545.3 317.6,547.0 318.1,548.6 318.5,550.2 319.0,551.7 319.4,553.1 319.9,554.4 320.3,555.7 320.8,556.8 321.2,557.9 321.6,558.8 322.1,559.7 322.6,560.6 323.0,561.5 323.4,562.4 323.9,563.3 324.3,564.1 324.8,565.0 325.2,565.8 325.7,566.5 326.2,567.2 326.6,567.8 327.1,568.4 327.6,569.0 328.0,569.5 328.5,570.0 329.0,570.5 329.5,571.0 330.0,571.5 330.5,572.0 330.9,572.3 331.2,572.6 332.2,566.0 332.6,560.0 333.2,566.0 334.0,575.2 334.0,575.2 334.6,575.8 335.5,576.6 336.5,577.4 337.5,578.2 338.3,578.8 339.2,579.3 340.0,579.8 341.0,580.4 342.1,581.1 343.4,581.8 344.7,582.5 346.0,583.2 347.3,583.9 348.7,584.5 350.1,585.1 351.5,585.7 353.0,586.2 354.4,586.7 356.0,587.1 357.5,587.5 359.1,587.8 360.8,588.0 362.4,588.2 363.8,588.3 365.0,588.3 366.0,588.2 367.0,588.0 368.0,587.8 369.1,587.6 370.2,587.3 371.4,586.9 372.6,586.6 373.9,586.3 375.3,585.9 376.7,585.5 378.0,585.2 379.3,584.9 380.5,584.5 381.8,584.2 383.0,584.0 384.2,583.8 385.5,583.7 386.7,583.6 388.0,583.5 389.4,583.4 390.8,583.4 392.3,583.4 393.6,583.4 394.8,583.4 395.9,583.5 396.9,583.5 398.0,583.6 399.2,583.7 400.4,584.0 401.4,584.1 402.3,584.0 402.8,583.5 403.1,582.8 403.3,582.1 403.5,581.8 403.8,582.0 404.2,582.5 404.5,583.1 405.0,583.4 405.6,583.4 406.3,583.1 407.0,582.9 407.6,582.7 408.1,582.7 408.6,582.8 409.1,582.9 409.5,582.7 409.9,582.2 410.3,581.4 410.6,580.6 411.0,580.0 411.4,579.5 411.8,579.0 412.2,578.7 412.5,578.7 412.8,579.0 413.1,579.6 413.3,580.3 413.6,581.0 413.8,581.7 414.0,582.6 414.3,583.4 414.6,584.0 415.1,584.4 415.7,584.7 416.3,585.0 417.0,585.2 417.7,585.5 418.4,585.7 419.2,585.9 419.9,586.2 420.6,586.6 421.2,587.0 421.9,587.4 422.5,587.8 423.1,588.2 423.8,588.5 424.4,588.9 425.1,589.2 425.9,589.5 426.7,589.9 427.6,590.2 428.5,590.5 429.5,590.9 430.5,591.2 431.4,591.6 432.1,591.8" fill="none" stroke="#d49a12" stroke-width="2.1" stroke-linejoin="round"/><rect x="231" y="439.2" width="201.5" height="162.3" fill="none" stroke="#000" stroke-width="1.3"/><line x1="243.7" y1="601.5" x2="243.7" y2="598.3" stroke="#000" stroke-width="1"/><line x1="260.1" y1="601.5" x2="260.1" y2="599.5" stroke="#000" stroke-width="1"/><line x1="276.5" y1="601.5" x2="276.5" y2="598.3" stroke="#000" stroke-width="1"/><line x1="292.9" y1="601.5" x2="292.9" y2="599.5" stroke="#000" stroke-width="1"/><line x1="309.3" y1="601.5" x2="309.3" y2="598.3" stroke="#000" stroke-width="1"/><line x1="325.7" y1="601.5" x2="325.7" y2="599.5" stroke="#000" stroke-width="1"/><line x1="342.1" y1="601.5" x2="342.1" y2="598.3" stroke="#000" stroke-width="1"/><line x1="358.5" y1="601.5" x2="358.5" y2="599.5" stroke="#000" stroke-width="1"/><line x1="374.9" y1="601.5" x2="374.9" y2="598.3" stroke="#000" stroke-width="1"/><line x1="391.3" y1="601.5" x2="391.3" y2="599.5" stroke="#000" stroke-width="1"/><line x1="407.7" y1="601.5" x2="407.7" y2="598.3" stroke="#000" stroke-width="1"/><line x1="424.1" y1="601.5" x2="424.1" y2="599.5" stroke="#000" stroke-width="1"/><text x="243.7" y="616.6" font-family="'Liberation Sans', sans-serif" font-size="10.6" fill="#222" text-anchor="middle">0.5</text><text x="276.5" y="616.6" font-family="'Liberation Sans', sans-serif" font-size="10.6" fill="#222" text-anchor="middle">1.0</text><text x="309.3" y="616.6" font-family="'Liberation Sans', sans-serif" font-size="10.6" fill="#222" text-anchor="middle">1.5</text><text x="342.1" y="616.6" font-family="'Liberation Sans', sans-serif" font-size="10.6" fill="#222" text-anchor="middle">2.0</text><text x="374.9" y="616.6" font-family="'Liberation Sans', sans-serif" font-size="10.6" fill="#222" text-anchor="middle">2.5</text><text x="407.7" y="616.6" font-family="'Liberation Sans', sans-serif" font-size="10.6" fill="#222" text-anchor="middle">3.0</text><text x="317.3" y="628.5" font-family="'Liberation Sans', sans-serif" font-size="10.8" fill="#222"><tspan font-style="italic">q</tspan> (Å<tspan font-size="6.5" dy="-4">-1</tspan><tspan dy="4">)</tspan></text><text transform="translate(221.2,518) rotate(-90)" font-family="'Liberation Sans', sans-serif" font-size="10.5" fill="#222" text-anchor="middle">Intensity (a.u.)</text><text x="330.9" y="550" font-family="'Liberation Sans', sans-serif" font-size="10.5" fill="#222">(002)</text><text x="394.5" y="571.3" font-family="'Liberation Sans', sans-serif" font-size="10.5" fill="#222">(100)</text><line x1="341.6" y1="456.1" x2="365" y2="456.1" stroke="#404040" stroke-width="1.6"/><text x="368.3" y="459.7" font-family="'Liberation Sans', sans-serif" font-size="10.65" fill="#222">HH</text><line x1="341.6" y1="469.3" x2="365" y2="469.3" stroke="#e8383d" stroke-width="1.6"/><text x="368.3" y="472.9" font-family="'Liberation Sans', sans-serif" font-size="10.65" fill="#222">0.5GNS/HH</text><line x1="341.6" y1="482.4" x2="365" y2="482.4" stroke="#2e6fd8" stroke-width="1.6"/><text x="368.3" y="486.0" font-family="'Liberation Sans', sans-serif" font-size="10.65" fill="#222">1GNS/HH</text><line x1="341.6" y1="495.6" x2="365" y2="495.6" stroke="#2aa55a" stroke-width="1.6"/><text x="368.3" y="499.2" font-family="'Liberation Sans', sans-serif" font-size="10.65" fill="#222">2GNS/HH</text><line x1="341.6" y1="508.8" x2="365" y2="508.8" stroke="#a070e0" stroke-width="1.6"/><text x="368.3" y="512.4" font-family="'Liberation Sans', sans-serif" font-size="10.65" fill="#222">5GNS/HH</text><line x1="341.6" y1="522.0" x2="365" y2="522.0" stroke="#d49a12" stroke-width="1.6"/><text x="368.3" y="525.6" font-family="'Liberation Sans', sans-serif" font-size="10.65" fill="#222">8GNS/HH</text><text x="208.5" y="455.5" font-size="20" fill="#000" text-anchor="start" >k</text></g><g id="panelL"><polyline points="468.8,598.1 469.8,598.5 470.8,598.2 471.8,598.5 472.8,598.5 473.8,597.6 474.8,597.5 475.8,598.6 476.8,597.7 477.8,597.7 478.8,598.7 479.8,597.9 480.8,598.3 481.8,597.8 482.8,597.9 483.8,597.2 484.8,597.8 485.8,598.0 486.8,597.5 487.8,597.7 488.8,597.5 489.8,596.6 490.8,597.5 491.8,597.1 492.8,596.6 493.8,596.2 494.8,597.2 495.8,596.6 496.8,596.8 497.8,596.9 498.8,596.6 499.8,596.7 500.8,595.9 501.8,596.3 502.8,595.7 503.8,596.2 504.8,596.0 505.8,594.8 506.8,594.7 507.8,594.6 508.8,595.5 509.8,594.6 510.8,594.7 511.8,594.0 512.8,594.1 513.8,593.7 514.8,593.5 515.8,593.6 516.8,593.4 517.8,593.6 518.8,593.0 519.8,593.1 520.8,592.8 521.8,592.7 522.8,592.0 523.8,591.0 524.8,591.6 525.8,591.5 526.8,591.0 527.8,590.2 528.8,590.1 529.8,589.0 530.8,589.5 531.8,588.7 532.8,587.9 533.8,587.1 534.8,587.7 535.8,587.4 536.8,585.6 537.8,586.1 538.8,584.9 539.8,584.0 540.8,583.5 541.8,583.5 542.8,582.9 543.8,581.0 544.8,580.9 545.8,579.3 546.8,579.3 547.8,577.8 548.8,577.5 549.8,576.5 550.8,574.7 551.8,574.1 552.8,571.9 553.8,570.2 554.8,569.4 555.8,567.1 556.8,565.7 557.8,564.4 558.8,562.9 559.8,560.5 560.8,558.6 561.8,558.0 562.8,555.5 563.8,554.7 564.8,553.0 565.8,550.8 566.8,549.7 567.8,548.7 568.8,548.1 569.8,547.5 570.8,547.2 571.8,547.4 572.8,548.2 573.8,548.3 574.8,549.2 575.8,550.8 576.8,551.5 577.8,553.1 578.8,555.7 579.8,556.8 580.8,558.6 581.8,559.6 582.8,562.0 583.8,563.9 584.8,564.8 585.8,567.3 586.8,568.9 587.8,569.6 588.8,571.8 589.8,572.9 590.8,574.5 591.8,575.2 592.8,576.8 593.8,577.9 594.8,577.9 595.8,578.9 596.8,580.7 597.8,581.9 598.8,581.7 599.8,582.8 600.8,583.7 601.8,583.9 602.8,584.6 603.8,585.2 604.8,585.8 605.8,586.7 606.8,586.8 607.8,587.3 608.8,588.4 609.8,587.8 610.8,588.9 611.8,589.6 612.8,589.4 613.8,589.6 614.8,590.8 615.8,590.3 616.8,590.6 617.8,591.2 618.8,591.9 619.8,591.3 620.8,591.9 621.8,592.2 622.8,593.2 623.8,592.8 624.8,593.7 625.8,592.9 626.8,593.4 627.8,594.0 628.8,594.6 629.8,594.2 630.8,594.0 631.8,594.1 632.8,594.8 633.8,594.5 634.8,595.5 635.8,595.7 636.8,595.0 637.8,595.3 638.8,596.1 639.8,596.0 640.8,596.4 641.8,595.9 642.8,595.7 643.8,596.1 644.8,596.9 645.8,596.3 646.8,596.5 647.8,596.7 648.8,596.8 649.8,596.9 650.8,597.7 651.8,596.7 652.8,596.6 653.8,598.0 654.8,597.9 655.8,598.2 656.8,597.5 657.8,598.3 658.8,598.3 659.8,597.4 660.8,598.2 661.8,598.4 662.8,598.2 663.8,598.0 664.8,597.8 665.8,597.9 666.8,597.8 667.8,597.6 668.8,598.4 669.8,598.0" fill="none" stroke="#404040" stroke-width="1.5" stroke-linejoin="round"/><polyline points="468.8,599.3 469.8,598.2 470.8,599.4 471.8,599.0 472.8,599.3 473.8,599.2 474.8,599.2 475.8,598.7 476.8,597.9 477.8,598.9 478.8,598.0 479.8,598.2 480.8,598.6 481.8,598.4 482.8,598.2 483.8,598.9 484.8,598.4 485.8,597.9 486.8,597.8 487.8,598.5 488.8,597.9 489.8,598.3 490.8,597.6 491.8,597.3 492.8,597.7 493.8,598.1 494.8,597.1 495.8,597.9 496.8,598.0 497.8,597.7 498.8,597.6 499.8,596.4 500.8,597.1 501.8,597.4 502.8,596.1 503.8,596.3 504.8,596.2 505.8,596.4 506.8,596.1 507.8,596.1 508.8,596.3 509.8,595.1 510.8,595.0 511.8,595.0 512.8,594.8 513.8,594.5 514.8,595.6 515.8,595.3 516.8,594.0 517.8,594.4 518.8,593.9 519.8,593.7 520.8,593.5 521.8,593.6 522.8,593.3 523.8,592.7 524.8,592.2 525.8,592.1 526.8,591.5 527.8,591.8 528.8,591.7 529.8,590.9 530.8,590.1 531.8,589.9 532.8,589.7 533.8,589.6 534.8,589.4 535.8,588.4 536.8,588.5 537.8,587.7 538.8,586.9 539.8,586.3 540.8,585.8 541.8,585.5 542.8,584.4 543.8,584.0 544.8,582.9 545.8,581.8 546.8,581.3 547.8,580.6 548.8,578.7 549.8,578.1 550.8,576.9 551.8,576.3 552.8,575.0 553.8,572.8 554.8,572.0 555.8,570.3 556.8,567.8 557.8,566.3 558.8,564.0 559.8,563.0 560.8,560.8 561.8,559.1 562.8,557.0 563.8,554.9 564.8,553.1 565.8,551.2 566.8,549.1 567.8,548.6 568.8,547.0 569.8,546.7 570.8,547.5 571.8,546.8 572.8,547.6 573.8,548.6 574.8,551.1 575.8,551.7 576.8,553.2 577.8,556.3 578.8,557.2 579.8,560.3 580.8,562.0 581.8,564.2 582.8,566.3 583.8,567.6 584.8,569.6 585.8,570.2 586.8,572.8 587.8,573.9 588.8,575.5 589.8,576.0 590.8,578.1 591.8,579.5 592.8,579.3 593.8,580.6 594.8,581.9 595.8,583.1 596.8,583.1 597.8,583.8 598.8,584.6 599.8,585.7 600.8,586.6 601.8,586.7 602.8,587.2 603.8,587.7 604.8,588.2 605.8,588.7 606.8,588.7 607.8,589.7 608.8,590.8 609.8,590.4 610.8,591.3 611.8,590.8 612.8,591.9 613.8,592.3 614.8,592.5 615.8,592.5 616.8,592.8 617.8,593.3 618.8,593.9 619.8,593.1 620.8,593.3 621.8,594.4 622.8,594.9 623.8,594.5 624.8,594.6 625.8,595.2 626.8,594.6 627.8,594.9 628.8,595.0 629.8,595.7 630.8,595.5 631.8,595.5 632.8,596.3 633.8,596.8 634.8,596.0 635.8,596.7 636.8,596.5 637.8,597.2 638.8,596.9 639.8,596.6 640.8,596.6 641.8,596.5 642.8,597.2 643.8,597.2 644.8,597.0 645.8,597.3 646.8,597.3 647.8,598.0 648.8,597.2 649.8,598.5 650.8,597.9 651.8,598.1 652.8,598.0 653.8,598.5 654.8,598.6 655.8,598.3 656.8,598.2 657.8,598.6 658.8,598.8 659.8,598.3 660.8,598.8 661.8,599.1 662.8,598.5 663.8,598.2 664.8,598.2 665.8,598.9 666.8,598.9 667.8,599.4 668.8,599.2 669.8,598.4" fill="none" stroke="#e8383d" stroke-width="1.5" stroke-linejoin="round"/><polyline points="468.8,599.7 469.8,599.8 470.8,599.6 471.8,600.3 472.8,600.5 473.8,600.6 474.8,599.6 475.8,600.5 476.8,599.7 477.8,599.8 478.8,600.2 479.8,599.3 480.8,599.2 481.8,600.2 482.8,599.4 483.8,599.5 484.8,599.8 485.8,599.9 486.8,598.9 487.8,599.3 488.8,599.4 489.8,599.4 490.8,599.0 491.8,599.4 492.8,599.9 493.8,599.1 494.8,599.2 495.8,598.5 496.8,598.7 497.8,599.2 498.8,598.3 499.8,599.3 500.8,599.3 501.8,598.1 502.8,599.1 503.8,598.3 504.8,598.7 505.8,598.6 506.8,597.8 507.8,598.3 508.8,598.1 509.8,598.2 510.8,597.3 511.8,597.8 512.8,598.0 513.8,597.4 514.8,597.1 515.8,596.3 516.8,596.7 517.8,596.3 518.8,596.6 519.8,596.4 520.8,596.0 521.8,595.3 522.8,595.7 523.8,595.5 524.8,594.6 525.8,595.3 526.8,594.7 527.8,593.7 528.8,594.5 529.8,593.1 530.8,593.1 531.8,593.3 532.8,592.7 533.8,592.3 534.8,592.0 535.8,591.3 536.8,590.7 537.8,590.0 538.8,589.4 539.8,589.8 540.8,589.3 541.8,588.4 542.8,588.1 543.8,586.9 544.8,586.0 545.8,585.4 546.8,585.3 547.8,583.2 548.8,582.9 549.8,581.6 550.8,581.2 551.8,579.4 552.8,578.1 553.8,576.9 554.8,575.6 555.8,574.3 556.8,572.1 557.8,570.9 558.8,568.0 559.8,566.2 560.8,563.9 561.8,561.7 562.8,560.5 563.8,558.3 564.8,555.4 565.8,553.5 566.8,552.2 567.8,551.3 568.8,550.4 569.8,549.7 570.8,549.4 571.8,549.2 572.8,550.3 573.8,551.3 574.8,553.3 575.8,555.2 576.8,556.7 577.8,558.9 578.8,561.8 579.8,562.9 580.8,566.1 581.8,568.3 582.8,570.3 583.8,571.4 584.8,573.4 585.8,575.0 586.8,576.6 587.8,578.5 588.8,579.4 589.8,580.1 590.8,582.0 591.8,582.5 592.8,583.6 593.8,584.7 594.8,584.6 595.8,586.4 596.8,587.0 597.8,587.4 598.8,588.1 599.8,588.6 600.8,588.8 601.8,589.8 602.8,589.7 603.8,590.8 604.8,591.4 605.8,591.6 606.8,592.2 607.8,593.1 608.8,593.4 609.8,592.6 610.8,593.9 611.8,594.0 612.8,593.5 613.8,594.2 614.8,594.3 615.8,594.3 616.8,595.2 617.8,596.0 618.8,595.4 619.8,596.4 620.8,596.3 621.8,595.8 622.8,597.0 623.8,596.8 624.8,597.4 625.8,597.3 626.8,597.5 627.8,597.1 628.8,597.9 629.8,598.2 630.8,598.2 631.8,597.7 632.8,598.3 633.8,598.1 634.8,597.6 635.8,597.7 636.8,597.8 637.8,598.1 638.8,598.1 639.8,598.7 640.8,599.0 641.8,598.9 642.8,598.8 643.8,599.2 644.8,598.8 645.8,599.1 646.8,599.5 647.8,599.1 648.8,598.9 649.8,599.9 650.8,599.7 651.8,599.3 652.8,599.3 653.8,599.6 654.8,599.7 655.8,599.3 656.8,599.0 657.8,599.3 658.8,600.2 659.8,599.3 660.8,599.8 661.8,599.4 662.8,599.5 663.8,599.5 664.8,599.8 665.8,599.5 666.8,599.3 667.8,599.5 668.8,599.6 669.8,600.0" fill="none" stroke="#2e6fd8" stroke-width="1.5" stroke-linejoin="round"/><polyline points="468.8,598.8 469.8,598.8 470.8,599.3 471.8,599.2 472.8,599.6 473.8,598.7 474.8,599.1 475.8,599.1 476.8,598.5 477.8,599.8 478.8,598.7 479.8,598.5 480.8,599.0 481.8,598.5 482.8,599.1 483.8,598.7 484.8,598.4 485.8,598.2 486.8,599.1 487.8,598.4 488.8,599.1 489.8,598.6 490.8,599.1 491.8,598.2 492.8,598.1 493.8,598.0 494.8,598.7 495.8,598.4 496.8,597.9 497.8,597.4 498.8,598.2 499.8,598.5 500.8,597.9 501.8,596.9 502.8,596.9 503.8,596.8 504.8,596.8 505.8,596.5 506.8,596.4 507.8,597.1 508.8,597.4 509.8,596.2 510.8,597.2 511.8,596.3 512.8,596.6 513.8,596.6 514.8,596.5 515.8,595.0 516.8,595.2 517.8,595.4 518.8,595.7 519.8,594.3 520.8,594.3 521.8,594.9 522.8,593.6 523.8,593.7 524.8,593.4 525.8,593.6 526.8,593.7 527.8,592.3 528.8,592.8 529.8,592.4 530.8,592.2 531.8,591.5 532.8,591.6 533.8,590.4 534.8,590.1 535.8,589.4 536.8,589.7 537.8,588.7 538.8,587.9 539.8,587.2 540.8,587.4 541.8,586.6 542.8,586.1 543.8,584.9 544.8,584.3 545.8,583.0 546.8,582.9 547.8,581.1 548.8,580.7 549.8,580.0 550.8,578.8 551.8,576.7 552.8,575.6 553.8,575.1 554.8,573.3 555.8,572.0 556.8,570.3 557.8,567.9 558.8,566.7 559.8,564.5 560.8,561.9 561.8,559.9 562.8,557.4 563.8,555.9 564.8,554.8 565.8,551.8 566.8,551.0 567.8,549.1 568.8,548.2 569.8,548.5 570.8,547.8 571.8,547.9 572.8,548.8 573.8,550.6 574.8,551.9 575.8,552.7 576.8,554.9 577.8,557.9 578.8,558.9 579.8,561.4 580.8,563.2 581.8,565.7 582.8,567.4 583.8,569.5 584.8,570.9 585.8,572.0 586.8,573.5 587.8,574.9 588.8,577.2 589.8,577.5 590.8,578.6 591.8,581.0 592.8,580.9 593.8,582.8 594.8,582.6 595.8,584.0 596.8,584.4 597.8,586.0 598.8,586.4 599.8,587.0 600.8,587.8 601.8,588.5 602.8,588.3 603.8,589.2 604.8,589.5 605.8,589.5 606.8,590.9 607.8,591.0 608.8,591.7 609.8,591.2 610.8,592.0 611.8,592.3 612.8,593.0 613.8,592.3 614.8,593.0 615.8,593.5 616.8,593.2 617.8,594.1 618.8,594.6 619.8,594.4 620.8,595.0 621.8,595.1 622.8,594.8 623.8,595.2 624.8,596.3 625.8,595.5 626.8,595.9 627.8,595.5 628.8,595.9 629.8,596.0 630.8,597.2 631.8,597.1 632.8,597.4 633.8,597.7 634.8,597.3 635.8,597.9 636.8,597.4 637.8,597.4 638.8,598.2 639.8,598.3 640.8,598.4 641.8,597.9 642.8,598.4 643.8,597.9 644.8,598.8 645.8,598.8 646.8,598.0 647.8,599.0 648.8,598.0 649.8,597.9 650.8,598.9 651.8,598.4 652.8,598.7 653.8,598.9 654.8,598.2 655.8,599.2 656.8,598.6 657.8,598.9 658.8,598.8 659.8,599.4 660.8,599.4 661.8,598.8 662.8,598.6 663.8,598.9 664.8,599.1 665.8,598.7 666.8,598.8 667.8,599.7 668.8,599.6 669.8,600.0" fill="none" stroke="#2aa55a" stroke-width="1.5" stroke-linejoin="round"/><polyline points="468.8,600.0 469.8,599.8 470.8,599.1 471.8,598.8 472.8,599.0 473.8,599.1 474.8,599.2 475.8,599.2 476.8,598.9 477.8,599.5 478.8,598.7 479.8,598.9 480.8,599.5 481.8,599.3 482.8,598.5 483.8,598.4 484.8,599.1 485.8,598.0 486.8,598.1 487.8,598.6 488.8,598.5 489.8,597.9 490.8,597.7 491.8,597.9 492.8,598.6 493.8,598.1 494.8,598.7 495.8,598.4 496.8,598.5 497.8,597.1 498.8,597.2 499.8,596.9 500.8,597.4 501.8,597.1 502.8,596.6 503.8,597.2 504.8,596.4 505.8,596.6 506.8,596.4 507.8,597.0 508.8,596.3 509.8,596.0 510.8,595.5 511.8,595.9 512.8,596.0 513.8,595.9 514.8,596.0 515.8,595.7 516.8,594.7 517.8,594.3 518.8,595.0 519.8,594.8 520.8,594.2 521.8,594.4 522.8,593.8 523.8,593.1 524.8,592.7 525.8,592.2 526.8,592.7 527.8,592.8 528.8,592.5 529.8,591.5 530.8,591.4 531.8,591.4 532.8,590.8 533.8,590.1 534.8,589.4 535.8,589.1 536.8,588.1 537.8,587.6 538.8,587.8 539.8,587.6 540.8,586.4 541.8,585.6 542.8,584.8 543.8,584.2 544.8,583.9 545.8,582.6 546.8,582.4 547.8,580.3 548.8,579.5 549.8,578.7 550.8,577.4 551.8,576.8 552.8,575.4 553.8,574.1 554.8,572.1 555.8,569.7 556.8,568.8 557.8,566.9 558.8,565.0 559.8,562.8 560.8,561.4 561.8,559.6 562.8,556.5 563.8,555.4 564.8,553.1 565.8,551.7 566.8,550.7 567.8,549.7 568.8,548.4 569.8,547.3 570.8,548.2 571.8,547.5 572.8,548.5 573.8,550.1 574.8,550.8 575.8,552.3 576.8,555.0 577.8,556.9 578.8,558.0 579.8,560.1 580.8,562.0 581.8,563.7 582.8,565.8 583.8,568.6 584.8,569.1 585.8,571.0 586.8,572.5 587.8,573.8 588.8,575.8 589.8,577.4 590.8,578.7 591.8,579.5 592.8,580.8 593.8,580.7 594.8,582.0 595.8,583.8 596.8,583.3 597.8,584.4 598.8,585.4 599.8,585.8 600.8,586.8 601.8,586.7 602.8,587.5 603.8,589.0 604.8,588.4 605.8,589.9 606.8,589.4 607.8,590.9 608.8,590.9 609.8,591.2 610.8,590.9 611.8,591.1 612.8,592.5 613.8,592.0 614.8,592.3 615.8,593.5 616.8,593.8 617.8,592.9 618.8,594.5 619.8,594.1 620.8,594.2 621.8,594.0 622.8,594.6 623.8,595.7 624.8,594.9 625.8,594.9 626.8,595.1 627.8,595.2 628.8,595.7 629.8,596.7 630.8,595.7 631.8,596.0 632.8,597.2 633.8,597.4 634.8,597.5 635.8,596.6 636.8,596.9 637.8,597.8 638.8,597.3 639.8,597.7 640.8,597.3 641.8,597.0 642.8,597.5 643.8,598.2 644.8,598.3 645.8,598.1 646.8,598.0 647.8,598.2 648.8,598.2 649.8,598.4 650.8,598.9 651.8,598.0 652.8,598.6 653.8,599.2 654.8,599.1 655.8,598.2 656.8,599.4 657.8,599.3 658.8,598.4 659.8,598.6 660.8,598.5 661.8,598.4 662.8,599.7 663.8,598.9 664.8,599.6 665.8,598.6 666.8,598.5 667.8,599.7 668.8,599.7 669.8,600.0" fill="none" stroke="#a070e0" stroke-width="1.5" stroke-linejoin="round"/><polyline points="468.8,598.8 469.8,598.6 470.8,598.9 471.8,597.9 472.8,598.5 473.8,598.3 474.8,597.8 475.8,598.4 476.8,598.0 477.8,598.2 478.8,598.0 479.8,597.8 480.8,597.8 481.8,598.1 482.8,598.6 483.8,598.5 484.8,598.3 485.8,598.2 486.8,597.3 487.8,598.2 488.8,597.2 489.8,596.9 490.8,597.3 491.8,597.6 492.8,596.9 493.8,597.2 494.8,596.6 495.8,597.5 496.8,596.7 497.8,596.6 498.8,596.6 499.8,596.9 500.8,596.9 501.8,596.2 502.8,595.9 503.8,596.0 504.8,595.1 505.8,595.5 506.8,595.9 507.8,595.6 508.8,594.5 509.8,595.4 510.8,594.6 511.8,595.2 512.8,594.2 513.8,593.7 514.8,594.0 515.8,594.2 516.8,593.4 517.8,593.8 518.8,593.3 519.8,592.6 520.8,592.2 521.8,592.2 522.8,591.8 523.8,591.4 524.8,591.5 525.8,591.5 526.8,590.8 527.8,589.8 528.8,589.5 529.8,589.3 530.8,589.3 531.8,588.2 532.8,587.6 533.8,587.5 534.8,587.0 535.8,586.1 536.8,586.3 537.8,586.2 538.8,585.1 539.8,584.7 540.8,584.1 541.8,583.4 542.8,582.8 543.8,581.3 544.8,580.7 545.8,579.0 546.8,579.1 547.8,577.4 548.8,576.4 549.8,575.8 550.8,573.6 551.8,572.2 552.8,571.6 553.8,569.8 554.8,567.4 555.8,565.7 556.8,564.3 557.8,562.0 558.8,561.2 559.8,558.4 560.8,556.5 561.8,554.7 562.8,552.9 563.8,551.0 564.8,549.5 565.8,548.0 566.8,546.4 567.8,544.9 568.8,545.4 569.8,544.6 570.8,543.8 571.8,544.6 572.8,545.8 573.8,547.2 574.8,547.2 575.8,548.6 576.8,551.0 577.8,552.8 578.8,555.4 579.8,557.3 580.8,558.6 581.8,560.7 582.8,562.8 583.8,565.1 584.8,565.9 585.8,567.9 586.8,569.1 587.8,571.4 588.8,571.9 589.8,574.6 590.8,575.3 591.8,576.5 592.8,576.9 593.8,578.2 594.8,579.5 595.8,581.0 596.8,581.4 597.8,581.9 598.8,583.6 599.8,583.9 600.8,584.4 601.8,584.6 602.8,585.3 603.8,586.8 604.8,586.2 605.8,587.3 606.8,587.9 607.8,588.0 608.8,589.1 609.8,589.7 610.8,590.0 611.8,590.2 612.8,589.9 613.8,590.0 614.8,590.9 615.8,591.0 616.8,591.2 617.8,592.4 618.8,591.8 619.8,592.9 620.8,593.4 621.8,592.5 622.8,593.8 623.8,593.3 624.8,593.3 625.8,593.5 626.8,593.5 627.8,594.3 628.8,594.4 629.8,595.2 630.8,595.4 631.8,594.5 632.8,595.1 633.8,595.3 634.8,595.1 635.8,595.4 636.8,595.5 637.8,596.3 638.8,595.9 639.8,595.7 640.8,596.0 641.8,596.4 642.8,596.7 643.8,596.4 644.8,597.1 645.8,596.5 646.8,597.3 647.8,597.3 648.8,596.8 649.8,597.7 650.8,597.3 651.8,597.5 652.8,597.7 653.8,597.8 654.8,597.6 655.8,597.2 656.8,598.2 657.8,598.4 658.8,598.0 659.8,598.1 660.8,597.8 661.8,598.7 662.8,598.4 663.8,597.8 664.8,598.7 665.8,599.0 666.8,598.2 667.8,599.1 668.8,598.4 669.8,598.0" fill="none" stroke="#ff7f0e" stroke-width="1.5" stroke-linejoin="round"/><rect x="468.5" y="439.2" width="202.3" height="162.5" fill="none" stroke="#000" stroke-width="1.3"/><line x1="468.4" y1="601.7" x2="468.4" y2="598.5" stroke="#000" stroke-width="1"/><line x1="502.0" y1="601.7" x2="502.0" y2="599.7" stroke="#000" stroke-width="1"/><line x1="535.7" y1="601.7" x2="535.7" y2="598.5" stroke="#000" stroke-width="1"/><line x1="569.3" y1="601.7" x2="569.3" y2="599.7" stroke="#000" stroke-width="1"/><line x1="603.0" y1="601.7" x2="603.0" y2="598.5" stroke="#000" stroke-width="1"/><line x1="636.6" y1="601.7" x2="636.6" y2="599.7" stroke="#000" stroke-width="1"/><line x1="670.3" y1="601.7" x2="670.3" y2="598.5" stroke="#000" stroke-width="1"/><text x="468.4" y="617.2" font-family="'Liberation Sans', sans-serif" font-size="11.3" fill="#222" text-anchor="middle">0</text><text x="535.7" y="617.2" font-family="'Liberation Sans', sans-serif" font-size="11.3" fill="#222" text-anchor="middle">60</text><text x="603.0" y="617.2" font-family="'Liberation Sans', sans-serif" font-size="11.3" fill="#222" text-anchor="middle">120</text><text x="670.3" y="617.2" font-family="'Liberation Sans', sans-serif" font-size="11.3" fill="#222" text-anchor="middle">180</text><text x="559.5" y="628.3" font-family="'Liberation Serif', serif" font-size="12.5" fill="#222"><tspan font-style="italic">Ψ</tspan>(°)</text><text transform="translate(463.2,517.4) rotate(-90)" font-family="'Liberation Sans', sans-serif" font-size="10.5" fill="#222" text-anchor="middle">Intensity (a.u.)</text><rect x="468.6" y="439.2" width="121" height="98.5" fill="#fff" stroke="#000" stroke-width="1"/><line x1="468.6" y1="440" x2="589.6" y2="440" stroke="#000" stroke-width="2"/><clipPath id="cpin"><rect x="469" y="440" width="120.5" height="97.5"/></clipPath><g clip-path="url(#cpin)"><line x1="495.2" y1="439" x2="480.9" y2="537.7" stroke="#404040" stroke-width="1.6"/><line x1="499.3" y1="439" x2="484.6" y2="537.7" stroke="#ff7f0e" stroke-width="1.6"/><line x1="509" y1="439" x2="498.9" y2="537.7" stroke="#a070e0" stroke-width="1.6"/><line x1="516" y1="439" x2="505.8" y2="537.7" stroke="#2aa55a" stroke-width="1.6"/><line x1="520.1" y1="439" x2="509" y2="537.7" stroke="#e8383d" stroke-width="1.6"/><line x1="524.2" y1="439" x2="514" y2="537.7" stroke="#2e6fd8" stroke-width="1.6"/><line x1="535" y1="439" x2="543.8" y2="537.7" stroke="#2e6fd8" stroke-width="1.6"/><line x1="539.1" y1="439" x2="552.8" y2="537.7" stroke="#e8383d" stroke-width="1.6"/><line x1="546.3" y1="439" x2="555.5" y2="537.7" stroke="#2aa55a" stroke-width="1.6"/><line x1="554" y1="439" x2="563.6" y2="537.7" stroke="#a070e0" stroke-width="1.6"/><path d="M557.9,439 C560.9,470 565.9,480 573.9,537.7" fill="none" stroke="#ff7f0e" stroke-width="1.6"/><line x1="565" y1="439" x2="578.6" y2="537.7" stroke="#404040" stroke-width="1.6"/></g><line x1="468.6" y1="489.3" x2="589.6" y2="489.3" stroke="#000" stroke-width="1.6" stroke-dasharray="5 2.6"/><line x1="468.6" y1="537.7" x2="589.6" y2="537.7" stroke="#000" stroke-width="1"/><text x="526" y="541" font-family="'Liberation Sans', sans-serif" font-size="6" fill="#000" font-style="italic">//</text><text x="526" y="443.5" font-family="'Liberation Sans', sans-serif" font-size="6" fill="#000" font-style="italic">//</text><text x="488" y="545.8" font-family="'Liberation Sans', sans-serif" font-size="6.6" fill="#222" text-anchor="middle">40</text><text x="530" y="545.8" font-family="'Liberation Sans', sans-serif" font-size="6.6" fill="#222" text-anchor="middle">120</text><text x="570" y="545.8" font-family="'Liberation Sans', sans-serif" font-size="6.6" fill="#222" text-anchor="middle">140</text><line x1="595" y1="447.8" x2="617.6" y2="447.8" stroke="#404040" stroke-width="1.8"/><text x="617.4" y="451.3" font-family="'Liberation Sans', sans-serif" font-size="9.9" fill="#222">HH</text><line x1="595" y1="460.0" x2="617.6" y2="460.0" stroke="#e8383d" stroke-width="1.8"/><text x="617.4" y="463.5" font-family="'Liberation Sans', sans-serif" font-size="9.9" fill="#222">0.5GNS/HH</text><line x1="595" y1="472.2" x2="617.6" y2="472.2" stroke="#2e6fd8" stroke-width="1.8"/><text x="617.4" y="475.7" font-family="'Liberation Sans', sans-serif" font-size="9.9" fill="#222">1GNS/HH</text><line x1="595" y1="484.3" x2="617.6" y2="484.3" stroke="#2aa55a" stroke-width="1.8"/><text x="617.4" y="487.8" font-family="'Liberation Sans', sans-serif" font-size="9.9" fill="#222">2GNS/HH</text><line x1="595" y1="496.5" x2="617.6" y2="496.5" stroke="#a070e0" stroke-width="1.8"/><text x="617.4" y="500.0" font-family="'Liberation Sans', sans-serif" font-size="9.9" fill="#222">5GNS/HH</text><line x1="595" y1="508.7" x2="617.6" y2="508.7" stroke="#ff7f0e" stroke-width="1.8"/><text x="617.4" y="512.2" font-family="'Liberation Sans', sans-serif" font-size="9.9" fill="#222">8GNS/HH</text><text x="449.6" y="459.6" font-size="20" fill="#000" text-anchor="start" >l</text></g><g id="panelM"><rect x="30.5" y="632" width="123.5" height="118.1" fill="rgb(31,31,31)" filter="url(#fm0)"/><rect x="192" y="631.6" width="123.5" height="118.2" fill="rgb(31,31,31)" filter="url(#fm1)"/><rect x="350.2" y="631.8" width="123.2" height="118.3" fill="rgb(97,97,97)" filter="url(#fm2)"/><g filter="url(#fm3)"><rect x="507.8" y="632" width="123.4" height="118.3" fill="rgb(94,94,94)"/><g filter="url(#bl2)"><ellipse cx="524" cy="641" rx="5" ry="8" fill="rgb(158,158,158)"/><ellipse cx="548" cy="692" rx="6" ry="10" fill="rgb(143,143,143)"/><ellipse cx="558" cy="735" rx="4" ry="8" fill="rgb(158,158,158)"/><ellipse cx="602" cy="710" rx="5" ry="8" fill="rgb(133,133,133)"/></g></g><path d="M454.5,631 Q466,632.5 474,636.5 L474,631 Z" fill="#fff"/><line x1="30.5" y1="632" x2="30.5" y2="750.1" stroke="#000" stroke-width="1"/><line x1="30.5" y1="750.1" x2="154" y2="750.1" stroke="#000" stroke-width="1"/><line x1="30.5" y1="750.1" x2="27.5" y2="750.1" stroke="#000" stroke-width="0.9"/><text x="26.7" y="753.3" font-family="'Liberation Sans', sans-serif" font-size="9.2" fill="#222" text-anchor="end">0</text><line x1="30.5" y1="738.8" x2="28.7" y2="738.8" stroke="#000" stroke-width="0.9"/><line x1="30.5" y1="727.5" x2="27.5" y2="727.5" stroke="#000" stroke-width="0.9"/><text x="26.7" y="730.7" font-family="'Liberation Sans', sans-serif" font-size="9.2" fill="#222" text-anchor="end">50</text><line x1="30.5" y1="716.2" x2="28.7" y2="716.2" stroke="#000" stroke-width="0.9"/><line x1="30.5" y1="704.9" x2="27.5" y2="704.9" stroke="#000" stroke-width="0.9"/><text x="26.7" y="708.1" font-family="'Liberation Sans', sans-serif" font-size="9.2" fill="#222" text-anchor="end">100</text><line x1="30.5" y1="693.6" x2="28.7" y2="693.6" stroke="#000" stroke-width="0.9"/><line x1="30.5" y1="682.3" x2="27.5" y2="682.3" stroke="#000" stroke-width="0.9"/><text x="26.7" y="685.5" font-family="'Liberation Sans', sans-serif" font-size="9.2" fill="#222" text-anchor="end">150</text><line x1="30.5" y1="671.0" x2="28.7" y2="671.0" stroke="#000" stroke-width="0.9"/><line x1="30.5" y1="659.7" x2="27.5" y2="659.7" stroke="#000" stroke-width="0.9"/><text x="26.7" y="662.9" font-family="'Liberation Sans', sans-serif" font-size="9.2" fill="#222" text-anchor="end">200</text><line x1="30.5" y1="648.4" x2="28.7" y2="648.4" stroke="#000" stroke-width="0.9"/><line x1="30.5" y1="637.1" x2="27.5" y2="637.1" stroke="#000" stroke-width="0.9"/><text x="26.7" y="640.3" font-family="'Liberation Sans', sans-serif" font-size="9.2" fill="#222" text-anchor="end">250</text><line x1="30.5" y1="750.1" x2="30.5" y2="753.1" stroke="#000" stroke-width="0.9"/><text x="30.5" y="761.9" font-family="'Liberation Sans', sans-serif" font-size="9.2" fill="#222" text-anchor="middle">0</text><line x1="42.4" y1="750.1" x2="42.4" y2="751.9" stroke="#000" stroke-width="0.9"/><line x1="54.3" y1="750.1" x2="54.3" y2="753.1" stroke="#000" stroke-width="0.9"/><text x="54.3" y="761.9" font-family="'Liberation Sans', sans-serif" font-size="9.2" fill="#222" text-anchor="middle">50</text><line x1="66.2" y1="750.1" x2="66.2" y2="751.9" stroke="#000" stroke-width="0.9"/><line x1="78.1" y1="750.1" x2="78.1" y2="753.1" stroke="#000" stroke-width="0.9"/><text x="78.1" y="761.9" font-family="'Liberation Sans', sans-serif" font-size="9.2" fill="#222" text-anchor="middle">100</text><line x1="90.0" y1="750.1" x2="90.0" y2="751.9" stroke="#000" stroke-width="0.9"/><line x1="101.9" y1="750.1" x2="101.9" y2="753.1" stroke="#000" stroke-width="0.9"/><text x="101.9" y="761.9" font-family="'Liberation Sans', sans-serif" font-size="9.2" fill="#222" text-anchor="middle">150</text><line x1="113.8" y1="750.1" x2="113.8" y2="751.9" stroke="#000" stroke-width="0.9"/><line x1="125.7" y1="750.1" x2="125.7" y2="753.1" stroke="#000" stroke-width="0.9"/><text x="125.7" y="761.9" font-family="'Liberation Sans', sans-serif" font-size="9.2" fill="#222" text-anchor="middle">200</text><line x1="137.6" y1="750.1" x2="137.6" y2="751.9" stroke="#000" stroke-width="0.9"/><line x1="149.5" y1="750.1" x2="149.5" y2="753.1" stroke="#000" stroke-width="0.9"/><text x="149.5" y="761.9" font-family="'Liberation Sans', sans-serif" font-size="9.2" fill="#222" text-anchor="middle">250</text><text x="92.2" y="772.3" font-family="'Liberation Sans', sans-serif" font-size="11.1" fill="#222" text-anchor="middle">x (Å)</text><line x1="192" y1="631.6" x2="192" y2="749.8" stroke="#000" stroke-width="1"/><line x1="192" y1="749.8" x2="315.5" y2="749.8" stroke="#000" stroke-width="1"/><line x1="192" y1="749.8" x2="189" y2="749.8" stroke="#000" stroke-width="0.9"/><text x="188.2" y="753.0" font-family="'Liberation Sans', sans-serif" font-size="9.2" fill="#222" text-anchor="end">0</text><line x1="192" y1="738.5" x2="190.2" y2="738.5" stroke="#000" stroke-width="0.9"/><line x1="192" y1="727.2" x2="189" y2="727.2" stroke="#000" stroke-width="0.9"/><text x="188.2" y="730.4" font-family="'Liberation Sans', sans-serif" font-size="9.2" fill="#222" text-anchor="end">50</text><line x1="192" y1="715.9" x2="190.2" y2="715.9" stroke="#000" stroke-width="0.9"/><line x1="192" y1="704.6" x2="189" y2="704.6" stroke="#000" stroke-width="0.9"/><text x="188.2" y="707.8" font-family="'Liberation Sans', sans-serif" font-size="9.2" fill="#222" text-anchor="end">100</text><line x1="192" y1="693.3" x2="190.2" y2="693.3" stroke="#000" stroke-width="0.9"/><line x1="192" y1="682.0" x2="189" y2="682.0" stroke="#000" stroke-width="0.9"/><text x="188.2" y="685.2" font-family="'Liberation Sans', sans-serif" font-size="9.2" fill="#222" text-anchor="end">150</text><line x1="192" y1="670.7" x2="190.2" y2="670.7" stroke="#000" stroke-width="0.9"/><line x1="192" y1="659.4" x2="189" y2="659.4" stroke="#000" stroke-width="0.9"/><text x="188.2" y="662.6" font-family="'Liberation Sans', sans-serif" font-size="9.2" fill="#222" text-anchor="end">200</text><line x1="192" y1="648.1" x2="190.2" y2="648.1" stroke="#000" stroke-width="0.9"/><line x1="192" y1="636.8" x2="189" y2="636.8" stroke="#000" stroke-width="0.9"/><text x="188.2" y="640.0" font-family="'Liberation Sans', sans-serif" font-size="9.2" fill="#222" text-anchor="end">250</text><line x1="192.0" y1="749.8" x2="192.0" y2="752.8" stroke="#000" stroke-width="0.9"/><text x="192.0" y="761.5999999999999" font-family="'Liberation Sans', sans-serif" font-size="9.2" fill="#222" text-anchor="middle">0</text><line x1="203.9" y1="749.8" x2="203.9" y2="751.5999999999999" stroke="#000" stroke-width="0.9"/><line x1="215.8" y1="749.8" x2="215.8" y2="752.8" stroke="#000" stroke-width="0.9"/><text x="215.8" y="761.5999999999999" font-family="'Liberation Sans', sans-serif" font-size="9.2" fill="#222" text-anchor="middle">50</text><line x1="227.7" y1="749.8" x2="227.7" y2="751.5999999999999" stroke="#000" stroke-width="0.9"/><line x1="239.6" y1="749.8" x2="239.6" y2="752.8" stroke="#000" stroke-width="0.9"/><text x="239.6" y="761.5999999999999" font-family="'Liberation Sans', sans-serif" font-size="9.2" fill="#222" text-anchor="middle">100</text><line x1="251.5" y1="749.8" x2="251.5" y2="751.5999999999999" stroke="#000" stroke-width="0.9"/><line x1="263.4" y1="749.8" x2="263.4" y2="752.8" stroke="#000" stroke-width="0.9"/><text x="263.4" y="761.5999999999999" font-family="'Liberation Sans', sans-serif" font-size="9.2" fill="#222" text-anchor="middle">150</text><line x1="275.3" y1="749.8" x2="275.3" y2="751.5999999999999" stroke="#000" stroke-width="0.9"/><line x1="287.2" y1="749.8" x2="287.2" y2="752.8" stroke="#000" stroke-width="0.9"/><text x="287.2" y="761.5999999999999" font-family="'Liberation Sans', sans-serif" font-size="9.2" fill="#222" text-anchor="middle">200</text><line x1="299.1" y1="749.8" x2="299.1" y2="751.5999999999999" stroke="#000" stroke-width="0.9"/><line x1="311.0" y1="749.8" x2="311.0" y2="752.8" stroke="#000" stroke-width="0.9"/><text x="311.0" y="761.5999999999999" font-family="'Liberation Sans', sans-serif" font-size="9.2" fill="#222" text-anchor="middle">250</text><text x="253.8" y="772.3" font-family="'Liberation Sans', sans-serif" font-size="11.1" fill="#222" text-anchor="middle">x (Å)</text><line x1="350.2" y1="631.8" x2="350.2" y2="750.1" stroke="#000" stroke-width="1"/><line x1="350.2" y1="750.1" x2="473.4" y2="750.1" stroke="#000" stroke-width="1"/><line x1="350.2" y1="750.1" x2="347.2" y2="750.1" stroke="#000" stroke-width="0.9"/><text x="346.4" y="753.3" font-family="'Liberation Sans', sans-serif" font-size="9.2" fill="#222" text-anchor="end">0</text><line x1="350.2" y1="715.5" x2="347.2" y2="715.5" stroke="#000" stroke-width="0.9"/><text x="346.4" y="718.7" font-family="'Liberation Sans', sans-serif" font-size="9.2" fill="#222" text-anchor="end">25</text><line x1="350.2" y1="681.0" x2="347.2" y2="681.0" stroke="#000" stroke-width="0.9"/><text x="346.4" y="684.2" font-family="'Liberation Sans', sans-serif" font-size="9.2" fill="#222" text-anchor="end">50</text><line x1="350.2" y1="646.4" x2="347.2" y2="646.4" stroke="#000" stroke-width="0.9"/><text x="346.4" y="649.6" font-family="'Liberation Sans', sans-serif" font-size="9.2" fill="#222" text-anchor="end">75</text><line x1="350.2" y1="732.8" x2="348.4" y2="732.8" stroke="#000" stroke-width="0.9"/><line x1="350.2" y1="698.2" x2="348.4" y2="698.2" stroke="#000" stroke-width="0.9"/><line x1="350.2" y1="663.7" x2="348.4" y2="663.7" stroke="#000" stroke-width="0.9"/><line x1="350.2" y1="750.1" x2="350.2" y2="753.1" stroke="#000" stroke-width="0.9"/><text x="350.2" y="761.9" font-family="'Liberation Sans', sans-serif" font-size="9.2" fill="#222" text-anchor="middle">500</text><line x1="391.3" y1="750.1" x2="391.3" y2="753.1" stroke="#000" stroke-width="0.9"/><text x="391.3" y="761.9" font-family="'Liberation Sans', sans-serif" font-size="9.2" fill="#222" text-anchor="middle">1000</text><line x1="432.3" y1="750.1" x2="432.3" y2="753.1" stroke="#000" stroke-width="0.9"/><text x="432.3" y="761.9" font-family="'Liberation Sans', sans-serif" font-size="9.2" fill="#222" text-anchor="middle">1500</text><line x1="473.4" y1="750.1" x2="473.4" y2="753.1" stroke="#000" stroke-width="0.9"/><text x="473.4" y="761.9" font-family="'Liberation Sans', sans-serif" font-size="9.2" fill="#222" text-anchor="middle">2000</text><line x1="370.7" y1="750.1" x2="370.7" y2="751.9" stroke="#000" stroke-width="0.9"/><line x1="411.8" y1="750.1" x2="411.8" y2="751.9" stroke="#000" stroke-width="0.9"/><line x1="452.9" y1="750.1" x2="452.9" y2="751.9" stroke="#000" stroke-width="0.9"/><text x="411.8" y="772.3" font-family="'Liberation Sans', sans-serif" font-size="11.1" fill="#222" text-anchor="middle">x (Å)</text><line x1="507.8" y1="632" x2="507.8" y2="750.3" stroke="#000" stroke-width="1"/><line x1="507.8" y1="750.3" x2="631.2" y2="750.3" stroke="#000" stroke-width="1"/><line x1="507.8" y1="750.3" x2="504.8" y2="750.3" stroke="#000" stroke-width="0.9"/><text x="504.0" y="753.5" font-family="'Liberation Sans', sans-serif" font-size="9.2" fill="#222" text-anchor="end">0</text><line x1="507.8" y1="715.7" x2="504.8" y2="715.7" stroke="#000" stroke-width="0.9"/><text x="504.0" y="718.9" font-family="'Liberation Sans', sans-serif" font-size="9.2" fill="#222" text-anchor="end">25</text><line x1="507.8" y1="681.2" x2="504.8" y2="681.2" stroke="#000" stroke-width="0.9"/><text x="504.0" y="684.4" font-family="'Liberation Sans', sans-serif" font-size="9.2" fill="#222" text-anchor="end">50</text><line x1="507.8" y1="646.6" x2="504.8" y2="646.6" stroke="#000" stroke-width="0.9"/><text x="504.0" y="649.8" font-family="'Liberation Sans', sans-serif" font-size="9.2" fill="#222" text-anchor="end">75</text><line x1="507.8" y1="733.0" x2="506.0" y2="733.0" stroke="#000" stroke-width="0.9"/><line x1="507.8" y1="698.4" x2="506.0" y2="698.4" stroke="#000" stroke-width="0.9"/><line x1="507.8" y1="663.9" x2="506.0" y2="663.9" stroke="#000" stroke-width="0.9"/><line x1="507.8" y1="750.3" x2="507.8" y2="753.3" stroke="#000" stroke-width="0.9"/><text x="507.8" y="762.0999999999999" font-family="'Liberation Sans', sans-serif" font-size="9.2" fill="#222" text-anchor="middle">500</text><line x1="548.9" y1="750.3" x2="548.9" y2="753.3" stroke="#000" stroke-width="0.9"/><text x="548.9" y="762.0999999999999" font-family="'Liberation Sans', sans-serif" font-size="9.2" fill="#222" text-anchor="middle">1000</text><line x1="590.1" y1="750.3" x2="590.1" y2="753.3" stroke="#000" stroke-width="0.9"/><text x="590.1" y="762.0999999999999" font-family="'Liberation Sans', sans-serif" font-size="9.2" fill="#222" text-anchor="middle">1500</text><line x1="631.2" y1="750.3" x2="631.2" y2="753.3" stroke="#000" stroke-width="0.9"/><text x="631.2" y="762.0999999999999" font-family="'Liberation Sans', sans-serif" font-size="9.2" fill="#222" text-anchor="middle">2000</text><line x1="528.4" y1="750.3" x2="528.4" y2="752.0999999999999" stroke="#000" stroke-width="0.9"/><line x1="569.5" y1="750.3" x2="569.5" y2="752.0999999999999" stroke="#000" stroke-width="0.9"/><line x1="610.6" y1="750.3" x2="610.6" y2="752.0999999999999" stroke="#000" stroke-width="0.9"/><text x="569.5" y="772.3" font-family="'Liberation Sans', sans-serif" font-size="11.1" fill="#222" text-anchor="middle">x (Å)</text><text transform="translate(10.6,691.2) rotate(-90)" font-family="'Liberation Sans', sans-serif" font-size="11.1" fill="#222" text-anchor="middle">z (Å)</text><text transform="translate(171.8,691.2) rotate(-90)" font-family="'Liberation Sans', sans-serif" font-size="11.1" fill="#222" text-anchor="middle">z (Å)</text><text transform="translate(334.6,691.2) rotate(-90)" font-family="'Liberation Sans', sans-serif" font-size="11.1" fill="#222" text-anchor="middle">z (Å)</text><text transform="translate(493.2,691.2) rotate(-90)" font-family="'Liberation Sans', sans-serif" font-size="11.1" fill="#222" text-anchor="middle">z (Å)</text><text x="101.8" y="647.3" font-family="'Liberation Sans', sans-serif" font-size="10.2" fill="#fff">Initial state</text><text x="109.8" y="659.8" font-family="'Liberation Sans', sans-serif" font-size="10.2" fill="#fff">(<tspan font-style="italic">ε</tspan>=0%)</text><text x="131.8" y="737.2" font-family="'Liberation Sans', sans-serif" font-size="10.2" fill="#fff">HH</text><text x="263" y="647.3" font-family="'Liberation Sans', sans-serif" font-size="10.2" fill="#fff">Initial state</text><text x="271.4" y="659.8" font-family="'Liberation Sans', sans-serif" font-size="10.2" fill="#fff">(<tspan font-style="italic">ε</tspan>=0%)</text><text x="261.7" y="739.2" font-family="'Liberation Sans', sans-serif" font-size="10.2" fill="#fff">1GNS/HH</text><text x="421.7" y="646.6" font-family="'Liberation Sans', sans-serif" font-size="10.2" fill="#fff">Elongation</text><text x="423.5" y="659.6" font-family="'Liberation Sans', sans-serif" font-size="10.2" fill="#fff">(<tspan font-style="italic">ε</tspan>=600%)</text><text x="453.2" y="737.1" font-family="'Liberation Sans', sans-serif" font-size="10.2" fill="#fff">HH</text><text x="579.7" y="647.3" font-family="'Liberation Sans', sans-serif" font-size="10.2" fill="#fff">Elongation</text><text x="581.8" y="660.3" font-family="'Liberation Sans', sans-serif" font-size="10.2" fill="#fff">(<tspan font-style="italic">ε</tspan>=600%)</text><text x="578.8" y="739.2" font-family="'Liberation Sans', sans-serif" font-size="10.2" fill="#fff">1GNS/HH</text><rect x="641.6" y="642.5" width="14.4" height="108.7" fill="url(#gorng)" stroke="#222" stroke-width="0.6"/><line x1="656" y1="751.2" x2="658.5" y2="751.2" stroke="#000" stroke-width="0.8"/><line x1="656" y1="725.6" x2="657.6" y2="725.6" stroke="#000" stroke-width="0.8"/><line x1="656" y1="700.0" x2="658.5" y2="700.0" stroke="#000" stroke-width="0.8"/><line x1="656" y1="674.5" x2="657.6" y2="674.5" stroke="#000" stroke-width="0.8"/><line x1="656" y1="648.9" x2="658.5" y2="648.9" stroke="#000" stroke-width="0.8"/><text x="640" y="641.2" font-family="'Liberation Sans', sans-serif" font-size="10.6" fill="#222">(Å)</text><text x="659.6" y="651.7" font-family="'Liberation Sans', sans-serif" font-size="10.6" fill="#222">800</text><text x="659.6" y="704" font-family="'Liberation Sans', sans-serif" font-size="10.6" fill="#222">400</text><text x="665.4" y="754" font-family="'Liberation Sans', sans-serif" font-size="10.6" fill="#222">0</text><text x="9.5" y="625.2" font-size="20" fill="#000" text-anchor="start" >m</text></g>
<text x="8.6" y="23.3" font-size="20" fill="#000">a</text>
</svg></body></html>
